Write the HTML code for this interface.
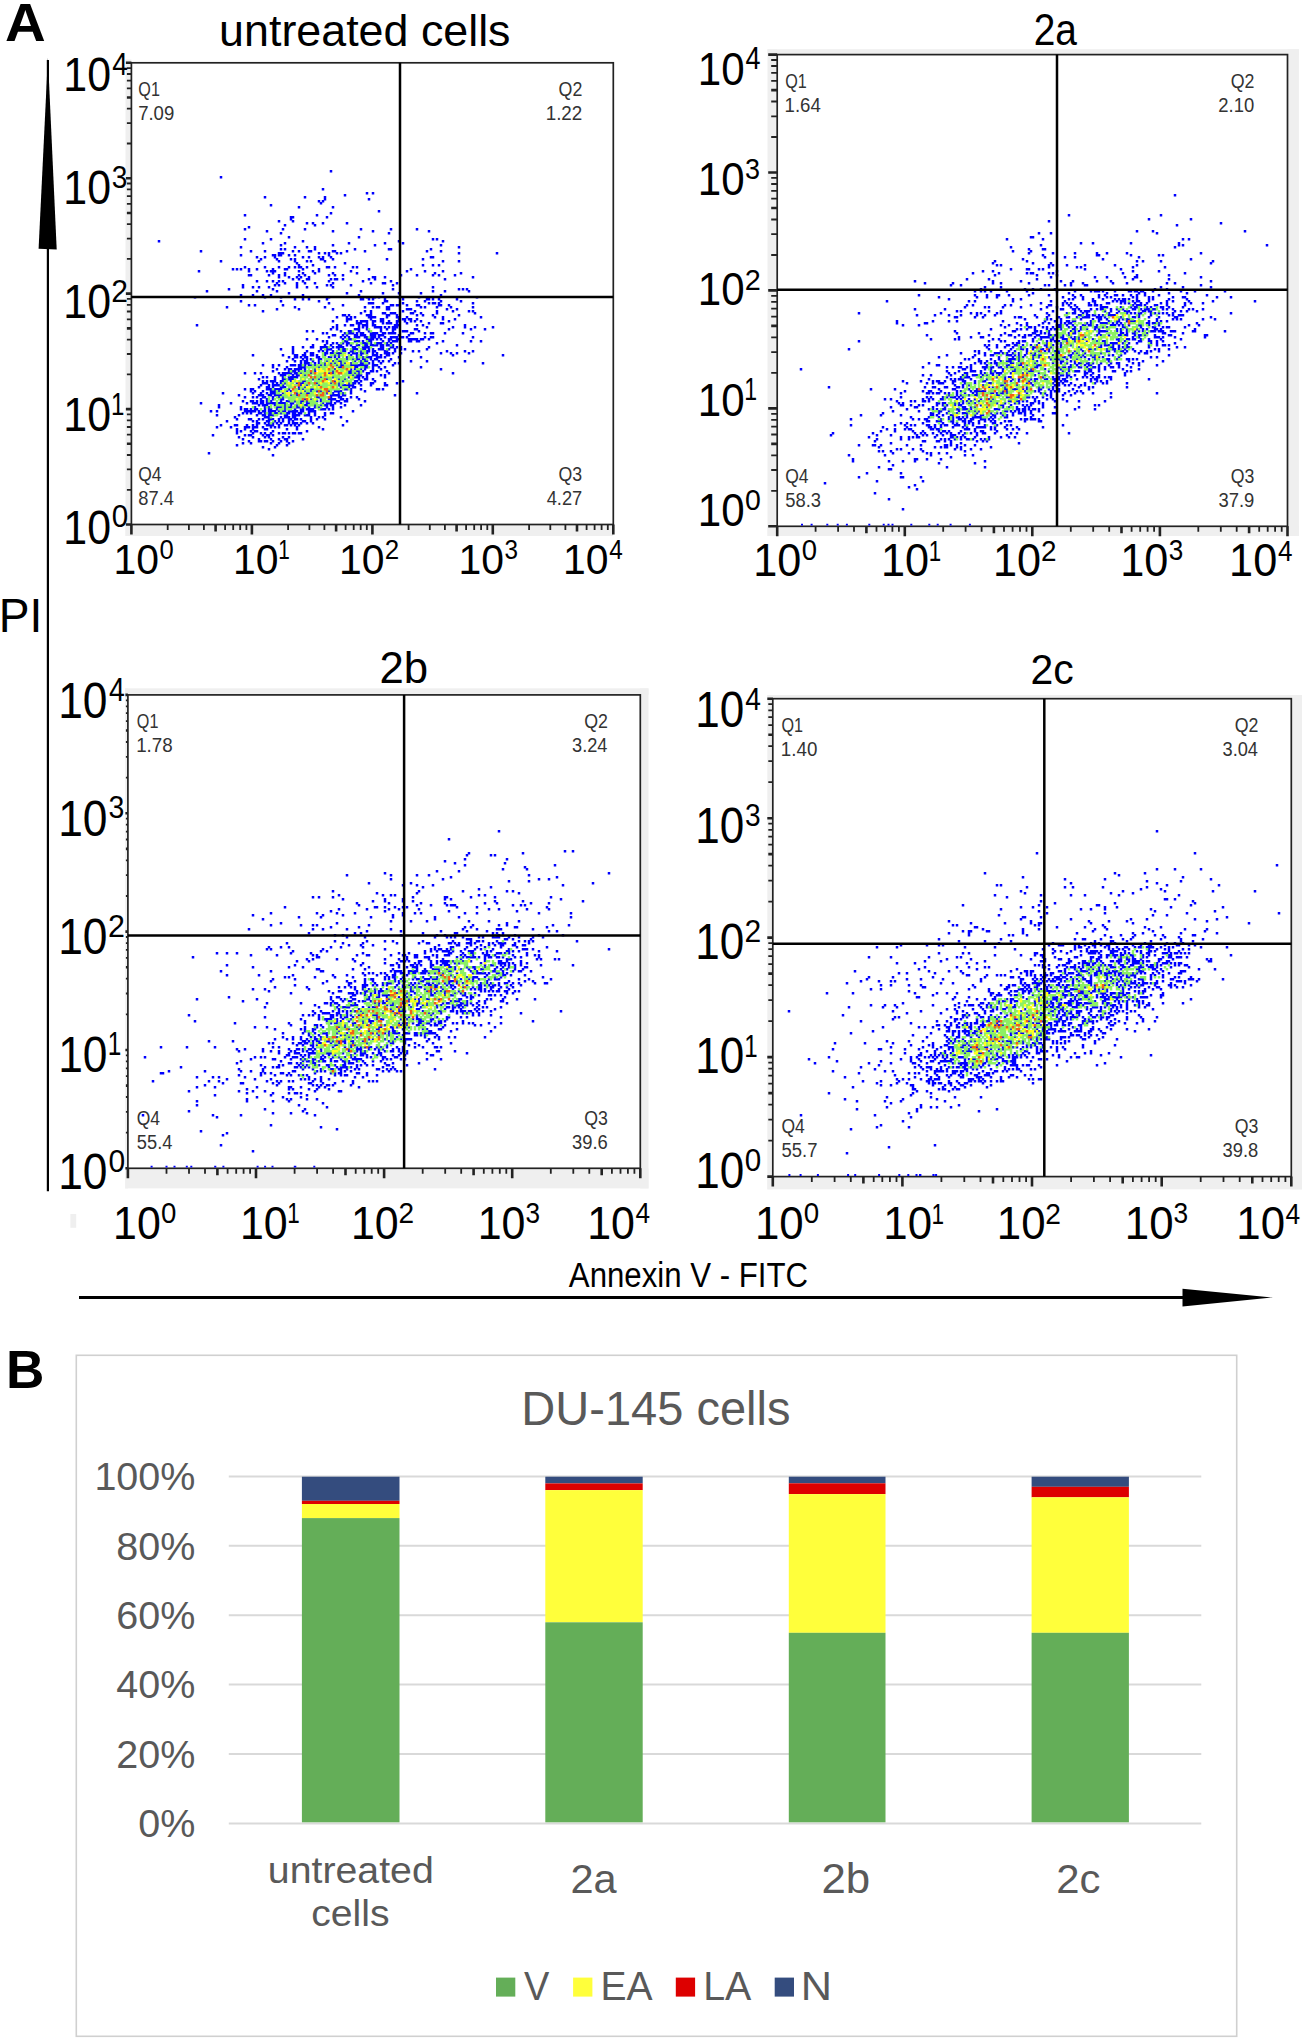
<!DOCTYPE html>
<html><head><meta charset="utf-8"><style>
html,body{margin:0;padding:0;background:#fff;}
svg{display:block;font-family:"Liberation Sans",sans-serif;font-kerning:none;}
</style></head><body>
<svg width="1306" height="2042" viewBox="0 0 1306 2042">
<rect width="1306" height="2042" fill="#fff"/>
<rect x="125.5" y="59.5" width="5.90" height="476.50" fill="#efefef"/>
<rect x="125.5" y="524.5" width="487.50" height="11.50" fill="#efefef"/>
<rect x="131.4" y="62.8" width="481.90" height="461.70" fill="#fff" stroke="#222" stroke-width="1.7"/>
<path d="M315.75 390h2.5M291.75 376h2.5M279.75 374h2.5M355.75 396h2.5M243.75 228h2.5M341.75 314h2.5M401.75 302h2.5M363.75 348h2.5M265.75 424h2.5M427.75 322h2.5M331.75 376h2.5M305.75 360h2.5M345.75 334h2.5M257.75 404h2.5M319.75 408h2.5M415.75 340h2.5M331.75 326h2.5M355.75 352h2.5M237.75 436h2.5M431.75 290h2.5M337.75 390h2.5M269.75 394h2.5M299.75 266h2.5M277.75 406h2.5M337.75 378h2.5M283.75 432h2.5M277.75 394h2.5M363.75 364h2.5M393.75 324h2.5M357.75 378h2.5M257.75 260h2.5M349.75 384h2.5M385.75 316h2.5M283.75 404h2.5M441.75 270h2.5M323.75 352h2.5M265.75 386h2.5M303.75 228h2.5M369.75 316h2.5M287.75 400h2.5M293.75 410h2.5M291.75 250h2.5M321.75 408h2.5M267.75 422h2.5M311.75 388h2.5M395.75 320h2.5M263.75 406h2.5M449.75 306h2.5M397.75 338h2.5M431.75 256h2.5M245.75 426h2.5M389.75 332h2.5M301.75 256h2.5M353.75 372h2.5M205.75 290h2.5M337.75 400h2.5M349.75 344h2.5M309.75 388h2.5M377.75 334h2.5M421.75 264h2.5M281.75 402h2.5M309.75 390h2.5M275.75 422h2.5M339.75 366h2.5M255.75 414h2.5M421.75 258h2.5M379.75 318h2.5M415.75 324h2.5M345.75 316h2.5M287.75 376h2.5M347.75 336h2.5M335.75 364h2.5M453.75 274h2.5M355.75 380h2.5M361.75 280h2.5M331.75 360h2.5M225.75 420h2.5M235.75 268h2.5M315.75 356h2.5M371.75 338h2.5M281.75 386h2.5M423.75 300h2.5M415.75 328h2.5M231.75 268h2.5M269.75 426h2.5M321.75 222h2.5M327.75 254h2.5M307.75 364h2.5M269.75 294h2.5M369.75 342h2.5M335.75 358h2.5M373.75 276h2.5M327.75 390h2.5M343.75 336h2.5M359.75 388h2.5M301.75 296h2.5M359.75 352h2.5M287.75 356h2.5M317.75 396h2.5M335.75 324h2.5M469.75 340h2.5M353.75 348h2.5M349.75 372h2.5M389.75 304h2.5M283.75 410h2.5M313.75 368h2.5M315.75 400h2.5M363.75 378h2.5M385.75 354h2.5M313.75 248h2.5M373.75 332h2.5M261.75 404h2.5M303.75 398h2.5M349.75 338h2.5M353.75 376h2.5M285.75 372h2.5M345.75 318h2.5M375.75 354h2.5M285.75 440h2.5M261.75 426h2.5M343.75 332h2.5M275.75 290h2.5M351.75 384h2.5M371.75 192h2.5M291.75 420h2.5M331.75 282h2.5M295.75 382h2.5M315.75 418h2.5M281.75 378h2.5M323.75 362h2.5M371.75 362h2.5M243.75 214h2.5M391.75 326h2.5M291.75 410h2.5M275.75 444h2.5M455.75 298h2.5M371.75 316h2.5M313.75 414h2.5M327.75 372h2.5M353.75 346h2.5M271.75 380h2.5M393.75 326h2.5M351.75 346h2.5M247.75 268h2.5M243.75 372h2.5M333.75 250h2.5M265.75 382h2.5M307.75 392h2.5M261.75 414h2.5M265.75 380h2.5M277.75 388h2.5M377.75 360h2.5M337.75 360h2.5M295.75 282h2.5M353.75 340h2.5M255.75 408h2.5M343.75 378h2.5M263.75 410h2.5M381.75 292h2.5M271.75 270h2.5M245.75 402h2.5M385.75 306h2.5M283.75 242h2.5M297.75 366h2.5M327.75 252h2.5M379.75 368h2.5M283.75 268h2.5M325.75 360h2.5M379.75 342h2.5M357.75 358h2.5M397.75 362h2.5M289.75 364h2.5M309.75 420h2.5M395.75 316h2.5M331.75 230h2.5M365.75 350h2.5M283.75 374h2.5M379.75 326h2.5M333.75 266h2.5M329.75 394h2.5M353.75 382h2.5M289.75 368h2.5M261.75 418h2.5M349.75 332h2.5M401.75 310h2.5M265.75 404h2.5M475.75 296h2.5M327.75 280h2.5M377.75 306h2.5M293.75 354h2.5M353.75 328h2.5M471.75 350h2.5M329.75 382h2.5M247.75 434h2.5M273.75 254h2.5M311.75 270h2.5M235.75 430h2.5M295.75 372h2.5M371.75 370h2.5M365.75 376h2.5M447.75 304h2.5M457.75 246h2.5M355.75 364h2.5M283.75 386h2.5M457.75 314h2.5M325.75 352h2.5M381.75 282h2.5M355.75 348h2.5M307.75 278h2.5M309.75 260h2.5M261.75 380h2.5M415.75 300h2.5M287.75 236h2.5M263.75 416h2.5M367.75 372h2.5M307.75 298h2.5M289.75 378h2.5M393.75 336h2.5M415.75 228h2.5M313.75 272h2.5M337.75 392h2.5M243.75 434h2.5M299.75 392h2.5M387.75 232h2.5M465.75 288h2.5M359.75 350h2.5M341.75 392h2.5M387.75 314h2.5M285.75 414h2.5M443.75 332h2.5M369.75 370h2.5M273.75 446h2.5M365.75 314h2.5M347.75 332h2.5M377.75 356h2.5M333.75 368h2.5M387.75 306h2.5M333.75 354h2.5M351.75 386h2.5M363.75 310h2.5M301.75 406h2.5M299.75 402h2.5M317.75 416h2.5M299.75 418h2.5M431.75 274h2.5M437.75 298h2.5M337.75 356h2.5M321.75 258h2.5M313.75 282h2.5M253.75 408h2.5M333.75 274h2.5M331.75 286h2.5M255.75 396h2.5M407.75 318h2.5M425.75 360h2.5M333.75 334h2.5M401.75 336h2.5M333.75 362h2.5M409.75 268h2.5M293.75 298h2.5M253.75 406h2.5M461.75 288h2.5M339.75 362h2.5M293.75 408h2.5M337.75 366h2.5M435.75 238h2.5M423.75 332h2.5M269.75 238h2.5M211.75 434h2.5M309.75 364h2.5M283.75 416h2.5M331.75 250h2.5M365.75 364h2.5M361.75 326h2.5M291.75 278h2.5M317.75 384h2.5M295.75 392h2.5M251.75 402h2.5M293.75 364h2.5M353.75 316h2.5M357.75 326h2.5M287.75 420h2.5M317.75 268h2.5M451.75 326h2.5M319.75 364h2.5M253.75 372h2.5M409.75 338h2.5M275.75 388h2.5M301.75 366h2.5M373.75 296h2.5M323.75 346h2.5M331.75 394h2.5M271.75 280h2.5M421.75 338h2.5M295.75 376h2.5M327.75 356h2.5M343.75 404h2.5M283.75 224h2.5M301.75 294h2.5M331.75 346h2.5M435.75 342h2.5M281.75 432h2.5M409.75 340h2.5M367.75 356h2.5M249.75 250h2.5M247.75 418h2.5M305.75 430h2.5M359.75 384h2.5M351.75 364h2.5M371.75 336h2.5M281.75 396h2.5M273.75 412h2.5M433.75 272h2.5M279.75 416h2.5M287.75 368h2.5M279.75 412h2.5M335.75 328h2.5M407.75 340h2.5M305.75 392h2.5M301.75 380h2.5M285.75 268h2.5M355.75 334h2.5M261.75 376h2.5M249.75 274h2.5M359.75 322h2.5M343.75 362h2.5M355.75 266h2.5M309.75 398h2.5M381.75 332h2.5M343.75 394h2.5M411.75 332h2.5M271.75 418h2.5M265.75 416h2.5M373.75 358h2.5M351.75 358h2.5M349.75 364h2.5M319.75 398h2.5M299.75 360h2.5M277.75 252h2.5M279.75 380h2.5M355.75 340h2.5M275.75 408h2.5M365.75 372h2.5M299.75 382h2.5M335.75 316h2.5M269.75 204h2.5M279.75 244h2.5M207.75 452h2.5M437.75 264h2.5M277.75 402h2.5M295.75 374h2.5M363.75 324h2.5M265.75 440h2.5M393.75 362h2.5M321.75 200h2.5M267.75 388h2.5M375.75 332h2.5M291.75 416h2.5M457.75 252h2.5M291.75 440h2.5M289.75 258h2.5M303.75 368h2.5M273.75 284h2.5M325.75 348h2.5M259.75 258h2.5M431.75 302h2.5M359.75 312h2.5M279.75 348h2.5M427.75 338h2.5M317.75 366h2.5M333.75 390h2.5M457.75 288h2.5M261.75 400h2.5M417.75 350h2.5M287.75 388h2.5M319.75 400h2.5M267.75 274h2.5M305.75 408h2.5M271.75 254h2.5M263.75 432h2.5M303.75 390h2.5M311.75 422h2.5M383.75 242h2.5M287.75 412h2.5M261.75 310h2.5M305.75 356h2.5M241.75 412h2.5M391.75 330h2.5M269.75 424h2.5M301.75 268h2.5M269.75 414h2.5M347.75 386h2.5M341.75 342h2.5M353.75 360h2.5M251.75 420h2.5M273.75 376h2.5M483.75 328h2.5M439.75 352h2.5M381.75 322h2.5M291.75 422h2.5M317.75 378h2.5M195.75 324h2.5M451.75 354h2.5M295.75 404h2.5M263.75 256h2.5M331.75 258h2.5M321.75 256h2.5M471.75 310h2.5M317.75 358h2.5M441.75 322h2.5M391.75 328h2.5M299.75 356h2.5M367.75 346h2.5M325.75 350h2.5M265.75 388h2.5M361.75 358h2.5M375.75 352h2.5M379.75 330h2.5M455.75 352h2.5M357.75 340h2.5M301.75 382h2.5M419.75 338h2.5M359.75 354h2.5M359.75 380h2.5M279.75 406h2.5M291.75 358h2.5M369.75 338h2.5M267.75 448h2.5M247.75 410h2.5M443.75 278h2.5M425.75 298h2.5M283.75 382h2.5M401.75 380h2.5M293.75 246h2.5M381.75 340h2.5M339.75 364h2.5M469.75 328h2.5M245.75 424h2.5M431.75 264h2.5M373.75 316h2.5M353.75 334h2.5M379.75 348h2.5M289.75 218h2.5M307.75 412h2.5M219.75 176h2.5M359.75 334h2.5M501.75 354h2.5M251.75 432h2.5M259.75 400h2.5M361.75 376h2.5M405.75 304h2.5M293.75 260h2.5M359.75 368h2.5M417.75 340h2.5M193.75 296h2.5M289.75 390h2.5M423.75 306h2.5M383.75 336h2.5M371.75 354h2.5M319.75 346h2.5M357.75 328h2.5M337.75 396h2.5M383.75 332h2.5M361.75 370h2.5M331.75 272h2.5M369.75 358h2.5M467.75 352h2.5M297.75 386h2.5M369.75 382h2.5M347.75 384h2.5M277.75 284h2.5M257.75 410h2.5M347.75 314h2.5M367.75 198h2.5M345.75 344h2.5M333.75 380h2.5M379.75 344h2.5M429.75 336h2.5M431.75 286h2.5M309.75 416h2.5M347.75 372h2.5M375.75 364h2.5M271.75 386h2.5M441.75 240h2.5M305.75 286h2.5M335.75 394h2.5M325.75 216h2.5M329.75 404h2.5M269.75 418h2.5M299.75 364h2.5M463.75 350h2.5M381.75 302h2.5M279.75 386h2.5M363.75 334h2.5M261.75 294h2.5M385.75 308h2.5M331.75 244h2.5M319.75 390h2.5M273.75 388h2.5M331.75 320h2.5M363.75 320h2.5M373.75 336h2.5M283.75 406h2.5M371.75 306h2.5M433.75 302h2.5M263.75 266h2.5M279.75 398h2.5M295.75 428h2.5M331.75 392h2.5M455.75 344h2.5M303.75 196h2.5M373.75 344h2.5M243.75 266h2.5M373.75 364h2.5M371.75 230h2.5M405.75 322h2.5M435.75 312h2.5M393.75 312h2.5M241.75 400h2.5M323.75 344h2.5M329.75 348h2.5M267.75 412h2.5M279.75 252h2.5M289.75 418h2.5M429.75 256h2.5M271.75 390h2.5M279.75 400h2.5M443.75 290h2.5M397.75 240h2.5M263.75 436h2.5M371.75 298h2.5M471.75 276h2.5M299.75 412h2.5M363.75 368h2.5M495.75 252h2.5M405.75 270h2.5M305.75 278h2.5M347.75 242h2.5M371.75 366h2.5M311.75 330h2.5M305.75 384h2.5M323.75 260h2.5M249.75 412h2.5M345.75 384h2.5M339.75 360h2.5M343.75 194h2.5M345.75 222h2.5M291.75 348h2.5M285.75 390h2.5M301.75 358h2.5M273.75 402h2.5M351.75 350h2.5M335.75 390h2.5M289.75 394h2.5M345.75 356h2.5M329.75 356h2.5M345.75 320h2.5M445.75 350h2.5M383.75 376h2.5M383.75 282h2.5M391.75 346h2.5M353.75 368h2.5M345.75 400h2.5M285.75 366h2.5M291.75 220h2.5M257.75 378h2.5M301.75 280h2.5M239.75 268h2.5M353.75 364h2.5M383.75 276h2.5M277.75 254h2.5M423.75 336h2.5M341.75 338h2.5M461.75 332h2.5M281.75 374h2.5M405.75 316h2.5M281.75 392h2.5M361.75 342h2.5M271.75 454h2.5M459.75 272h2.5M361.75 298h2.5M279.75 394h2.5M371.75 382h2.5M409.75 332h2.5M411.75 350h2.5M333.75 394h2.5M425.75 326h2.5M377.75 348h2.5M359.75 320h2.5M405.75 330h2.5M343.75 400h2.5M243.75 238h2.5M307.75 410h2.5M313.75 406h2.5M307.75 256h2.5M441.75 260h2.5M379.75 334h2.5M301.75 408h2.5M479.75 316h2.5M305.75 266h2.5M381.75 388h2.5M367.75 348h2.5M371.75 302h2.5M491.75 326h2.5M473.75 326h2.5M305.75 400h2.5M423.75 270h2.5M311.75 352h2.5M279.75 440h2.5M293.75 356h2.5M397.75 292h2.5M293.75 424h2.5M303.75 364h2.5M329.75 170h2.5M229.75 426h2.5M277.75 432h2.5M383.75 298h2.5M355.75 376h2.5M363.75 366h2.5M395.75 282h2.5M297.75 266h2.5M309.75 410h2.5M257.75 438h2.5M299.75 400h2.5M313.75 404h2.5M307.75 362h2.5M397.75 356h2.5M357.75 372h2.5M369.75 356h2.5M361.75 320h2.5M297.75 432h2.5M301.75 438h2.5M323.75 414h2.5M281.75 420h2.5M259.75 398h2.5M305.75 260h2.5M293.75 368h2.5M269.75 432h2.5M291.75 374h2.5M241.75 284h2.5M415.75 274h2.5M297.75 374h2.5M429.75 248h2.5M363.75 346h2.5M355.75 370h2.5M277.75 384h2.5M431.75 314h2.5M381.75 334h2.5M369.75 344h2.5M365.75 360h2.5M325.75 284h2.5M341.75 274h2.5M433.75 316h2.5M425.75 250h2.5M379.75 362h2.5M379.75 320h2.5M389.75 342h2.5M399.75 336h2.5M371.75 348h2.5M257.75 286h2.5M323.75 418h2.5M263.75 396h2.5M259.75 440h2.5M301.75 388h2.5M351.75 348h2.5M331.75 398h2.5M355.75 358h2.5M357.75 370h2.5M373.75 334h2.5M381.75 344h2.5M399.75 274h2.5M307.75 414h2.5M471.75 302h2.5M323.75 196h2.5M353.75 248h2.5M367.75 316h2.5M295.75 286h2.5M439.75 304h2.5M283.75 372h2.5M317.75 270h2.5M307.75 406h2.5M357.75 336h2.5M293.75 376h2.5M365.75 326h2.5M291.75 352h2.5M299.75 384h2.5M375.75 356h2.5M377.75 326h2.5M337.75 348h2.5M343.75 314h2.5M293.75 414h2.5M389.75 338h2.5M273.75 390h2.5M269.75 388h2.5M371.75 364h2.5M363.75 342h2.5M467.75 290h2.5M429.75 332h2.5M279.75 422h2.5M303.75 380h2.5M435.75 306h2.5M341.75 394h2.5M335.75 278h2.5M349.75 388h2.5M467.75 310h2.5M301.75 272h2.5M355.75 272h2.5M325.75 392h2.5M283.75 274h2.5M365.75 378h2.5M373.75 244h2.5M349.75 330h2.5M361.75 364h2.5M341.75 424h2.5M289.75 216h2.5M227.75 288h2.5M375.75 306h2.5M251.75 400h2.5M345.75 250h2.5M317.75 360h2.5M421.75 314h2.5M395.75 322h2.5M457.75 260h2.5M375.75 344h2.5M287.75 292h2.5M257.75 422h2.5M269.75 400h2.5M419.75 356h2.5M357.75 330h2.5M387.75 332h2.5M301.75 240h2.5M431.75 238h2.5M277.75 276h2.5M269.75 408h2.5M283.75 272h2.5M257.75 394h2.5M289.75 380h2.5M357.75 236h2.5M313.75 364h2.5M303.75 374h2.5M353.75 366h2.5M277.75 280h2.5M441.75 316h2.5M395.75 324h2.5M351.75 266h2.5M295.75 394h2.5M439.75 244h2.5M407.75 334h2.5M275.75 394h2.5M409.75 360h2.5M277.75 390h2.5M387.75 326h2.5M401.75 242h2.5M255.75 290h2.5M349.75 284h2.5M377.75 296h2.5M273.75 420h2.5M339.75 352h2.5M329.75 344h2.5M439.75 294h2.5M311.75 222h2.5M319.75 376h2.5M357.75 294h2.5M427.75 230h2.5M393.75 340h2.5M381.75 318h2.5M347.75 370h2.5M317.75 362h2.5M437.75 274h2.5M437.75 302h2.5M297.75 274h2.5M299.75 372h2.5M439.75 250h2.5M357.75 398h2.5M391.75 352h2.5M273.75 404h2.5M241.75 442h2.5M285.75 400h2.5M327.75 402h2.5M299.75 410h2.5M323.75 252h2.5M325.75 346h2.5M331.75 372h2.5M283.75 248h2.5M265.75 230h2.5M257.75 418h2.5M339.75 416h2.5M229.75 402h2.5M277.75 426h2.5M427.75 298h2.5M317.75 300h2.5M303.75 274h2.5M419.75 292h2.5M285.75 444h2.5M339.75 252h2.5M237.75 414h2.5M293.75 432h2.5M293.75 418h2.5M265.75 270h2.5M377.75 210h2.5M381.75 346h2.5M387.75 322h2.5M401.75 330h2.5M317.75 256h2.5M251.75 436h2.5M259.75 402h2.5M343.75 262h2.5M279.75 402h2.5M387.75 338h2.5M327.75 274h2.5M277.75 418h2.5M297.75 388h2.5M301.75 400h2.5M307.75 250h2.5M327.75 296h2.5M377.75 388h2.5M281.75 280h2.5M273.75 426h2.5M273.75 392h2.5M421.75 324h2.5M363.75 250h2.5M367.75 278h2.5M385.75 314h2.5M431.75 332h2.5M365.75 366h2.5M431.75 298h2.5M343.75 348h2.5M225.75 306h2.5M265.75 400h2.5M323.75 364h2.5M403.75 348h2.5M337.75 382h2.5M263.75 408h2.5M243.75 408h2.5M365.75 374h2.5M287.75 266h2.5M355.75 332h2.5M241.75 286h2.5M345.75 358h2.5M325.75 378h2.5M389.75 248h2.5M259.75 412h2.5M439.75 322h2.5M329.75 284h2.5M355.75 374h2.5M291.75 378h2.5M295.75 414h2.5M265.75 420h2.5M451.75 310h2.5M345.75 420h2.5M265.75 398h2.5M299.75 432h2.5M329.75 256h2.5M331.75 206h2.5M297.75 206h2.5M385.75 350h2.5M357.75 364h2.5M371.75 276h2.5M281.75 228h2.5M309.75 408h2.5M393.75 394h2.5M329.75 352h2.5M325.75 342h2.5M263.75 404h2.5M271.75 364h2.5M251.75 396h2.5M285.75 360h2.5M267.75 384h2.5M349.75 368h2.5M361.75 348h2.5M281.75 354h2.5M251.75 286h2.5M445.75 308h2.5M471.75 336h2.5M275.75 258h2.5M271.75 440h2.5M299.75 276h2.5M385.75 352h2.5M235.75 424h2.5M239.75 294h2.5M243.75 396h2.5M271.75 402h2.5M361.75 334h2.5M297.75 406h2.5M365.75 192h2.5M365.75 352h2.5M239.75 254h2.5M319.75 348h2.5M349.75 362h2.5M325.75 266h2.5M391.75 288h2.5M393.75 332h2.5M409.75 312h2.5M239.75 246h2.5M379.75 338h2.5M315.75 382h2.5M331.75 412h2.5M341.75 278h2.5M367.75 268h2.5M233.75 424h2.5M401.75 318h2.5M329.75 278h2.5M365.75 336h2.5M277.75 442h2.5M239.75 300h2.5M255.75 402h2.5M329.75 212h2.5M275.75 368h2.5M379.75 354h2.5M255.75 256h2.5M367.75 298h2.5M359.75 228h2.5M313.75 370h2.5M367.75 314h2.5M277.75 424h2.5M447.75 328h2.5M281.75 252h2.5M393.75 348h2.5M277.75 266h2.5M271.75 410h2.5M271.75 288h2.5M353.75 380h2.5M315.75 354h2.5M331.75 308h2.5M321.75 350h2.5M255.75 280h2.5M271.75 268h2.5M283.75 424h2.5M293.75 412h2.5M387.75 320h2.5M299.75 422h2.5M343.75 384h2.5M275.75 308h2.5M367.75 330h2.5M291.75 402h2.5M383.75 352h2.5M441.75 340h2.5M303.75 370h2.5M351.75 324h2.5M239.75 430h2.5M279.75 382h2.5M331.75 406h2.5M281.75 410h2.5M397.75 318h2.5M267.75 420h2.5M287.75 378h2.5M295.75 368h2.5M377.75 342h2.5M391.75 332h2.5M259.75 384h2.5M373.75 350h2.5M287.75 442h2.5M347.75 338h2.5M319.75 202h2.5M391.75 336h2.5M349.75 350h2.5M335.75 252h2.5M315.75 214h2.5M295.75 422h2.5M251.75 392h2.5M267.75 406h2.5M263.75 412h2.5M317.75 252h2.5M395.75 382h2.5M343.75 350h2.5M331.75 342h2.5M347.75 352h2.5M235.75 432h2.5M303.75 282h2.5M417.75 304h2.5M275.75 282h2.5M455.75 308h2.5M339.75 402h2.5M311.75 360h2.5M275.75 384h2.5M197.75 270h2.5M427.75 302h2.5M307.75 276h2.5M389.75 228h2.5M219.75 260h2.5M263.75 428h2.5M415.75 318h2.5M413.75 328h2.5M279.75 232h2.5M277.75 438h2.5M341.75 398h2.5M261.75 446h2.5M315.75 286h2.5M243.75 388h2.5M295.75 276h2.5M471.75 306h2.5M349.75 316h2.5M289.75 402h2.5M329.75 362h2.5M419.75 312h2.5M367.75 302h2.5M313.75 224h2.5M327.75 398h2.5M279.75 254h2.5M307.75 296h2.5M349.75 392h2.5M425.75 348h2.5M299.75 368h2.5M319.75 258h2.5M463.75 360h2.5M303.75 386h2.5M385.75 258h2.5M353.75 386h2.5M265.75 280h2.5M413.75 338h2.5M387.75 344h2.5M357.75 374h2.5M315.75 338h2.5M215.75 410h2.5M303.75 360h2.5M367.75 362h2.5M271.75 398h2.5M299.75 366h2.5M355.75 366h2.5M351.75 410h2.5M375.75 358h2.5M287.75 432h2.5M329.75 398h2.5M309.75 250h2.5M387.75 360h2.5M411.75 338h2.5M453.75 318h2.5M295.75 262h2.5M251.75 294h2.5M389.75 312h2.5M381.75 312h2.5M383.75 384h2.5M403.75 330h2.5M371.75 368h2.5M415.75 392h2.5M371.75 324h2.5M317.75 406h2.5M269.75 392h2.5M333.75 398h2.5M259.75 394h2.5M321.75 188h2.5M295.75 284h2.5M289.75 406h2.5M343.75 388h2.5M367.75 340h2.5M299.75 408h2.5M281.75 436h2.5M269.75 270h2.5M297.75 308h2.5M281.75 380h2.5M395.75 304h2.5M283.75 402h2.5M305.75 338h2.5M295.75 354h2.5M329.75 328h2.5M293.75 258h2.5M251.75 428h2.5M369.75 282h2.5M369.75 318h2.5M347.75 330h2.5M247.75 304h2.5M287.75 254h2.5M351.75 352h2.5M351.75 374h2.5M287.75 372h2.5M257.75 412h2.5M347.75 382h2.5M383.75 350h2.5M323.75 198h2.5M251.75 388h2.5M305.75 246h2.5M249.75 442h2.5M321.75 416h2.5M271.75 272h2.5M293.75 400h2.5M439.75 300h2.5M237.75 394h2.5M351.75 382h2.5M359.75 364h2.5M417.75 330h2.5M383.75 356h2.5M341.75 380h2.5M271.75 382h2.5M337.75 352h2.5M253.75 402h2.5M427.75 346h2.5M301.75 354h2.5M383.75 326h2.5M311.75 264h2.5M317.75 200h2.5M295.75 426h2.5M399.75 352h2.5M259.75 392h2.5M389.75 322h2.5M247.75 270h2.5M293.75 254h2.5M387.75 372h2.5M273.75 394h2.5M361.75 352h2.5M473.75 312h2.5M271.75 422h2.5M387.75 352h2.5M297.75 264h2.5M249.75 400h2.5M293.75 306h2.5M413.75 310h2.5M355.75 356h2.5M199.75 250h2.5M303.75 354h2.5M313.75 246h2.5M411.75 312h2.5M377.75 366h2.5M357.75 344h2.5M417.75 296h2.5M255.75 268h2.5M335.75 342h2.5M359.75 332h2.5M221.75 392h2.5M339.75 330h2.5M287.75 276h2.5M389.75 358h2.5M297.75 370h2.5M263.75 196h2.5M439.75 368h2.5M289.75 424h2.5M293.75 370h2.5M261.75 242h2.5M297.75 412h2.5M459.75 300h2.5M315.75 396h2.5M297.75 250h2.5M299.75 362h2.5M277.75 364h2.5M337.75 354h2.5M345.75 292h2.5M371.75 332h2.5M261.75 394h2.5M291.75 216h2.5M359.75 290h2.5M279.75 300h2.5M359.75 404h2.5M323.75 412h2.5M365.75 346h2.5M391.75 344h2.5M259.75 432h2.5M355.75 354h2.5M269.75 412h2.5M255.75 420h2.5M297.75 278h2.5M243.75 426h2.5M327.75 266h2.5M323.75 354h2.5M343.75 324h2.5M273.75 270h2.5M351.75 332h2.5M335.75 326h2.5M357.75 382h2.5M309.75 346h2.5M263.75 440h2.5M399.75 346h2.5M365.75 344h2.5M341.75 346h2.5M281.75 372h2.5M261.75 390h2.5M283.75 282h2.5M271.75 434h2.5M247.75 274h2.5M419.75 320h2.5M361.75 346h2.5M403.75 318h2.5M415.75 338h2.5M331.75 408h2.5M321.75 332h2.5M325.75 298h2.5M277.75 274h2.5M329.75 396h2.5M373.75 326h2.5M341.75 384h2.5M247.75 426h2.5M291.75 412h2.5M259.75 372h2.5M311.75 378h2.5M437.75 304h2.5M305.75 414h2.5M243.75 410h2.5M301.75 410h2.5M377.75 336h2.5M217.75 406h2.5M313.75 410h2.5M157.75 240h2.5M309.75 358h2.5M387.75 348h2.5M245.75 408h2.5M261.75 410h2.5M303.75 420h2.5M267.75 286h2.5M383.75 300h2.5M359.75 298h2.5M393.75 328h2.5M285.75 416h2.5M263.75 250h2.5M391.75 284h2.5M235.75 418h2.5M247.75 440h2.5M269.75 402h2.5M269.75 390h2.5M349.75 354h2.5M295.75 418h2.5M287.75 410h2.5M373.75 278h2.5M407.75 338h2.5M297.75 270h2.5M317.75 356h2.5M313.75 362h2.5M365.75 296h2.5M395.75 314h2.5M277.75 220h2.5M283.75 368h2.5M481.75 362h2.5M293.75 266h2.5M311.75 346h2.5M361.75 362h2.5M273.75 380h2.5M219.75 424h2.5M401.75 298h2.5M385.75 384h2.5M293.75 372h2.5M345.75 342h2.5M397.75 320h2.5M363.75 306h2.5M339.75 346h2.5M287.75 406h2.5M337.75 384h2.5M369.75 384h2.5M349.75 318h2.5M387.75 248h2.5M331.75 352h2.5M357.75 376h2.5M349.75 270h2.5M329.75 402h2.5M273.75 378h2.5M361.75 332h2.5M287.75 436h2.5M281.75 398h2.5M389.75 280h2.5M397.75 316h2.5M285.75 412h2.5M367.75 350h2.5M371.75 378h2.5M395.75 338h2.5M311.75 354h2.5M273.75 256h2.5M277.75 260h2.5M305.75 222h2.5M365.75 328h2.5M247.75 226h2.5M279.75 248h2.5M333.75 278h2.5M413.75 320h2.5M375.75 388h2.5M307.75 402h2.5M387.75 354h2.5M309.75 418h2.5M267.75 436h2.5M279.75 388h2.5M397.75 334h2.5M353.75 336h2.5M369.75 340h2.5M371.75 296h2.5M331.75 404h2.5M271.75 392h2.5M449.75 352h2.5M275.75 406h2.5M295.75 410h2.5M249.75 410h2.5M353.75 352h2.5M355.75 344h2.5M305.75 350h2.5M199.75 402h2.5M407.75 308h2.5M289.75 410h2.5M243.75 428h2.5M249.75 390h2.5M371.75 322h2.5M309.75 352h2.5M317.75 426h2.5M385.75 370h2.5M277.75 396h2.5M369.75 336h2.5M383.75 374h2.5M271.75 384h2.5M305.75 362h2.5M339.75 386h2.5M277.75 410h2.5M319.75 358h2.5M283.75 378h2.5M463.75 326h2.5M255.75 424h2.5M373.75 324h2.5M365.75 356h2.5M337.75 394h2.5M399.75 348h2.5M409.75 308h2.5M337.75 344h2.5M267.75 408h2.5M267.75 394h2.5M395.75 336h2.5M255.75 430h2.5M339.75 396h2.5M291.75 370h2.5M303.75 362h2.5M349.75 324h2.5M431.75 336h2.5M363.75 360h2.5M253.75 390h2.5M249.75 430h2.5M415.75 304h2.5M379.75 346h2.5M239.75 406h2.5M369.75 332h2.5M435.75 310h2.5M339.75 344h2.5M309.75 372h2.5M265.75 402h2.5M363.75 400h2.5M241.75 438h2.5M365.75 342h2.5M291.75 364h2.5M271.75 370h2.5M253.75 304h2.5M251.75 424h2.5M261.75 382h2.5M341.75 304h2.5M235.75 428h2.5M447.75 320h2.5M379.75 328h2.5M363.75 358h2.5M361.75 324h2.5M271.75 414h2.5M383.75 366h2.5M265.75 376h2.5M331.75 370h2.5M291.75 432h2.5M395.75 346h2.5M217.75 404h2.5M391.75 304h2.5M311.75 408h2.5M261.75 396h2.5M341.75 350h2.5M239.75 408h2.5M267.75 414h2.5M297.75 414h2.5M405.75 336h2.5M335.75 346h2.5M451.75 372h2.5M463.75 324h2.5M285.75 424h2.5M317.75 350h2.5M341.75 334h2.5M355.75 320h2.5M269.75 410h2.5M341.75 348h2.5M267.75 434h2.5M323.75 306h2.5M409.75 318h2.5M369.75 310h2.5M347.75 376h2.5M381.75 348h2.5M375.75 370h2.5M291.75 346h2.5M301.75 346h2.5M389.75 336h2.5M479.75 340h2.5M419.75 366h2.5M267.75 402h2.5M253.75 410h2.5M397.75 324h2.5M271.75 366h2.5M441.75 318h2.5M245.75 410h2.5M323.75 408h2.5M319.75 404h2.5M359.75 362h2.5M355.75 336h2.5M265.75 392h2.5M261.75 402h2.5M253.75 426h2.5M371.75 344h2.5M415.75 314h2.5M409.75 320h2.5M269.75 442h2.5M383.75 382h2.5M325.75 340h2.5M419.75 306h2.5M403.75 320h2.5M269.75 438h2.5M359.75 360h2.5M267.75 410h2.5M297.75 368h2.5M405.75 308h2.5M369.75 334h2.5M273.75 410h2.5M347.75 342h2.5M257.75 386h2.5M301.75 420h2.5M271.75 396h2.5M285.75 438h2.5M339.75 406h2.5M393.75 350h2.5M325.75 402h2.5M297.75 424h2.5M339.75 336h2.5M291.75 350h2.5M209.75 410h2.5M373.75 380h2.5M373.75 320h2.5M371.75 352h2.5M397.75 296h2.5M369.75 314h2.5M305.75 422h2.5M391.75 340h2.5M355.75 328h2.5M275.75 412h2.5M363.75 344h2.5M301.75 298h2.5M339.75 390h2.5M305.75 404h2.5M395.75 326h2.5M293.75 360h2.5M277.75 372h2.5M285.75 428h2.5M273.75 384h2.5M367.75 338h2.5M333.75 402h2.5M295.75 356h2.5M283.75 438h2.5M249.75 408h2.5M387.75 340h2.5M373.75 354h2.5M345.75 398h2.5M271.75 430h2.5M359.75 374h2.5M291.75 414h2.5M311.75 410h2.5M287.75 416h2.5M303.75 414h2.5M289.75 376h2.5M307.75 408h2.5M297.75 364h2.5M287.75 422h2.5M249.75 418h2.5M305.75 330h2.5M385.75 342h2.5M331.75 350h2.5M343.75 340h2.5M281.75 376h2.5M279.75 296h2.5M355.75 322h2.5M321.75 346h2.5M283.75 414h2.5M385.75 328h2.5M251.75 354h2.5M375.75 338h2.5M357.75 324h2.5M335.75 400h2.5M281.75 418h2.5M365.75 322h2.5M313.75 412h2.5M263.75 382h2.5M339.75 398h2.5M267.75 424h2.5M261.75 364h2.5M395.75 340h2.5M309.75 354h2.5M321.75 428h2.5M233.75 416h2.5M263.75 414h2.5M293.75 416h2.5M371.75 320h2.5M357.75 322h2.5M371.75 350h2.5M327.75 408h2.5M235.75 444h2.5M397.75 304h2.5M371.75 360h2.5M349.75 390h2.5M379.75 374h2.5M329.75 400h2.5M365.75 320h2.5M255.75 400h2.5M271.75 424h2.5M275.75 382h2.5M327.75 302h2.5M341.75 364h2.5M361.75 356h2.5M335.75 352h2.5M277.75 420h2.5M347.75 318h2.5M365.75 338h2.5M363.75 336h2.5M349.75 370h2.5M251.75 410h2.5M383.75 312h2.5M249.75 388h2.5M331.75 334h2.5M287.75 370h2.5M253.75 430h2.5M263.75 422h2.5M381.75 320h2.5M267.75 416h2.5M267.75 386h2.5M323.75 404h2.5M375.75 326h2.5M325.75 404h2.5M325.75 406h2.5M345.75 388h2.5M371.75 334h2.5M303.75 356h2.5M269.75 380h2.5M379.75 356h2.5M265.75 428h2.5M391.75 364h2.5M321.75 340h2.5M321.75 402h2.5M311.75 344h2.5M369.75 312h2.5M281.75 384h2.5M287.75 418h2.5M305.75 358h2.5M329.75 412h2.5M385.75 344h2.5M363.75 390h2.5M305.75 402h2.5M215.75 426h2.5M265.75 434h2.5M303.75 366h2.5M333.75 356h2.5M281.75 304h2.5M249.75 434h2.5M289.75 372h2.5M261.75 434h2.5M327.75 336h2.5M361.75 340h2.5M387.75 308h2.5M255.75 422h2.5M349.75 396h2.5M303.75 404h2.5M245.75 412h2.5M337.75 346h2.5M327.75 348h2.5M257.75 440h2.5M293.75 422h2.5M251.75 426h2.5M365.75 324h2.5M375.75 342h2.5M385.75 300h2.5M381.75 360h2.5M283.75 408h2.5M255.75 426h2.5M295.75 406h2.5M289.75 404h2.5M389.75 346h2.5M345.75 340h2.5M369.75 302h2.5M303.75 352h2.5M215.75 414h2.5M263.75 296h2.5M267.75 418h2.5M325.75 332h2.5M391.75 312h2.5M385.75 322h2.5" stroke="#0000ff" stroke-width="2.5" transform="translate(0,1.25)"/>
<path d="M363.75 352h2.5M313.75 400h2.5M311.75 404h2.5M333.75 358h2.5M329.75 380h2.5M295.75 396h2.5M325.75 396h2.5M291.75 398h2.5M309.75 400h2.5M311.75 372h2.5M309.75 396h2.5M295.75 402h2.5M305.75 372h2.5M317.75 382h2.5M293.75 396h2.5M275.75 396h2.5M327.75 376h2.5M329.75 388h2.5M341.75 354h2.5M281.75 404h2.5M323.75 396h2.5M331.75 368h2.5M349.75 380h2.5M345.75 374h2.5M365.75 340h2.5M351.75 338h2.5M329.75 378h2.5M333.75 374h2.5M325.75 358h2.5M363.75 362h2.5M339.75 384h2.5M323.75 390h2.5M357.75 350h2.5M333.75 388h2.5M323.75 382h2.5M327.75 400h2.5M317.75 394h2.5M351.75 376h2.5M351.75 372h2.5M289.75 370h2.5M307.75 388h2.5M311.75 390h2.5M357.75 346h2.5M331.75 364h2.5M341.75 374h2.5M311.75 382h2.5M309.75 378h2.5M275.75 414h2.5M299.75 396h2.5M339.75 342h2.5M277.75 412h2.5M343.75 366h2.5M307.75 384h2.5M333.75 384h2.5M343.75 368h2.5M329.75 358h2.5M311.75 386h2.5M259.75 408h2.5M289.75 384h2.5M339.75 378h2.5M319.75 402h2.5M313.75 388h2.5M323.75 398h2.5M319.75 372h2.5M323.75 384h2.5M359.75 356h2.5M313.75 384h2.5M293.75 388h2.5M383.75 342h2.5M351.75 370h2.5M367.75 328h2.5M315.75 384h2.5M323.75 400h2.5M341.75 362h2.5M305.75 390h2.5M273.75 398h2.5M325.75 382h2.5M299.75 380h2.5M325.75 386h2.5M277.75 392h2.5M335.75 362h2.5M369.75 346h2.5M355.75 368h2.5M341.75 368h2.5M303.75 394h2.5M321.75 378h2.5M337.75 388h2.5M329.75 392h2.5M265.75 406h2.5M291.75 396h2.5M335.75 360h2.5M319.75 360h2.5M313.75 380h2.5M321.75 398h2.5M347.75 356h2.5M301.75 386h2.5M323.75 394h2.5M317.75 364h2.5M339.75 392h2.5M329.75 370h2.5M287.75 404h2.5M321.75 376h2.5M343.75 352h2.5M295.75 388h2.5M283.75 394h2.5M321.75 382h2.5M323.75 386h2.5M337.75 376h2.5M329.75 376h2.5M317.75 404h2.5M349.75 358h2.5M311.75 402h2.5M333.75 364h2.5M339.75 354h2.5M325.75 366h2.5M301.75 396h2.5M319.75 366h2.5M337.75 364h2.5M283.75 412h2.5M317.75 380h2.5M289.75 386h2.5M323.75 360h2.5M343.75 380h2.5M293.75 394h2.5M311.75 368h2.5M347.75 364h2.5M285.75 404h2.5M309.75 404h2.5M317.75 388h2.5M323.75 358h2.5M331.75 362h2.5M329.75 390h2.5M275.75 400h2.5M297.75 392h2.5M305.75 380h2.5M291.75 382h2.5M321.75 386h2.5M303.75 384h2.5M335.75 388h2.5M299.75 398h2.5M273.75 414h2.5M359.75 342h2.5M323.75 368h2.5M359.75 372h2.5M331.75 388h2.5M303.75 412h2.5M309.75 366h2.5M309.75 392h2.5M321.75 352h2.5M325.75 384h2.5M327.75 358h2.5M315.75 388h2.5M351.75 360h2.5M287.75 386h2.5M299.75 386h2.5M321.75 396h2.5M305.75 376h2.5M333.75 370h2.5M323.75 392h2.5M309.75 382h2.5M323.75 376h2.5M325.75 400h2.5M335.75 366h2.5M291.75 406h2.5M285.75 388h2.5M313.75 378h2.5M297.75 372h2.5M345.75 348h2.5M313.75 396h2.5M361.75 350h2.5M283.75 388h2.5M301.75 402h2.5M293.75 390h2.5M349.75 356h2.5M327.75 346h2.5M343.75 374h2.5M367.75 366h2.5M315.75 398h2.5M323.75 366h2.5M309.75 386h2.5M339.75 350h2.5M333.75 372h2.5M325.75 364h2.5M363.75 350h2.5M319.75 392h2.5M283.75 380h2.5M337.75 380h2.5M303.75 382h2.5M277.75 404h2.5M299.75 370h2.5M321.75 364h2.5M355.75 362h2.5M307.75 390h2.5M307.75 380h2.5M303.75 388h2.5M327.75 364h2.5M365.75 358h2.5M287.75 384h2.5M321.75 356h2.5M365.75 354h2.5M293.75 398h2.5M301.75 364h2.5M339.75 382h2.5M323.75 356h2.5M287.75 398h2.5M301.75 392h2.5M319.75 388h2.5M297.75 380h2.5M281.75 394h2.5M355.75 372h2.5M319.75 378h2.5M347.75 354h2.5M291.75 386h2.5M297.75 398h2.5M321.75 404h2.5M321.75 366h2.5M301.75 374h2.5M343.75 392h2.5M275.75 390h2.5M309.75 374h2.5M305.75 366h2.5M327.75 378h2.5M295.75 390h2.5M279.75 404h2.5M305.75 388h2.5M297.75 404h2.5M339.75 368h2.5M341.75 370h2.5M345.75 380h2.5M353.75 338h2.5M357.75 360h2.5M331.75 354h2.5M307.75 396h2.5M311.75 364h2.5M325.75 374h2.5M389.75 344h2.5M279.75 396h2.5M279.75 410h2.5M295.75 384h2.5M293.75 378h2.5M307.75 404h2.5M303.75 372h2.5M281.75 408h2.5M303.75 396h2.5M313.75 390h2.5M303.75 406h2.5M303.75 378h2.5M311.75 376h2.5M323.75 370h2.5M341.75 376h2.5M351.75 378h2.5M341.75 352h2.5M315.75 386h2.5M347.75 380h2.5M327.75 360h2.5M341.75 360h2.5M299.75 378h2.5M321.75 372h2.5M335.75 374h2.5M301.75 372h2.5M321.75 400h2.5M317.75 392h2.5M345.75 386h2.5M299.75 406h2.5M283.75 392h2.5M353.75 358h2.5M269.75 422h2.5M385.75 348h2.5M343.75 372h2.5M303.75 400h2.5M293.75 384h2.5M315.75 402h2.5M315.75 364h2.5M335.75 378h2.5M363.75 356h2.5M315.75 380h2.5M319.75 362h2.5M351.75 362h2.5M315.75 374h2.5M301.75 404h2.5M293.75 406h2.5M313.75 394h2.5M353.75 374h2.5M289.75 398h2.5M301.75 394h2.5M359.75 370h2.5M285.75 380h2.5M345.75 370h2.5M303.75 376h2.5M307.75 400h2.5M347.75 366h2.5M351.75 356h2.5M311.75 384h2.5M317.75 368h2.5M345.75 338h2.5M251.75 406h2.5M297.75 396h2.5M319.75 380h2.5M325.75 376h2.5M311.75 370h2.5M315.75 378h2.5M287.75 396h2.5M271.75 420h2.5M317.75 374h2.5M345.75 332h2.5M307.75 394h2.5M317.75 372h2.5M303.75 392h2.5M309.75 362h2.5M271.75 388h2.5M343.75 364h2.5M339.75 370h2.5M345.75 366h2.5M335.75 382h2.5M367.75 342h2.5M281.75 382h2.5M281.75 406h2.5M285.75 396h2.5M343.75 376h2.5M279.75 384h2.5M333.75 376h2.5M283.75 396h2.5M355.75 342h2.5M321.75 362h2.5M319.75 396h2.5M329.75 368h2.5M283.75 376h2.5M307.75 372h2.5M329.75 366h2.5M285.75 378h2.5M291.75 400h2.5M299.75 390h2.5M327.75 384h2.5M329.75 354h2.5M349.75 378h2.5M305.75 370h2.5M305.75 374h2.5M307.75 368h2.5M305.75 382h2.5M321.75 368h2.5M269.75 404h2.5M349.75 366h2.5M291.75 394h2.5M335.75 376h2.5M311.75 400h2.5M351.75 342h2.5M275.75 392h2.5M269.75 406h2.5M301.75 376h2.5M335.75 384h2.5M287.75 374h2.5M267.75 400h2.5M343.75 358h2.5M357.75 354h2.5M265.75 412h2.5M279.75 408h2.5M311.75 392h2.5M311.75 394h2.5M327.75 362h2.5M289.75 382h2.5M345.75 360h2.5M333.75 360h2.5M317.75 408h2.5M327.75 370h2.5M357.75 368h2.5M319.75 384h2.5M315.75 404h2.5M321.75 384h2.5M327.75 388h2.5M335.75 386h2.5M361.75 360h2.5M353.75 370h2.5M315.75 376h2.5M339.75 358h2.5M343.75 386h2.5M321.75 390h2.5M289.75 400h2.5M297.75 400h2.5M269.75 416h2.5M335.75 354h2.5M331.75 384h2.5M275.75 404h2.5M331.75 382h2.5M309.75 402h2.5M323.75 348h2.5M347.75 358h2.5M367.75 336h2.5M341.75 358h2.5M313.75 374h2.5M275.75 402h2.5M319.75 406h2.5M285.75 408h2.5M329.75 386h2.5M365.75 362h2.5M271.75 412h2.5M283.75 390h2.5M273.75 406h2.5M341.75 340h2.5M313.75 402h2.5M349.75 342h2.5M331.75 374h2.5M285.75 394h2.5M277.75 408h2.5M315.75 406h2.5M307.75 378h2.5M299.75 394h2.5M315.75 366h2.5M329.75 384h2.5M361.75 366h2.5M339.75 348h2.5M285.75 406h2.5M345.75 378h2.5M337.75 368h2.5M343.75 360h2.5M293.75 404h2.5M309.75 394h2.5M361.75 344h2.5M347.75 374h2.5M301.75 370h2.5M337.75 358h2.5M337.75 374h2.5M309.75 380h2.5M307.75 370h2.5M289.75 392h2.5M359.75 348h2.5M357.75 356h2.5M285.75 384h2.5M267.75 398h2.5M339.75 376h2.5M333.75 352h2.5M341.75 382h2.5M267.75 396h2.5M317.75 376h2.5M299.75 376h2.5M341.75 388h2.5M311.75 398h2.5M285.75 382h2.5M353.75 362h2.5M295.75 400h2.5M345.75 364h2.5M373.75 342h2.5M281.75 412h2.5M289.75 408h2.5M345.75 372h2.5M349.75 374h2.5M293.75 380h2.5M351.75 330h2.5M311.75 358h2.5M341.75 386h2.5M341.75 378h2.5M285.75 402h2.5M339.75 380h2.5M299.75 388h2.5M311.75 366h2.5M359.75 366h2.5M277.75 398h2.5M369.75 330h2.5M353.75 350h2.5M287.75 408h2.5M297.75 402h2.5M341.75 356h2.5M319.75 374h2.5M279.75 390h2.5M289.75 396h2.5M335.75 350h2.5M321.75 354h2.5M313.75 366h2.5M349.75 348h2.5M347.75 388h2.5M349.75 382h2.5M307.75 366h2.5" stroke="#8cf064" stroke-width="2.5" transform="translate(0,1.25)"/>
<path d="M349.75 376h2.5M317.75 370h2.5M325.75 362h2.5M325.75 372h2.5M325.75 368h2.5M287.75 382h2.5M335.75 380h2.5M327.75 374h2.5M329.75 360h2.5M307.75 386h2.5M321.75 374h2.5M337.75 370h2.5M295.75 380h2.5M287.75 394h2.5M347.75 368h2.5M301.75 384h2.5M321.75 370h2.5M305.75 396h2.5M337.75 362h2.5M301.75 378h2.5M329.75 374h2.5M351.75 366h2.5M343.75 370h2.5M287.75 392h2.5M319.75 370h2.5M327.75 366h2.5M291.75 384h2.5M335.75 368h2.5M317.75 386h2.5M345.75 362h2.5M291.75 390h2.5M295.75 398h2.5M333.75 386h2.5M313.75 386h2.5M343.75 354h2.5M319.75 368h2.5M313.75 392h2.5M325.75 370h2.5M301.75 390h2.5M327.75 392h2.5M285.75 392h2.5M341.75 372h2.5M299.75 404h2.5M307.75 398h2.5M333.75 378h2.5M315.75 372h2.5M297.75 390h2.5M305.75 386h2.5M281.75 390h2.5M325.75 380h2.5M327.75 386h2.5M321.75 388h2.5M323.75 380h2.5M313.75 398h2.5M315.75 368h2.5M335.75 372h2.5M299.75 374h2.5M347.75 362h2.5M291.75 380h2.5M319.75 382h2.5M327.75 382h2.5M345.75 382h2.5" stroke="#ffff20" stroke-width="2.5" transform="translate(0,1.25)"/>
<path d="M321.75 392h2.5M313.75 372h2.5M315.75 394h2.5M297.75 394h2.5M305.75 398h2.5M331.75 366h2.5M309.75 376h2.5M323.75 372h2.5M317.75 390h2.5M313.75 382h2.5M297.75 382h2.5M345.75 368h2.5M331.75 380h2.5M327.75 396h2.5M339.75 372h2.5M341.75 366h2.5M319.75 394h2.5M301.75 398h2.5M331.75 386h2.5M327.75 368h2.5M325.75 388h2.5M323.75 388h2.5M337.75 372h2.5M323.75 378h2.5M307.75 382h2.5M293.75 386h2.5M297.75 384h2.5M319.75 386h2.5M291.75 388h2.5M329.75 372h2.5M321.75 380h2.5M307.75 374h2.5M305.75 394h2.5M329.75 364h2.5M325.75 390h2.5M333.75 382h2.5M293.75 392h2.5M335.75 370h2.5M313.75 376h2.5M321.75 394h2.5M309.75 370h2.5M323.75 374h2.5" stroke="#f06018" stroke-width="2.5" transform="translate(0,1.25)"/>
<path d="M126.9 489.8H131.4M167.7 524.5V530.0M126.9 469.4H131.4M188.9 524.5V530.0M126.9 455.0H131.4M203.9 524.5V530.0M126.9 434.7H131.4M225.1 524.5V530.0M126.9 427.0H131.4M233.2 524.5V530.0M126.9 420.3H131.4M240.2 524.5V530.0M126.9 414.4H131.4M246.4 524.5V530.0M126.9 374.3H131.4M288.1 524.5V530.0M126.9 354.0H131.4M309.4 524.5V530.0M126.9 339.6H131.4M324.4 524.5V530.0M126.9 319.3H131.4M345.6 524.5V530.0M126.9 311.5H131.4M353.7 524.5V530.0M126.9 304.8H131.4M360.7 524.5V530.0M126.9 298.9H131.4M366.8 524.5V530.0M126.9 258.9H131.4M408.6 524.5V530.0M126.9 238.6H131.4M429.8 524.5V530.0M126.9 224.2H131.4M444.9 524.5V530.0M126.9 203.8H131.4M466.1 524.5V530.0M126.9 196.1H131.4M474.2 524.5V530.0M126.9 189.4H131.4M481.1 524.5V530.0M126.9 183.5H131.4M487.3 524.5V530.0M126.9 143.5H131.4M529.1 524.5V530.0M126.9 123.2H131.4M550.3 524.5V530.0M126.9 108.7H131.4M565.4 524.5V530.0M126.9 88.4H131.4M586.6 524.5V530.0M126.9 80.7H131.4M594.6 524.5V530.0M126.9 74.0H131.4M601.6 524.5V530.0M126.9 68.1H131.4M607.8 524.5V530.0" stroke="#222" stroke-width="1.8" fill="none"/><path d="M125.9 524.5H131.4M131.4 524.5V534.5M126.9 443.8H131.4M215.6 524.5V531.5M125.9 409.1H131.4M251.9 524.5V534.5M126.9 328.4H131.4M336.1 524.5V531.5M125.9 293.6H131.4M372.4 524.5V534.5M126.9 213.0H131.4M456.6 524.5V531.5M125.9 178.2H131.4M492.8 524.5V534.5M126.9 97.5H131.4M577.0 524.5V531.5M125.9 62.8H131.4M613.3 524.5V534.5" stroke="#222" stroke-width="2.6" fill="none"/><path d="M131.4 297.0H613.3M400.0 62.8V524.5" stroke="#000" stroke-width="2.5" fill="none"/>
<rect x="767.5" y="49.2" width="9.70" height="486.80" fill="#efefef"/>
<rect x="767.5" y="526.3" width="531.40" height="9.70" fill="#efefef"/>
<rect x="767.5" y="49.2" width="531.40" height="5.40" fill="#efefef"/>
<rect x="1287.5" y="49.2" width="11.40" height="486.80" fill="#efefef"/>
<rect x="777.2" y="54.6" width="510.30" height="471.70" fill="#fff" stroke="#222" stroke-width="1.7"/>
<path d="M1059.75 360h2.5M1055.75 270h2.5M977.75 410h2.5M1041.75 268h2.5M1091.75 366h2.5M949.75 456h2.5M915.75 458h2.5M1173.75 282h2.5M1079.75 390h2.5M995.75 424h2.5M939.75 424h2.5M955.75 392h2.5M1093.75 290h2.5M1173.75 310h2.5M999.75 392h2.5M1041.75 404h2.5M949.75 284h2.5M995.75 344h2.5M1077.75 354h2.5M1087.75 358h2.5M1149.75 314h2.5M979.75 418h2.5M1027.75 334h2.5M1155.75 304h2.5M1101.75 258h2.5M1073.75 338h2.5M1181.75 238h2.5M1103.75 344h2.5M1145.75 350h2.5M1109.75 376h2.5M1025.75 364h2.5M1065.75 376h2.5M1175.75 318h2.5M1011.75 250h2.5M987.75 306h2.5M1121.75 272h2.5M1077.75 346h2.5M1127.75 358h2.5M1029.75 344h2.5M941.75 402h2.5M945.75 412h2.5M979.75 376h2.5M957.75 418h2.5M975.75 388h2.5M1059.75 318h2.5M991.75 374h2.5M1105.75 302h2.5M1009.75 362h2.5M1001.75 392h2.5M979.75 426h2.5M1033.75 366h2.5M951.75 366h2.5M975.75 434h2.5M1083.75 316h2.5M921.75 480h2.5M1055.75 376h2.5M1105.75 306h2.5M1157.75 330h2.5M1027.75 380h2.5M1137.75 300h2.5M1071.75 294h2.5M973.75 410h2.5M995.75 352h2.5M1069.75 282h2.5M1099.75 362h2.5M1033.75 378h2.5M1001.75 384h2.5M999.75 404h2.5M905.75 426h2.5M1195.75 322h2.5M1147.75 308h2.5M899.75 436h2.5M1133.75 338h2.5M1059.75 328h2.5M1039.75 392h2.5M1167.75 314h2.5M939.75 458h2.5M1041.75 238h2.5M1029.75 334h2.5M1125.75 252h2.5M1005.75 238h2.5M963.75 444h2.5M935.75 434h2.5M909.75 424h2.5M1005.75 344h2.5M1093.75 328h2.5M1035.75 278h2.5M1131.75 332h2.5M945.75 376h2.5M965.75 428h2.5M1145.75 332h2.5M937.75 416h2.5M1067.75 326h2.5M1037.75 386h2.5M1019.75 364h2.5M1095.75 340h2.5M927.75 424h2.5M1111.75 346h2.5M991.75 372h2.5M927.75 400h2.5M997.75 408h2.5M955.75 424h2.5M1035.75 334h2.5M1057.75 326h2.5M981.75 432h2.5M921.75 404h2.5M901.75 476h2.5M1095.75 254h2.5M1011.75 356h2.5M1153.75 348h2.5M889.75 450h2.5M1109.75 346h2.5M1071.75 312h2.5M959.75 430h2.5M983.75 390h2.5M1171.75 308h2.5M1013.75 410h2.5M1059.75 308h2.5M1017.75 396h2.5M1165.75 312h2.5M949.75 440h2.5M959.75 404h2.5M1025.75 352h2.5M901.75 402h2.5M983.75 354h2.5M963.75 428h2.5M909.75 404h2.5M1047.75 272h2.5M1181.75 286h2.5M1175.75 346h2.5M1065.75 362h2.5M1063.75 256h2.5M1199.75 276h2.5M991.75 398h2.5M1115.75 312h2.5M1091.75 242h2.5M1043.75 350h2.5M917.75 404h2.5M1171.75 300h2.5M1077.75 386h2.5M1077.75 314h2.5M1209.75 280h2.5M1191.75 308h2.5M949.75 378h2.5M1153.75 288h2.5M1135.75 342h2.5M1067.75 214h2.5M857.75 312h2.5M1061.75 370h2.5M921.75 400h2.5M1069.75 344h2.5M1113.75 350h2.5M1079.75 326h2.5M1203.75 336h2.5M1095.75 380h2.5M1109.75 314h2.5M941.75 414h2.5M1111.75 300h2.5M1099.75 306h2.5M1065.75 264h2.5M979.75 370h2.5M943.75 406h2.5M999.75 384h2.5M881.75 426h2.5M1111.75 282h2.5M1025.75 372h2.5M1047.75 356h2.5M1137.75 304h2.5M987.75 382h2.5M963.75 424h2.5M1173.75 316h2.5M1109.75 324h2.5M1123.75 352h2.5M953.75 404h2.5M899.75 422h2.5M1133.75 320h2.5M1137.75 364h2.5M957.75 410h2.5M1051.75 344h2.5M947.75 416h2.5M1051.75 388h2.5M967.75 438h2.5M1209.75 262h2.5M1071.75 332h2.5M1115.75 308h2.5M1067.75 298h2.5M979.75 362h2.5M973.75 390h2.5M1127.75 342h2.5M1215.75 296h2.5M1061.75 424h2.5M1039.75 332h2.5M1211.75 260h2.5M1015.75 388h2.5M1017.75 356h2.5M1031.75 346h2.5M1021.75 410h2.5M1147.75 320h2.5M1125.75 282h2.5M889.75 406h2.5M1143.75 304h2.5M1087.75 316h2.5M1097.75 346h2.5M1073.75 408h2.5M1069.75 354h2.5M1147.75 340h2.5M967.75 376h2.5M993.75 414h2.5M977.75 400h2.5M955.75 416h2.5M1085.75 340h2.5M1091.75 362h2.5M1011.75 414h2.5M1171.75 318h2.5M1097.75 316h2.5M1045.75 398h2.5M1039.75 336h2.5M1065.75 380h2.5M1073.75 308h2.5M963.75 418h2.5M939.75 426h2.5M1069.75 336h2.5M1107.75 302h2.5M1087.75 348h2.5M891.75 452h2.5M967.75 388h2.5M969.75 418h2.5M1125.75 364h2.5M1025.75 388h2.5M925.75 452h2.5M1015.75 406h2.5M1037.75 356h2.5M885.75 428h2.5M1137.75 312h2.5M1003.75 426h2.5M1107.75 354h2.5M1025.75 382h2.5M1119.75 306h2.5M943.75 430h2.5M1051.75 326h2.5M1037.75 402h2.5M939.75 312h2.5M1097.75 254h2.5M1069.75 360h2.5M999.75 282h2.5M931.75 380h2.5M1173.75 246h2.5M1139.75 280h2.5M1205.75 334h2.5M1087.75 386h2.5M951.75 380h2.5M953.75 378h2.5M969.75 366h2.5M1137.75 330h2.5M1021.75 372h2.5M1113.75 298h2.5M1139.75 334h2.5M1015.75 396h2.5M953.75 388h2.5M1187.75 308h2.5M981.75 366h2.5M1125.75 310h2.5M1131.75 316h2.5M1137.75 324h2.5M1025.75 260h2.5M1061.75 296h2.5M995.75 394h2.5M927.75 362h2.5M1137.75 336h2.5M1191.75 330h2.5M965.75 426h2.5M985.75 296h2.5M1069.75 366h2.5M871.75 444h2.5M1125.75 338h2.5M1007.75 354h2.5M1119.75 330h2.5M1079.75 318h2.5M1001.75 406h2.5M979.75 390h2.5M1093.75 276h2.5M1121.75 308h2.5M993.75 426h2.5M1043.75 336h2.5M1087.75 364h2.5M1083.75 268h2.5M959.75 310h2.5M1009.75 358h2.5M1011.75 428h2.5M1143.75 334h2.5M1125.75 320h2.5M989.75 328h2.5M937.75 428h2.5M1051.75 412h2.5M933.75 426h2.5M973.75 414h2.5M995.75 296h2.5M1047.75 336h2.5M1175.75 224h2.5M899.75 476h2.5M957.75 408h2.5M1085.75 328h2.5M1077.75 330h2.5M1011.75 298h2.5M971.75 370h2.5M1059.75 280h2.5M1009.75 432h2.5M1021.75 408h2.5M983.75 424h2.5M913.75 424h2.5M1009.75 304h2.5M1095.75 326h2.5M1123.75 300h2.5M1059.75 342h2.5M1147.75 344h2.5M1047.75 284h2.5M973.75 316h2.5M1051.75 336h2.5M1045.75 346h2.5M1003.75 388h2.5M941.75 382h2.5M991.75 366h2.5M1107.75 320h2.5M1011.75 358h2.5M1139.75 308h2.5M965.75 438h2.5M1049.75 328h2.5M877.75 466h2.5M1013.75 368h2.5M1165.75 302h2.5M1099.75 330h2.5M999.75 366h2.5M1003.75 346h2.5M1057.75 382h2.5M1105.75 252h2.5M997.75 366h2.5M1105.75 348h2.5M1169.75 334h2.5M1079.75 294h2.5M1181.75 296h2.5M1163.75 344h2.5M1041.75 426h2.5M1121.75 350h2.5M1115.75 328h2.5M907.75 428h2.5M1035.75 364h2.5M1071.75 280h2.5M1097.75 370h2.5M1121.75 346h2.5M1011.75 362h2.5M1093.75 366h2.5M1065.75 312h2.5M931.75 386h2.5M941.75 396h2.5M1089.75 304h2.5M1129.75 254h2.5M1265.75 244h2.5M1139.75 338h2.5M1031.75 418h2.5M935.75 428h2.5M905.75 422h2.5M879.75 430h2.5M1043.75 332h2.5M1125.75 350h2.5M1009.75 404h2.5M927.75 416h2.5M1133.75 334h2.5M1121.75 368h2.5M1005.75 424h2.5M1091.75 314h2.5M1179.75 310h2.5M1135.75 230h2.5M985.75 294h2.5M1033.75 362h2.5M989.75 370h2.5M943.75 408h2.5M1111.75 370h2.5M957.75 402h2.5M1057.75 358h2.5M943.75 308h2.5M1017.75 340h2.5M937.75 410h2.5M959.75 284h2.5M1109.75 296h2.5M1081.75 282h2.5M933.75 424h2.5M1077.75 336h2.5M1109.75 362h2.5M1043.75 392h2.5M1113.75 264h2.5M1035.75 366h2.5M993.75 370h2.5M991.75 262h2.5M1085.75 322h2.5M1113.75 324h2.5M1023.75 334h2.5M1117.75 320h2.5M1067.75 320h2.5M1199.75 252h2.5M939.75 420h2.5M1127.75 346h2.5M1083.75 372h2.5M995.75 408h2.5M1031.75 262h2.5M943.75 392h2.5M1037.75 390h2.5M1149.75 340h2.5M1141.75 260h2.5M975.75 312h2.5M1137.75 316h2.5M1149.75 310h2.5M1095.75 280h2.5M963.75 392h2.5M957.75 378h2.5M999.75 436h2.5M937.75 388h2.5M961.75 412h2.5M1077.75 308h2.5M1103.75 366h2.5M1137.75 368h2.5M987.75 344h2.5M1111.75 354h2.5M1003.75 332h2.5M1137.75 314h2.5M929.75 414h2.5M1071.75 388h2.5M1063.75 284h2.5M1133.75 302h2.5M1129.75 242h2.5M1103.75 376h2.5M1007.75 334h2.5M973.75 382h2.5M1109.75 280h2.5M979.75 372h2.5M1079.75 384h2.5M1105.75 322h2.5M995.75 376h2.5M1143.75 292h2.5M1115.75 320h2.5M951.75 382h2.5M1057.75 390h2.5M1009.75 376h2.5M1253.75 300h2.5M1125.75 312h2.5M1013.75 344h2.5M1019.75 316h2.5M973.75 462h2.5M1189.75 258h2.5M939.75 438h2.5M1021.75 404h2.5M1121.75 298h2.5M975.75 432h2.5M1007.75 396h2.5M973.75 444h2.5M989.75 372h2.5M995.75 392h2.5M1117.75 366h2.5M959.75 394h2.5M1107.75 376h2.5M1133.75 316h2.5M1117.75 338h2.5M1013.75 330h2.5M915.75 406h2.5M1039.75 338h2.5M1139.75 340h2.5M1021.75 388h2.5M967.75 422h2.5M1125.75 370h2.5M1069.75 306h2.5M1135.75 260h2.5M969.75 370h2.5M1137.75 362h2.5M961.75 420h2.5M913.75 432h2.5M1055.75 374h2.5M957.75 336h2.5M1059.75 346h2.5M1151.75 322h2.5M1061.75 382h2.5M911.75 430h2.5M907.75 452h2.5M943.75 402h2.5M1161.75 254h2.5M1005.75 388h2.5M1131.75 362h2.5M1157.75 254h2.5M1015.75 322h2.5M1037.75 354h2.5M967.75 410h2.5M955.75 412h2.5M961.75 426h2.5M903.75 424h2.5M1147.75 218h2.5M917.75 294h2.5M1001.75 306h2.5M1115.75 358h2.5M921.75 430h2.5M1081.75 316h2.5M1105.75 292h2.5M1177.75 244h2.5M1209.75 286h2.5M973.75 428h2.5M931.75 406h2.5M969.75 432h2.5M1113.75 342h2.5M1157.75 270h2.5M1157.75 350h2.5M1069.75 284h2.5M987.75 398h2.5M1057.75 324h2.5M953.75 384h2.5M1073.75 252h2.5M1059.75 368h2.5M1023.75 390h2.5M961.75 384h2.5M1155.75 340h2.5M925.75 420h2.5M1119.75 334h2.5M1047.75 334h2.5M979.75 312h2.5M1051.75 378h2.5M963.75 436h2.5M1195.75 310h2.5M1121.75 342h2.5M1203.75 334h2.5M921.75 434h2.5M1047.75 266h2.5M1023.75 418h2.5M1003.75 410h2.5M1073.75 384h2.5M1169.75 330h2.5M1021.75 348h2.5M1023.75 318h2.5M895.75 322h2.5M1111.75 314h2.5M1047.75 370h2.5M1061.75 374h2.5M1051.75 398h2.5M1153.75 322h2.5M989.75 412h2.5M1097.75 320h2.5M1021.75 400h2.5M1071.75 328h2.5M1009.75 372h2.5M1067.75 384h2.5M1023.75 406h2.5M921.75 440h2.5M1073.75 296h2.5M1131.75 304h2.5M965.75 374h2.5M1039.75 388h2.5M1155.75 392h2.5M1043.75 320h2.5M1081.75 338h2.5M979.75 448h2.5M1033.75 398h2.5M1097.75 314h2.5M977.75 416h2.5M1003.75 326h2.5M1049.75 392h2.5M1025.75 400h2.5M997.75 352h2.5M1199.75 284h2.5M1029.75 418h2.5M823.75 482h2.5M1151.75 296h2.5M1001.75 390h2.5M1017.75 378h2.5M983.75 426h2.5M947.75 410h2.5M1013.75 402h2.5M1129.75 306h2.5M915.75 436h2.5M1067.75 390h2.5M899.75 396h2.5M1153.75 308h2.5M1005.75 434h2.5M949.75 374h2.5M1103.75 294h2.5M989.75 362h2.5M1093.75 302h2.5M1065.75 358h2.5M1097.75 290h2.5M973.75 294h2.5M1049.75 390h2.5M887.75 460h2.5M1039.75 364h2.5M949.75 442h2.5M999.75 340h2.5M1083.75 384h2.5M921.75 422h2.5M989.75 366h2.5M1147.75 324h2.5M1065.75 372h2.5M981.75 384h2.5M1117.75 346h2.5M1135.75 274h2.5M937.75 412h2.5M1017.75 412h2.5M893.75 428h2.5M1073.75 326h2.5M959.75 366h2.5M1083.75 324h2.5M973.75 430h2.5M1087.75 388h2.5M1161.75 336h2.5M1089.75 374h2.5M1043.75 284h2.5M1243.75 230h2.5M1085.75 314h2.5M1045.75 342h2.5M1021.75 336h2.5M999.75 264h2.5M1131.75 266h2.5M1073.75 328h2.5M1067.75 368h2.5M1163.75 266h2.5M1159.75 286h2.5M1129.75 290h2.5M1159.75 330h2.5M1069.75 356h2.5M1089.75 370h2.5M953.75 448h2.5M1043.75 378h2.5M1205.75 294h2.5M1047.75 314h2.5M1147.75 310h2.5M1187.75 238h2.5M1039.75 244h2.5M875.75 434h2.5M997.75 372h2.5M951.75 422h2.5M1155.75 318h2.5M1173.75 336h2.5M957.75 366h2.5M1057.75 352h2.5M1021.75 366h2.5M1001.75 414h2.5M971.75 454h2.5M1125.75 330h2.5M1073.75 320h2.5M883.75 398h2.5M969.75 390h2.5M1135.75 328h2.5M895.75 400h2.5M925.75 396h2.5M909.75 400h2.5M957.75 404h2.5M999.75 422h2.5M901.75 324h2.5M1037.75 350h2.5M999.75 324h2.5M1003.75 382h2.5M1167.75 354h2.5M1031.75 370h2.5M1055.75 274h2.5M909.75 428h2.5M1133.75 276h2.5M1029.75 404h2.5M989.75 354h2.5M953.75 424h2.5M1135.75 304h2.5M1073.75 332h2.5M1025.75 348h2.5M1167.75 278h2.5M1075.75 316h2.5M1025.75 386h2.5M1061.75 394h2.5M1013.75 370h2.5M921.75 374h2.5M999.75 350h2.5M1053.75 406h2.5M949.75 432h2.5M967.75 428h2.5M1145.75 306h2.5M901.75 380h2.5M963.75 422h2.5M1091.75 300h2.5M947.75 394h2.5M947.75 430h2.5M1043.75 374h2.5M929.75 374h2.5M1109.75 310h2.5M1159.75 260h2.5M1019.75 362h2.5M997.75 356h2.5M1131.75 338h2.5M975.75 394h2.5M1089.75 364h2.5M1047.75 294h2.5M1101.75 340h2.5M1109.75 366h2.5M1159.75 320h2.5M973.75 402h2.5M1079.75 266h2.5M1155.75 232h2.5M1085.75 312h2.5M1013.75 388h2.5M1025.75 404h2.5M1005.75 354h2.5M1037.75 400h2.5M1059.75 362h2.5M1185.75 298h2.5M953.75 434h2.5M1067.75 354h2.5M1093.75 304h2.5M973.75 406h2.5M971.75 418h2.5M957.75 424h2.5M949.75 396h2.5M1045.75 344h2.5M1075.75 266h2.5M1121.75 326h2.5M1079.75 314h2.5M1133.75 306h2.5M1083.75 264h2.5M1141.75 328h2.5M1143.75 310h2.5M1137.75 256h2.5M1057.75 366h2.5M1113.75 290h2.5M1073.75 362h2.5M1069.75 382h2.5M1129.75 370h2.5M925.75 382h2.5M1147.75 322h2.5M1055.75 350h2.5M1119.75 268h2.5M1029.75 352h2.5M1135.75 298h2.5M1017.75 400h2.5M949.75 434h2.5M1057.75 376h2.5M1081.75 350h2.5M1001.75 368h2.5M875.75 438h2.5M935.75 392h2.5M959.75 438h2.5M1085.75 284h2.5M1047.75 304h2.5M997.75 394h2.5M1047.75 330h2.5M1097.75 332h2.5M1017.75 380h2.5M1007.75 406h2.5M1103.75 316h2.5M951.75 414h2.5M959.75 314h2.5M1041.75 402h2.5M1049.75 262h2.5M1117.75 362h2.5M1073.75 340h2.5M1167.75 274h2.5M1007.75 420h2.5M951.75 396h2.5M931.75 320h2.5M1167.75 298h2.5M1131.75 320h2.5M921.75 450h2.5M1073.75 350h2.5M947.75 418h2.5M1065.75 324h2.5M1151.75 308h2.5M1095.75 324h2.5M979.75 438h2.5M975.75 416h2.5M1165.75 304h2.5M1057.75 340h2.5M937.75 380h2.5M1123.75 372h2.5M1055.75 290h2.5M981.75 418h2.5M1099.75 380h2.5M1131.75 270h2.5M1043.75 248h2.5M1041.75 376h2.5M981.75 390h2.5M1079.75 310h2.5M1011.75 412h2.5M1121.75 324h2.5M1135.75 276h2.5M1183.75 272h2.5M1045.75 378h2.5M961.75 396h2.5M1071.75 320h2.5M923.75 432h2.5M963.75 368h2.5M1025.75 392h2.5M1201.75 318h2.5M1139.75 350h2.5M953.75 316h2.5M1173.75 342h2.5M1123.75 326h2.5M1067.75 374h2.5M1131.75 296h2.5M1019.75 348h2.5M1127.75 324h2.5M1115.75 338h2.5M1137.75 334h2.5M1135.75 306h2.5M1003.75 386h2.5M1111.75 342h2.5M1019.75 298h2.5M979.75 398h2.5M1125.75 334h2.5M1145.75 322h2.5M1087.75 324h2.5M929.75 338h2.5M1115.75 362h2.5M937.75 440h2.5M987.75 436h2.5M975.75 412h2.5M1099.75 334h2.5M1157.75 294h2.5M973.75 394h2.5M1057.75 350h2.5M1153.75 326h2.5M1071.75 352h2.5M1107.75 364h2.5M999.75 312h2.5M1013.75 358h2.5M965.75 416h2.5M881.75 450h2.5M1025.75 272h2.5M1051.75 310h2.5M1075.75 352h2.5M1099.75 308h2.5M1015.75 384h2.5M1089.75 348h2.5M1023.75 414h2.5M1025.75 396h2.5M1219.75 222h2.5M1229.75 312h2.5M1101.75 326h2.5M1087.75 314h2.5M1075.75 364h2.5M1131.75 278h2.5M1155.75 336h2.5M1059.75 320h2.5M971.75 392h2.5M1045.75 312h2.5M1159.75 214h2.5M927.75 420h2.5M1081.75 296h2.5M1107.75 314h2.5M951.75 420h2.5M931.75 414h2.5M1045.75 336h2.5M1115.75 342h2.5M799.75 368h2.5M991.75 270h2.5M1153.75 336h2.5M951.75 436h2.5M1067.75 332h2.5M977.75 358h2.5M849.75 418h2.5M999.75 412h2.5M1095.75 252h2.5M987.75 348h2.5M1065.75 400h2.5M1177.75 242h2.5M1065.75 374h2.5M967.75 398h2.5M943.75 380h2.5M1105.75 276h2.5M1189.75 218h2.5M919.75 432h2.5M963.75 454h2.5M857.75 476h2.5M1033.75 336h2.5M1101.75 298h2.5M1125.75 328h2.5M1057.75 388h2.5M883.75 454h2.5M973.75 300h2.5M1031.75 348h2.5M1099.75 316h2.5M885.75 300h2.5M1037.75 334h2.5M1017.75 364h2.5M935.75 420h2.5M1183.75 346h2.5M1179.75 290h2.5M985.75 366h2.5M899.75 472h2.5M1167.75 326h2.5M1151.75 230h2.5M1073.75 256h2.5M1097.75 296h2.5M951.75 418h2.5M965.75 414h2.5M1149.75 312h2.5M1033.75 400h2.5M1099.75 304h2.5M1083.75 374h2.5M1151.75 298h2.5M957.75 432h2.5M1167.75 334h2.5M1095.75 304h2.5M1031.75 272h2.5M1109.75 342h2.5M1089.75 290h2.5M961.75 380h2.5M1029.75 378h2.5M1157.75 316h2.5M1135.75 264h2.5M1069.75 330h2.5M1173.75 194h2.5M955.75 394h2.5M925.75 392h2.5M899.75 404h2.5M1097.75 328h2.5M981.75 380h2.5M1129.75 294h2.5M1075.75 378h2.5M1049.75 318h2.5M1007.75 324h2.5M945.75 452h2.5M927.75 426h2.5M953.75 372h2.5M1165.75 308h2.5M1063.75 384h2.5M949.75 444h2.5M1127.75 338h2.5M983.75 362h2.5M1181.75 244h2.5M979.75 414h2.5M907.75 436h2.5M1175.75 316h2.5M1049.75 346h2.5M1027.75 294h2.5M1027.75 408h2.5M1151.75 290h2.5M1015.75 342h2.5M1123.75 276h2.5M1009.75 360h2.5M1065.75 338h2.5M935.75 414h2.5M973.75 370h2.5M987.75 310h2.5M1113.75 348h2.5M1025.75 350h2.5M1065.75 316h2.5M1079.75 242h2.5M1047.75 350h2.5M1051.75 362h2.5M899.75 392h2.5M1083.75 284h2.5M1167.75 306h2.5M955.75 390h2.5M1005.75 366h2.5M1045.75 340h2.5M1109.75 308h2.5M1049.75 396h2.5M1093.75 354h2.5M1111.75 324h2.5M1093.75 404h2.5M989.75 382h2.5M949.75 414h2.5M1165.75 282h2.5M873.75 444h2.5M965.75 412h2.5M1141.75 360h2.5M985.75 360h2.5M959.75 390h2.5M951.75 416h2.5M1089.75 368h2.5M987.75 438h2.5M983.75 368h2.5M1045.75 328h2.5M1105.75 344h2.5M935.75 364h2.5M1001.75 352h2.5M995.75 294h2.5M1133.75 350h2.5M1173.75 330h2.5M1111.75 366h2.5M1031.75 384h2.5M1045.75 326h2.5M989.75 426h2.5M1093.75 356h2.5M1035.75 330h2.5M963.75 412h2.5M1127.75 302h2.5M941.75 404h2.5M911.75 418h2.5M1021.75 356h2.5M1011.75 370h2.5M1051.75 382h2.5M1029.75 368h2.5M907.75 438h2.5M1009.75 366h2.5M1055.75 368h2.5M1111.75 322h2.5M1099.75 322h2.5M945.75 444h2.5M979.75 336h2.5M1103.75 310h2.5M1023.75 410h2.5M1053.75 378h2.5M1085.75 310h2.5M1097.75 404h2.5M1149.75 342h2.5M961.75 408h2.5M1183.75 326h2.5M1025.75 328h2.5M937.75 402h2.5M1107.75 312h2.5M1061.75 398h2.5M1051.75 272h2.5M1099.75 352h2.5M1049.75 304h2.5M1061.75 366h2.5M1045.75 316h2.5M967.75 420h2.5M953.75 402h2.5M979.75 288h2.5M1087.75 302h2.5M1133.75 332h2.5M931.75 392h2.5M1017.75 360h2.5M993.75 420h2.5M1025.75 368h2.5M1075.75 390h2.5M1183.75 302h2.5M1061.75 302h2.5M1081.75 324h2.5M935.75 380h2.5M1037.75 420h2.5M1035.75 360h2.5M951.75 434h2.5M991.75 392h2.5M1037.75 408h2.5M1165.75 320h2.5M1109.75 396h2.5M969.75 378h2.5M1125.75 358h2.5M1029.75 402h2.5M1101.75 356h2.5M1179.75 338h2.5M947.75 438h2.5M919.75 380h2.5M1119.75 316h2.5M1151.75 330h2.5M829.75 434h2.5M849.75 424h2.5M985.75 346h2.5M1067.75 366h2.5M1187.75 300h2.5M955.75 436h2.5M985.75 374h2.5M1049.75 334h2.5M1033.75 380h2.5M919.75 444h2.5M1099.75 318h2.5M1161.75 330h2.5M1125.75 386h2.5M1019.75 306h2.5M1007.75 358h2.5M1027.75 396h2.5M1161.75 308h2.5M933.75 314h2.5M1133.75 312h2.5M1049.75 276h2.5M975.75 374h2.5M1133.75 330h2.5M931.75 408h2.5M1125.75 344h2.5M1099.75 344h2.5M1229.75 296h2.5M1123.75 334h2.5M1161.75 332h2.5M967.75 384h2.5M955.75 422h2.5M1009.75 380h2.5M1099.75 346h2.5M1105.75 358h2.5M1033.75 326h2.5M945.75 386h2.5M1009.75 424h2.5M957.75 338h2.5M981.75 440h2.5M939.75 390h2.5M1057.75 372h2.5M1153.75 312h2.5M1029.75 410h2.5M1021.75 376h2.5M955.75 398h2.5M999.75 310h2.5M1081.75 312h2.5M1017.75 408h2.5M955.75 444h2.5M909.75 416h2.5M1097.75 376h2.5M915.75 314h2.5M937.75 452h2.5M1095.75 376h2.5M989.75 446h2.5M969.75 420h2.5M1037.75 324h2.5M933.75 386h2.5M1081.75 354h2.5M1053.75 320h2.5M1183.75 296h2.5M977.75 426h2.5M967.75 402h2.5M963.75 372h2.5M999.75 360h2.5M991.75 354h2.5M1013.75 316h2.5M1101.75 330h2.5M1159.75 302h2.5M1005.75 414h2.5M1043.75 344h2.5M963.75 408h2.5M1069.75 364h2.5M923.75 440h2.5M1147.75 298h2.5M931.75 428h2.5M871.75 432h2.5M857.75 340h2.5M1101.75 322h2.5M923.75 400h2.5M953.75 330h2.5M961.75 374h2.5M927.75 390h2.5M949.75 436h2.5M1083.75 370h2.5M955.75 320h2.5M889.75 434h2.5M1123.75 340h2.5M1073.75 310h2.5M991.75 386h2.5M879.75 414h2.5M995.75 430h2.5M979.75 430h2.5M1017.75 402h2.5M1021.75 344h2.5M989.75 358h2.5M983.75 290h2.5M1029.75 416h2.5M1063.75 300h2.5M1027.75 406h2.5M971.75 304h2.5M965.75 400h2.5M1011.75 300h2.5M1057.75 384h2.5M1181.75 332h2.5M1077.75 362h2.5M1001.75 404h2.5M1117.75 310h2.5M969.75 368h2.5M1109.75 378h2.5M1079.75 356h2.5M1209.75 316h2.5M991.75 414h2.5M1147.75 296h2.5M1093.75 358h2.5M1053.75 384h2.5M1101.75 382h2.5M989.75 368h2.5M1003.75 420h2.5M979.75 416h2.5M1007.75 436h2.5M1041.75 248h2.5M1031.75 332h2.5M965.75 366h2.5M931.75 412h2.5M1035.75 396h2.5M1067.75 304h2.5M969.75 336h2.5M1097.75 294h2.5M1067.75 334h2.5M1055.75 386h2.5M983.75 466h2.5M1005.75 428h2.5M1079.75 348h2.5M913.75 460h2.5M1091.75 318h2.5M1153.75 304h2.5M943.75 446h2.5M987.75 418h2.5M911.75 436h2.5M1009.75 400h2.5M983.75 438h2.5M1059.75 374h2.5M1049.75 394h2.5M963.75 406h2.5M925.75 418h2.5M923.75 386h2.5M1025.75 324h2.5M1079.75 366h2.5M1049.75 358h2.5M1035.75 274h2.5M1047.75 220h2.5M1041.75 348h2.5M1165.75 300h2.5M1073.75 290h2.5M943.75 386h2.5M1065.75 340h2.5M1177.75 314h2.5M1091.75 376h2.5M1147.75 346h2.5M1013.75 436h2.5M1025.75 432h2.5M955.75 332h2.5M1147.75 316h2.5M1123.75 348h2.5M981.75 426h2.5M1083.75 356h2.5M973.75 380h2.5M1117.75 298h2.5M851.75 460h2.5M925.75 424h2.5M1117.75 348h2.5M1087.75 368h2.5M1115.75 294h2.5M1171.75 312h2.5M983.75 460h2.5M997.75 338h2.5M925.75 434h2.5M1089.75 320h2.5M993.75 352h2.5M1103.75 368h2.5M1157.75 312h2.5M1061.75 336h2.5M1007.75 350h2.5M1093.75 314h2.5M1089.75 378h2.5M1103.75 306h2.5M989.75 400h2.5M1055.75 370h2.5M1005.75 392h2.5M1141.75 330h2.5M945.75 404h2.5M1029.75 412h2.5M1135.75 358h2.5M1081.75 392h2.5M1057.75 378h2.5M1013.75 336h2.5M1107.75 360h2.5M1061.75 378h2.5M1137.75 292h2.5M1125.75 318h2.5M987.75 386h2.5M1053.75 340h2.5M1123.75 310h2.5M1121.75 318h2.5M1063.75 392h2.5M1093.75 408h2.5M1011.75 378h2.5M881.75 412h2.5M917.75 418h2.5M1023.75 420h2.5M993.75 408h2.5M937.75 364h2.5M1023.75 336h2.5M1109.75 392h2.5M1133.75 290h2.5M993.75 422h2.5M1201.75 308h2.5M1055.75 362h2.5M991.75 282h2.5M1133.75 308h2.5M959.75 398h2.5M1095.75 378h2.5M1087.75 362h2.5M945.75 396h2.5M1097.75 330h2.5M975.75 296h2.5M1069.75 322h2.5M1003.75 402h2.5M1125.75 346h2.5M1123.75 374h2.5M1011.75 346h2.5M943.75 424h2.5M1017.75 394h2.5M1011.75 342h2.5M1091.75 392h2.5M1113.75 314h2.5M1049.75 300h2.5M935.75 402h2.5M1075.75 370h2.5M967.75 358h2.5M1105.75 318h2.5M1193.75 290h2.5M865.75 472h2.5M827.75 386h2.5M1085.75 376h2.5M1119.75 350h2.5M955.75 310h2.5M1115.75 322h2.5M1039.75 420h2.5M973.75 362h2.5M1031.75 356h2.5M1039.75 308h2.5M889.75 442h2.5M1019.75 412h2.5M979.75 290h2.5M963.75 382h2.5M965.75 372h2.5M1005.75 352h2.5M1059.75 380h2.5M905.75 444h2.5M1139.75 312h2.5M933.75 446h2.5M1039.75 348h2.5M913.75 458h2.5M1123.75 302h2.5M929.75 454h2.5M1009.75 420h2.5M969.75 400h2.5M1117.75 340h2.5M1019.75 328h2.5M1127.75 360h2.5M937.75 420h2.5M905.75 408h2.5M1075.75 306h2.5M879.75 444h2.5M941.75 408h2.5M929.75 412h2.5M963.75 450h2.5M963.75 306h2.5M1017.75 352h2.5M1083.75 382h2.5M1039.75 302h2.5M977.75 360h2.5M1027.75 370h2.5M939.75 432h2.5M965.75 408h2.5M1159.75 306h2.5M1085.75 372h2.5M1093.75 382h2.5M957.75 396h2.5M923.75 418h2.5M959.75 442h2.5M997.75 272h2.5M1009.75 268h2.5M1031.75 354h2.5M1061.75 308h2.5M1067.75 322h2.5M1135.75 290h2.5M1025.75 290h2.5M1063.75 378h2.5M935.75 440h2.5M1167.75 348h2.5M953.75 396h2.5M925.75 334h2.5M1071.75 324h2.5M1003.75 340h2.5M1007.75 400h2.5M943.75 440h2.5M1067.75 316h2.5M933.75 436h2.5M1119.75 332h2.5M1113.75 294h2.5M1157.75 348h2.5M961.75 406h2.5M997.75 374h2.5M1137.75 340h2.5M1015.75 426h2.5M1145.75 328h2.5M1061.75 360h2.5M941.75 398h2.5M939.75 446h2.5M929.75 428h2.5M923.75 282h2.5M975.75 392h2.5M1011.75 388h2.5M917.75 436h2.5M979.75 404h2.5M1111.75 348h2.5M1161.75 340h2.5M977.75 332h2.5M991.75 422h2.5M925.75 322h2.5M1033.75 390h2.5M1101.75 314h2.5M973.75 374h2.5M1165.75 288h2.5M1049.75 340h2.5M937.75 356h2.5M1085.75 366h2.5M1105.75 350h2.5M973.75 354h2.5M1083.75 310h2.5M1035.75 344h2.5M983.75 352h2.5M1049.75 232h2.5M969.75 408h2.5M939.75 418h2.5M1179.75 318h2.5M1053.75 358h2.5M901.75 460h2.5M1031.75 340h2.5M1055.75 324h2.5M1113.75 370h2.5M899.75 438h2.5M1089.75 380h2.5M995.75 362h2.5M961.75 386h2.5M1155.75 344h2.5M1069.75 302h2.5M1129.75 320h2.5M961.75 400h2.5M1009.75 246h2.5M1095.75 308h2.5M1037.75 372h2.5M923.75 322h2.5M943.75 444h2.5M1139.75 302h2.5M997.75 294h2.5M1051.75 354h2.5M1053.75 390h2.5M1031.75 292h2.5M935.75 408h2.5M1121.75 294h2.5M1115.75 330h2.5M1097.75 356h2.5M1159.75 338h2.5M993.75 362h2.5M1185.75 292h2.5M1041.75 322h2.5M937.75 430h2.5M1077.75 338h2.5M891.75 410h2.5M975.75 426h2.5M973.75 398h2.5M1105.75 330h2.5M859.75 414h2.5M1083.75 352h2.5M1185.75 310h2.5M931.75 382h2.5M1143.75 308h2.5M1095.75 290h2.5M1017.75 316h2.5M947.75 298h2.5M1067.75 292h2.5M875.75 480h2.5M989.75 290h2.5M1063.75 356h2.5M995.75 402h2.5M1157.75 324h2.5M1115.75 300h2.5M1073.75 392h2.5M913.75 484h2.5M963.75 358h2.5M981.75 374h2.5M1107.75 334h2.5M1011.75 330h2.5M1157.75 336h2.5M1025.75 322h2.5M993.75 416h2.5M959.75 362h2.5M1005.75 410h2.5M1005.75 364h2.5M1007.75 376h2.5M981.75 270h2.5M983.75 418h2.5M1135.75 296h2.5M1033.75 314h2.5M925.75 458h2.5M1023.75 340h2.5M985.75 406h2.5M969.75 448h2.5M1087.75 310h2.5M1073.75 336h2.5M1053.75 380h2.5M1035.75 316h2.5M927.75 408h2.5M937.75 462h2.5M1053.75 328h2.5M1097.75 368h2.5M903.75 428h2.5M1083.75 336h2.5M1105.75 380h2.5M1145.75 308h2.5M1073.75 374h2.5M857.75 444h2.5M973.75 436h2.5M941.75 430h2.5M1067.75 432h2.5M1161.75 306h2.5M1131.75 336h2.5M1041.75 414h2.5M1131.75 308h2.5M945.75 466h2.5M1047.75 388h2.5M1013.75 354h2.5M1061.75 334h2.5M1093.75 300h2.5M1053.75 350h2.5M1149.75 306h2.5M1055.75 306h2.5M1135.75 300h2.5M993.75 360h2.5M939.75 382h2.5M969.75 312h2.5M1117.75 334h2.5M1031.75 358h2.5M1223.75 330h2.5M1007.75 294h2.5M1077.75 366h2.5M1141.75 310h2.5M1059.75 344h2.5M1041.75 254h2.5M1005.75 390h2.5M1053.75 288h2.5M1069.75 394h2.5M1121.75 300h2.5M1019.75 346h2.5M941.75 422h2.5M1027.75 326h2.5M1147.75 300h2.5M1039.75 288h2.5M877.75 450h2.5M1107.75 350h2.5M887.75 498h2.5M1021.75 340h2.5M1009.75 354h2.5M1059.75 326h2.5M947.75 372h2.5M1045.75 394h2.5M959.75 446h2.5M971.75 424h2.5M1077.75 406h2.5M1041.75 386h2.5M1003.75 378h2.5M961.75 434h2.5M989.75 428h2.5M1027.75 282h2.5M1045.75 306h2.5M1091.75 386h2.5M995.75 372h2.5M1093.75 326h2.5M1057.75 316h2.5M1041.75 326h2.5M1183.75 304h2.5M929.75 390h2.5M1015.75 408h2.5M983.75 380h2.5M1003.75 376h2.5M983.75 432h2.5M1107.75 358h2.5M1103.75 322h2.5M1149.75 350h2.5M907.75 486h2.5M1071.75 308h2.5M1023.75 288h2.5M973.75 416h2.5M1153.75 328h2.5M1087.75 304h2.5M983.75 286h2.5M1091.75 338h2.5M1025.75 268h2.5M1003.75 416h2.5M959.75 418h2.5M1051.75 264h2.5M1117.75 364h2.5M1007.75 360h2.5M1201.75 302h2.5M929.75 426h2.5M1119.75 354h2.5M943.75 438h2.5M1029.75 326h2.5M1073.75 330h2.5M1075.75 358h2.5M893.75 430h2.5M1163.75 332h2.5M947.75 320h2.5M931.75 398h2.5M1039.75 354h2.5M1171.75 330h2.5M961.75 416h2.5M971.75 422h2.5M1161.75 344h2.5M921.75 366h2.5M1117.75 324h2.5M935.75 404h2.5M1091.75 298h2.5M957.75 386h2.5M1137.75 352h2.5M981.75 316h2.5M1139.75 290h2.5M963.75 376h2.5M1059.75 322h2.5M1189.75 302h2.5M1033.75 346h2.5M1085.75 362h2.5M959.75 376h2.5M985.75 440h2.5M1079.75 328h2.5M985.75 378h2.5M1055.75 356h2.5M915.75 488h2.5M1015.75 344h2.5M873.75 492h2.5M1155.75 320h2.5M937.75 392h2.5M945.75 366h2.5M983.75 344h2.5M1127.75 298h2.5M971.75 356h2.5M913.75 308h2.5M1015.75 328h2.5M955.75 386h2.5M945.75 432h2.5M889.75 468h2.5M1033.75 332h2.5M1193.75 328h2.5M1105.75 326h2.5M899.75 414h2.5M945.75 446h2.5M831.75 432h2.5M1037.75 388h2.5M1079.75 362h2.5M1089.75 354h2.5M867.75 436h2.5M913.75 406h2.5M1017.75 358h2.5M927.75 392h2.5M1053.75 400h2.5M1131.75 300h2.5M1031.75 236h2.5M1155.75 328h2.5M1151.75 326h2.5M1141.75 290h2.5M1147.75 378h2.5M939.75 410h2.5M959.75 352h2.5M1161.75 360h2.5M975.75 314h2.5M991.75 418h2.5M887.75 468h2.5M953.75 338h2.5M1055.75 342h2.5M1187.75 324h2.5M1117.75 356h2.5M1077.75 370h2.5M1089.75 324h2.5M1009.75 334h2.5M1155.75 342h2.5M927.75 398h2.5M975.75 390h2.5M1061.75 356h2.5M1223.75 290h2.5M1051.75 386h2.5M1131.75 358h2.5M963.75 380h2.5M1031.75 402h2.5M1069.75 376h2.5M1019.75 324h2.5M997.75 358h2.5M1107.75 344h2.5M965.75 376h2.5M1129.75 312h2.5M1083.75 364h2.5M1033.75 418h2.5M959.75 436h2.5M1063.75 380h2.5M951.75 426h2.5M971.75 438h2.5M1073.75 370h2.5M1009.75 410h2.5M1097.75 318h2.5M1119.75 302h2.5M973.75 350h2.5M919.75 448h2.5M1029.75 382h2.5M1103.75 342h2.5M1073.75 304h2.5M1059.75 336h2.5M869.75 388h2.5M993.75 260h2.5M931.75 432h2.5M1065.75 320h2.5M1093.75 378h2.5M1193.75 330h2.5M1067.75 370h2.5M1171.75 296h2.5M961.75 402h2.5M1111.75 344h2.5M1093.75 348h2.5M967.75 394h2.5M1181.75 314h2.5M1051.75 252h2.5M911.75 448h2.5M961.75 368h2.5M1139.75 324h2.5M955.75 446h2.5M971.75 416h2.5M1129.75 366h2.5M847.75 348h2.5M1071.75 338h2.5M1023.75 354h2.5M1031.75 338h2.5M945.75 424h2.5M921.75 390h2.5M989.75 416h2.5M989.75 392h2.5M955.75 408h2.5M973.75 290h2.5M1073.75 360h2.5M1061.75 338h2.5M1095.75 334h2.5M1119.75 300h2.5M891.75 464h2.5M1139.75 326h2.5M1155.75 364h2.5M1033.75 354h2.5M951.75 388h2.5M1043.75 256h2.5M975.75 440h2.5M1033.75 328h2.5M1037.75 410h2.5M1103.75 340h2.5M901.75 404h2.5M1139.75 304h2.5M1065.75 414h2.5M1097.75 374h2.5M969.75 364h2.5M919.75 476h2.5M957.75 416h2.5M1063.75 322h2.5M1031.75 414h2.5M961.75 378h2.5M1011.75 366h2.5M893.75 424h2.5M1117.75 344h2.5M899.75 448h2.5M1101.75 306h2.5M901.75 508h2.5M1125.75 332h2.5M1145.75 352h2.5M995.75 364h2.5M929.75 452h2.5M1017.75 354h2.5M983.75 420h2.5M1103.75 400h2.5M949.75 420h2.5M927.75 378h2.5M1035.75 378h2.5M1029.75 370h2.5M873.75 440h2.5M1037.75 418h2.5M1063.75 338h2.5M1165.75 326h2.5M921.75 398h2.5M953.75 380h2.5M1017.75 428h2.5M963.75 432h2.5M1127.75 290h2.5M977.75 390h2.5M953.75 438h2.5M1071.75 298h2.5M1017.75 410h2.5M939.75 398h2.5M889.75 398h2.5M1149.75 330h2.5M971.75 374h2.5M1033.75 408h2.5M983.75 372h2.5M1085.75 316h2.5M1019.75 418h2.5M1081.75 376h2.5M1119.75 328h2.5M895.75 448h2.5M1033.75 374h2.5M877.75 446h2.5M937.75 296h2.5M1039.75 330h2.5M1037.75 342h2.5M983.75 366h2.5M995.75 346h2.5M987.75 340h2.5M1087.75 370h2.5M1047.75 332h2.5M1005.75 290h2.5M1027.75 248h2.5M1149.75 356h2.5M1101.75 290h2.5M1063.75 366h2.5M1053.75 412h2.5M989.75 420h2.5M1017.75 334h2.5M983.75 306h2.5M1055.75 346h2.5M977.75 350h2.5M1021.75 258h2.5M1127.75 318h2.5M1101.75 308h2.5M1009.75 348h2.5M995.75 412h2.5M1153.75 330h2.5M1025.75 418h2.5M967.75 300h2.5M965.75 278h2.5M1095.75 316h2.5M947.75 392h2.5M1103.75 330h2.5M1017.75 342h2.5M1127.75 310h2.5M1065.75 302h2.5M959.75 448h2.5M1097.75 366h2.5M1005.75 396h2.5M1007.75 344h2.5M1053.75 334h2.5M993.75 314h2.5M1047.75 348h2.5M1011.75 352h2.5M977.75 420h2.5M1147.75 338h2.5M969.75 406h2.5M963.75 420h2.5M929.75 396h2.5M991.75 280h2.5M1041.75 396h2.5M945.75 370h2.5M1051.75 338h2.5M1161.75 312h2.5M1001.75 320h2.5M1089.75 308h2.5M1167.75 292h2.5M1159.75 328h2.5M955.75 316h2.5M951.75 282h2.5M1167.75 344h2.5M1041.75 336h2.5M1007.75 364h2.5M1089.75 322h2.5M1123.75 298h2.5M1049.75 338h2.5M1001.75 370h2.5M979.75 360h2.5M981.75 414h2.5M1155.75 356h2.5M1157.75 322h2.5M1047.75 322h2.5M1059.75 324h2.5M1143.75 294h2.5M1031.75 408h2.5M1029.75 272h2.5M1097.75 364h2.5M1091.75 356h2.5M1117.75 318h2.5M985.75 364h2.5M1073.75 312h2.5M1125.75 382h2.5M1161.75 326h2.5M1031.75 396h2.5M987.75 334h2.5M895.75 320h2.5M1041.75 406h2.5M945.75 354h2.5M915.75 434h2.5M1131.75 348h2.5M1121.75 332h2.5M1145.75 302h2.5M1181.75 306h2.5M1031.75 288h2.5M981.75 430h2.5M1005.75 416h2.5M977.75 352h2.5M947.75 314h2.5M905.75 382h2.5M893.75 388h2.5M1061.75 304h2.5M913.75 400h2.5M1017.75 442h2.5M1081.75 298h2.5M1045.75 318h2.5M1077.75 400h2.5M903.75 390h2.5M991.75 338h2.5M999.75 334h2.5M1105.75 382h2.5M993.75 428h2.5M1013.75 350h2.5M959.75 378h2.5M851.75 458h2.5M1213.75 318h2.5M1037.75 364h2.5M847.75 454h2.5M1153.75 334h2.5M1051.75 376h2.5M1005.75 360h2.5M1135.75 294h2.5M1091.75 372h2.5M1015.75 400h2.5M1023.75 412h2.5M1105.75 296h2.5M965.75 304h2.5M977.75 422h2.5M1119.75 322h2.5M1029.75 304h2.5M941.75 434h2.5M937.75 382h2.5M1171.75 314h2.5M1033.75 352h2.5M917.75 324h2.5M1211.75 300h2.5M1197.75 324h2.5M1033.75 330h2.5M1023.75 408h2.5M1143.75 352h2.5M897.75 402h2.5M995.75 312h2.5M1015.75 432h2.5M957.75 370h2.5M1179.75 314h2.5M981.75 336h2.5M1003.75 304h2.5M983.75 314h2.5M993.75 432h2.5M1043.75 368h2.5M1019.75 280h2.5M917.75 410h2.5M999.75 372h2.5M987.75 278h2.5M993.75 274h2.5M1037.75 268h2.5M1027.75 252h2.5M1027.75 268h2.5M1047.75 264h2.5M1029.75 236h2.5M995.75 264h2.5M1029.75 250h2.5M971.75 272h2.5M1037.75 232h2.5M999.75 286h2.5M913.75 280h2.5" stroke="#0000ff" stroke-width="2.5" transform="translate(0,1.25)"/>
<path d="M1061.75 342h2.5M1091.75 322h2.5M1059.75 372h2.5M969.75 384h2.5M1061.75 350h2.5M1005.75 382h2.5M989.75 350h2.5M1003.75 384h2.5M1075.75 342h2.5M1059.75 348h2.5M1155.75 314h2.5M957.75 406h2.5M1091.75 348h2.5M1015.75 370h2.5M1005.75 368h2.5M1017.75 348h2.5M1033.75 368h2.5M1087.75 332h2.5M1125.75 326h2.5M993.75 394h2.5M1117.75 354h2.5M1143.75 336h2.5M1033.75 364h2.5M973.75 408h2.5M1123.75 322h2.5M1117.75 308h2.5M1077.75 358h2.5M951.75 406h2.5M1093.75 342h2.5M1081.75 336h2.5M1005.75 386h2.5M1087.75 346h2.5M1017.75 388h2.5M1007.75 398h2.5M1107.75 328h2.5M943.75 396h2.5M1001.75 386h2.5M1089.75 352h2.5M987.75 374h2.5M1015.75 362h2.5M999.75 382h2.5M1041.75 384h2.5M1113.75 330h2.5M981.75 410h2.5M1093.75 338h2.5M1047.75 386h2.5M1113.75 332h2.5M969.75 386h2.5M999.75 394h2.5M1061.75 364h2.5M1101.75 358h2.5M1031.75 364h2.5M1141.75 320h2.5M999.75 398h2.5M981.75 378h2.5M1035.75 356h2.5M1009.75 384h2.5M1091.75 358h2.5M1043.75 370h2.5M995.75 382h2.5M1069.75 368h2.5M997.75 386h2.5M1109.75 332h2.5M963.75 414h2.5M1113.75 334h2.5M947.75 402h2.5M1025.75 394h2.5M1023.75 368h2.5M975.75 400h2.5M1003.75 372h2.5M1033.75 384h2.5M1141.75 324h2.5M997.75 400h2.5M1011.75 382h2.5M1061.75 372h2.5M1039.75 360h2.5M1083.75 358h2.5M1001.75 410h2.5M981.75 402h2.5M1085.75 368h2.5M1039.75 384h2.5M1067.75 344h2.5M1115.75 332h2.5M989.75 388h2.5M989.75 394h2.5M967.75 412h2.5M1057.75 336h2.5M1013.75 378h2.5M959.75 400h2.5M991.75 380h2.5M1003.75 412h2.5M977.75 382h2.5M1087.75 344h2.5M1009.75 388h2.5M1025.75 384h2.5M1091.75 354h2.5M1093.75 310h2.5M1081.75 314h2.5M1099.75 360h2.5M983.75 386h2.5M1119.75 340h2.5M1071.75 344h2.5M1033.75 350h2.5M1013.75 352h2.5M989.75 364h2.5M1025.75 376h2.5M1015.75 398h2.5M1027.75 360h2.5M1087.75 338h2.5M975.75 408h2.5M1031.75 390h2.5M1019.75 368h2.5M1015.75 386h2.5M1073.75 354h2.5M1069.75 342h2.5M1051.75 368h2.5M979.75 388h2.5M989.75 410h2.5M1049.75 342h2.5M1003.75 414h2.5M1011.75 406h2.5M997.75 384h2.5M1019.75 354h2.5M1031.75 360h2.5M1047.75 376h2.5M971.75 412h2.5M993.75 402h2.5M1043.75 362h2.5M965.75 384h2.5M1063.75 368h2.5M943.75 404h2.5M981.75 416h2.5M1011.75 390h2.5M951.75 408h2.5M1053.75 354h2.5M995.75 410h2.5M1139.75 322h2.5M1025.75 360h2.5M1155.75 308h2.5M1101.75 324h2.5M1019.75 394h2.5M1075.75 324h2.5M1139.75 320h2.5M1005.75 394h2.5M1079.75 338h2.5M1037.75 376h2.5M1045.75 330h2.5M991.75 400h2.5M1109.75 330h2.5M1081.75 352h2.5M1131.75 322h2.5M1065.75 346h2.5M1049.75 352h2.5M1143.75 330h2.5M1009.75 382h2.5M1027.75 372h2.5M985.75 396h2.5M1083.75 322h2.5M1081.75 346h2.5M1083.75 332h2.5M1019.75 372h2.5M1089.75 362h2.5M1043.75 380h2.5M1079.75 342h2.5M983.75 374h2.5M1011.75 360h2.5M1075.75 350h2.5M949.75 394h2.5M1015.75 364h2.5M1103.75 348h2.5M1065.75 368h2.5M1045.75 380h2.5M1013.75 398h2.5M989.75 402h2.5M995.75 388h2.5M1069.75 350h2.5M1021.75 368h2.5M1053.75 368h2.5M1019.75 386h2.5M967.75 400h2.5M1035.75 350h2.5M1159.75 322h2.5M1069.75 334h2.5M1019.75 352h2.5M1017.75 368h2.5M1085.75 334h2.5M1003.75 352h2.5M993.75 388h2.5M1001.75 388h2.5M1025.75 342h2.5M1005.75 356h2.5M1089.75 346h2.5M1037.75 370h2.5M1017.75 386h2.5M961.75 394h2.5M1023.75 364h2.5M969.75 402h2.5M955.75 402h2.5M1065.75 360h2.5M1063.75 330h2.5M949.75 402h2.5M1091.75 340h2.5M1059.75 366h2.5M977.75 392h2.5M1077.75 316h2.5M945.75 394h2.5M997.75 396h2.5M1107.75 352h2.5M1077.75 334h2.5M1027.75 388h2.5M999.75 406h2.5M1049.75 344h2.5M951.75 410h2.5M1057.75 348h2.5M949.75 410h2.5M963.75 394h2.5M1145.75 334h2.5M1041.75 372h2.5M1081.75 342h2.5M937.75 400h2.5M987.75 408h2.5M1019.75 358h2.5M1131.75 318h2.5M1093.75 312h2.5M969.75 404h2.5M1063.75 352h2.5M1121.75 328h2.5M1025.75 356h2.5M1063.75 362h2.5M985.75 404h2.5M1113.75 320h2.5M1007.75 370h2.5M985.75 392h2.5M1071.75 358h2.5M997.75 390h2.5M1071.75 318h2.5M1021.75 384h2.5M1083.75 334h2.5M1099.75 324h2.5M965.75 432h2.5M1027.75 390h2.5M1131.75 330h2.5M1071.75 342h2.5M967.75 404h2.5M1041.75 342h2.5M1011.75 398h2.5M1049.75 370h2.5M1043.75 376h2.5M965.75 388h2.5M1009.75 368h2.5M1079.75 322h2.5M939.75 408h2.5M1057.75 356h2.5M1067.75 340h2.5M1097.75 352h2.5M1091.75 320h2.5M1003.75 366h2.5M987.75 366h2.5M1141.75 314h2.5M1091.75 352h2.5M951.75 394h2.5M1077.75 356h2.5M1109.75 336h2.5M1053.75 364h2.5M977.75 376h2.5M1121.75 338h2.5M1061.75 368h2.5M1113.75 356h2.5M1033.75 360h2.5M1151.75 312h2.5M1069.75 326h2.5M1137.75 320h2.5M1125.75 340h2.5M1093.75 352h2.5M951.75 412h2.5M1107.75 326h2.5M1043.75 356h2.5M1065.75 356h2.5M1001.75 412h2.5M1005.75 372h2.5M959.75 408h2.5M971.75 394h2.5M1107.75 348h2.5M1017.75 366h2.5M1035.75 380h2.5M1077.75 348h2.5M977.75 386h2.5M1007.75 402h2.5M1031.75 374h2.5M1043.75 358h2.5M987.75 402h2.5M1059.75 356h2.5M1105.75 340h2.5M1133.75 322h2.5M1147.75 330h2.5M1017.75 372h2.5M1123.75 324h2.5M1017.75 346h2.5M1097.75 358h2.5M1095.75 360h2.5M991.75 396h2.5M985.75 416h2.5M1001.75 362h2.5M1075.75 338h2.5M1039.75 386h2.5M1127.75 314h2.5M1021.75 346h2.5M1055.75 330h2.5M1101.75 342h2.5M1029.75 372h2.5M993.75 400h2.5M1035.75 354h2.5M1137.75 322h2.5M1041.75 362h2.5M1041.75 340h2.5M1021.75 398h2.5M1147.75 326h2.5M997.75 362h2.5M1067.75 336h2.5M1083.75 344h2.5M1089.75 350h2.5M973.75 386h2.5M1109.75 326h2.5M1135.75 332h2.5M979.75 396h2.5M1053.75 360h2.5M1035.75 370h2.5M977.75 394h2.5M1061.75 340h2.5M1097.75 344h2.5M971.75 406h2.5M999.75 354h2.5M929.75 416h2.5M1003.75 394h2.5M1109.75 320h2.5M1045.75 352h2.5M1041.75 360h2.5M1131.75 328h2.5M991.75 402h2.5M1143.75 312h2.5M993.75 396h2.5M977.75 396h2.5M987.75 414h2.5M997.75 404h2.5M987.75 378h2.5M1045.75 386h2.5M1123.75 312h2.5M983.75 410h2.5M1041.75 380h2.5M979.75 378h2.5M1015.75 356h2.5M1061.75 330h2.5M1035.75 382h2.5M1049.75 384h2.5M1049.75 356h2.5M1095.75 348h2.5M1081.75 328h2.5M1017.75 390h2.5M1085.75 344h2.5M1083.75 328h2.5M1019.75 356h2.5M999.75 416h2.5M1015.75 372h2.5M965.75 382h2.5M1049.75 378h2.5M1021.75 360h2.5M1001.75 380h2.5M1137.75 318h2.5M983.75 392h2.5M953.75 408h2.5M1021.75 378h2.5M961.75 390h2.5M967.75 382h2.5M985.75 414h2.5M1039.75 380h2.5M999.75 390h2.5M1109.75 360h2.5M1057.75 334h2.5M959.75 382h2.5M1039.75 368h2.5M1053.75 356h2.5M935.75 410h2.5M1113.75 358h2.5M1097.75 326h2.5M1149.75 308h2.5M1003.75 408h2.5M993.75 376h2.5M1075.75 348h2.5M979.75 392h2.5M1129.75 328h2.5M953.75 400h2.5M983.75 394h2.5M1029.75 390h2.5M1111.75 338h2.5M1019.75 360h2.5M941.75 418h2.5M1017.75 374h2.5M997.75 418h2.5M991.75 382h2.5M1007.75 384h2.5M1051.75 350h2.5M1137.75 308h2.5M991.75 404h2.5M971.75 386h2.5M1127.75 330h2.5M965.75 402h2.5M947.75 412h2.5M1083.75 326h2.5M1123.75 342h2.5M1105.75 362h2.5M985.75 424h2.5M1047.75 368h2.5M965.75 386h2.5M981.75 406h2.5M1135.75 314h2.5M1007.75 366h2.5M1021.75 358h2.5M1087.75 336h2.5M965.75 394h2.5M1039.75 378h2.5M985.75 382h2.5M1091.75 342h2.5M1031.75 352h2.5M1019.75 370h2.5M1047.75 382h2.5M1051.75 364h2.5M995.75 380h2.5M1025.75 378h2.5M1063.75 370h2.5M1055.75 364h2.5M997.75 392h2.5M1119.75 358h2.5M943.75 398h2.5M1111.75 336h2.5M1103.75 352h2.5M975.75 410h2.5M1079.75 358h2.5M1113.75 326h2.5M1029.75 358h2.5M1001.75 378h2.5M1017.75 344h2.5M1021.75 396h2.5M1063.75 346h2.5M1019.75 390h2.5M1119.75 312h2.5M1005.75 362h2.5M1023.75 346h2.5M1081.75 362h2.5M989.75 376h2.5M1001.75 396h2.5M997.75 388h2.5M1023.75 370h2.5M1127.75 300h2.5M1115.75 350h2.5M997.75 364h2.5M1065.75 334h2.5M1117.75 350h2.5M1029.75 374h2.5M983.75 400h2.5M1109.75 348h2.5M965.75 424h2.5M991.75 388h2.5M1063.75 364h2.5M953.75 412h2.5M1043.75 318h2.5M1013.75 366h2.5M1117.75 358h2.5M1089.75 342h2.5M1093.75 340h2.5M937.75 418h2.5M1041.75 374h2.5M1061.75 358h2.5M1037.75 352h2.5M995.75 400h2.5M1115.75 306h2.5M1037.75 348h2.5M1051.75 360h2.5M1003.75 398h2.5M1063.75 328h2.5M1005.75 406h2.5M1141.75 334h2.5M1037.75 338h2.5M1059.75 350h2.5M1091.75 330h2.5M1121.75 312h2.5M1127.75 306h2.5M963.75 374h2.5M1123.75 318h2.5M947.75 420h2.5M979.75 380h2.5M1141.75 332h2.5M1079.75 360h2.5M1129.75 346h2.5M1009.75 392h2.5M1023.75 384h2.5M983.75 384h2.5M931.75 410h2.5M1103.75 334h2.5M1103.75 358h2.5M1145.75 324h2.5M1035.75 362h2.5M1047.75 346h2.5M985.75 372h2.5M1007.75 392h2.5M1119.75 348h2.5M1003.75 362h2.5M1075.75 346h2.5M981.75 400h2.5M963.75 390h2.5M995.75 354h2.5M1023.75 396h2.5M1077.75 322h2.5M987.75 390h2.5M1001.75 360h2.5M1015.75 368h2.5M975.75 406h2.5M1087.75 330h2.5M993.75 386h2.5M1077.75 352h2.5M1071.75 340h2.5M1033.75 382h2.5M1101.75 352h2.5M1039.75 346h2.5M1009.75 390h2.5M985.75 384h2.5M1017.75 384h2.5M1099.75 338h2.5M1081.75 360h2.5M1013.75 380h2.5M1071.75 346h2.5M1105.75 338h2.5M983.75 396h2.5M1015.75 402h2.5M969.75 394h2.5M985.75 438h2.5M1035.75 348h2.5M1059.75 358h2.5M967.75 408h2.5M1067.75 312h2.5M1001.75 398h2.5M983.75 404h2.5M1103.75 324h2.5M989.75 390h2.5M1091.75 360h2.5M1099.75 336h2.5M1035.75 340h2.5M1071.75 366h2.5M1103.75 336h2.5M1061.75 324h2.5M1027.75 378h2.5M1079.75 346h2.5M1059.75 334h2.5M1011.75 408h2.5M1143.75 318h2.5M949.75 400h2.5M1001.75 364h2.5M1041.75 394h2.5M1071.75 330h2.5M1023.75 326h2.5M1089.75 336h2.5M969.75 410h2.5M979.75 400h2.5M997.75 378h2.5M1097.75 342h2.5M1013.75 384h2.5M1073.75 318h2.5M1051.75 358h2.5M957.75 412h2.5M1033.75 356h2.5M1053.75 352h2.5M1011.75 368h2.5M961.75 376h2.5M1015.75 394h2.5M993.75 412h2.5M1061.75 352h2.5M1019.75 380h2.5M1069.75 378h2.5M971.75 388h2.5M953.75 436h2.5M987.75 392h2.5M989.75 406h2.5M1141.75 338h2.5M1157.75 310h2.5M1037.75 346h2.5M1025.75 380h2.5M983.75 416h2.5M1113.75 336h2.5M1067.75 352h2.5M1037.75 374h2.5M1083.75 342h2.5M1099.75 350h2.5M1029.75 346h2.5M1083.75 368h2.5M955.75 420h2.5M1085.75 330h2.5M977.75 384h2.5M1023.75 374h2.5M1065.75 328h2.5M1095.75 358h2.5M1107.75 322h2.5M929.75 408h2.5M1135.75 326h2.5M1013.75 400h2.5M1049.75 366h2.5M1009.75 364h2.5M1101.75 336h2.5M1077.75 350h2.5M1091.75 350h2.5M1027.75 394h2.5M1001.75 376h2.5M1073.75 358h2.5M969.75 382h2.5M977.75 380h2.5M1051.75 370h2.5M1041.75 352h2.5M973.75 384h2.5M1035.75 386h2.5M1111.75 326h2.5M1023.75 398h2.5M1027.75 364h2.5M1075.75 328h2.5M1017.75 370h2.5M1005.75 408h2.5M1025.75 344h2.5M1103.75 360h2.5M1023.75 366h2.5M949.75 418h2.5M951.75 392h2.5M1065.75 350h2.5M1009.75 398h2.5M1003.75 374h2.5M1049.75 382h2.5M1083.75 366h2.5M1121.75 334h2.5M1099.75 348h2.5M1015.75 366h2.5M1119.75 352h2.5M1107.75 316h2.5M1119.75 336h2.5M1039.75 366h2.5M959.75 392h2.5M1039.75 356h2.5M1085.75 326h2.5M1085.75 354h2.5M1047.75 380h2.5M1129.75 322h2.5M1137.75 310h2.5M1003.75 392h2.5M1025.75 366h2.5M1121.75 306h2.5M1143.75 306h2.5M1089.75 366h2.5M1041.75 366h2.5M1037.75 384h2.5M1121.75 316h2.5M1077.75 332h2.5M997.75 406h2.5M1001.75 402h2.5M1105.75 312h2.5M1045.75 374h2.5M949.75 408h2.5M973.75 412h2.5M1107.75 332h2.5M1073.75 356h2.5M1051.75 348h2.5M1115.75 316h2.5M1033.75 344h2.5M987.75 368h2.5M1061.75 348h2.5M1073.75 322h2.5M973.75 404h2.5M1155.75 306h2.5M1013.75 382h2.5M1115.75 352h2.5M1083.75 360h2.5M1101.75 310h2.5M1061.75 326h2.5M1071.75 370h2.5M1027.75 358h2.5M1105.75 342h2.5M1013.75 396h2.5M1135.75 336h2.5M971.75 400h2.5M1095.75 362h2.5M1027.75 386h2.5M1111.75 334h2.5M1083.75 338h2.5M1009.75 406h2.5M1023.75 394h2.5M1045.75 362h2.5M1129.75 318h2.5M1133.75 326h2.5M985.75 376h2.5M1103.75 314h2.5M971.75 402h2.5M1109.75 344h2.5M1147.75 342h2.5M999.75 376h2.5M1057.75 328h2.5M971.75 410h2.5M1001.75 382h2.5M1115.75 336h2.5M1029.75 392h2.5M997.75 380h2.5M1051.75 346h2.5M1007.75 390h2.5M1029.75 354h2.5M991.75 370h2.5M1097.75 338h2.5M991.75 390h2.5M1041.75 392h2.5M1095.75 352h2.5M993.75 424h2.5M1123.75 344h2.5M1045.75 384h2.5M1059.75 332h2.5M1053.75 372h2.5M987.75 400h2.5M1089.75 332h2.5M1041.75 368h2.5M1039.75 372h2.5M1117.75 316h2.5M991.75 410h2.5M1083.75 350h2.5M1049.75 336h2.5M987.75 412h2.5M1089.75 344h2.5M1067.75 342h2.5M977.75 374h2.5M1085.75 360h2.5M1079.75 354h2.5M1015.75 358h2.5M1149.75 344h2.5M931.75 416h2.5M1057.75 342h2.5M1073.75 366h2.5M1135.75 324h2.5M1091.75 382h2.5M951.75 402h2.5M1091.75 326h2.5M1075.75 356h2.5M1075.75 354h2.5M1137.75 328h2.5M983.75 398h2.5M971.75 414h2.5M1015.75 348h2.5M1095.75 346h2.5M1043.75 352h2.5M1051.75 372h2.5M1087.75 354h2.5M1031.75 362h2.5M1031.75 372h2.5M1081.75 326h2.5M1029.75 386h2.5M949.75 398h2.5M1111.75 332h2.5M993.75 398h2.5M1057.75 354h2.5M1033.75 370h2.5M1029.75 366h2.5M949.75 416h2.5M1039.75 352h2.5M987.75 362h2.5M997.75 382h2.5M1001.75 374h2.5M1037.75 382h2.5M1125.75 308h2.5M1155.75 322h2.5M1031.75 366h2.5M995.75 374h2.5M1043.75 390h2.5M937.75 422h2.5M1075.75 336h2.5M1101.75 334h2.5M1099.75 342h2.5M1061.75 332h2.5M1065.75 344h2.5M1093.75 320h2.5M1103.75 326h2.5M1063.75 332h2.5M939.75 428h2.5M1013.75 372h2.5M1079.75 364h2.5M1051.75 366h2.5M999.75 362h2.5M955.75 438h2.5M1043.75 342h2.5M1119.75 338h2.5M1127.75 316h2.5M947.75 408h2.5M1025.75 370h2.5M1129.75 304h2.5M977.75 402h2.5M1091.75 324h2.5M1061.75 346h2.5M963.75 396h2.5M1023.75 376h2.5M1121.75 314h2.5M1143.75 332h2.5M1029.75 376h2.5M987.75 376h2.5M1095.75 330h2.5M1025.75 390h2.5M965.75 410h2.5M1007.75 408h2.5M981.75 376h2.5M1047.75 364h2.5M1067.75 372h2.5M1031.75 380h2.5M1105.75 332h2.5M1051.75 356h2.5M1051.75 334h2.5M1071.75 356h2.5M989.75 398h2.5M1099.75 326h2.5M1107.75 346h2.5M1103.75 308h2.5M1023.75 362h2.5M1103.75 354h2.5M1097.75 340h2.5M1153.75 324h2.5M1141.75 322h2.5M1119.75 308h2.5M981.75 412h2.5M1137.75 306h2.5M1073.75 352h2.5M1045.75 382h2.5M1123.75 346h2.5M1065.75 314h2.5M1087.75 334h2.5M1047.75 362h2.5M1095.75 354h2.5M1063.75 314h2.5M1127.75 348h2.5M951.75 404h2.5M1017.75 362h2.5M1057.75 332h2.5M1063.75 344h2.5M1039.75 362h2.5M963.75 388h2.5M1019.75 350h2.5M1093.75 334h2.5M1003.75 400h2.5M1101.75 360h2.5M969.75 438h2.5M1127.75 328h2.5M1131.75 326h2.5M1043.75 372h2.5M1063.75 340h2.5M1105.75 328h2.5M1065.75 348h2.5M989.75 378h2.5M947.75 398h2.5M1097.75 354h2.5M1071.75 364h2.5M1109.75 338h2.5M989.75 404h2.5M1027.75 362h2.5M1005.75 358h2.5M1095.75 342h2.5M933.75 410h2.5M985.75 408h2.5M975.75 376h2.5" stroke="#8cf064" stroke-width="2.5" transform="translate(0,1.25)"/>
<path d="M1007.75 394h2.5M973.75 396h2.5M1011.75 400h2.5M1011.75 396h2.5M1079.75 332h2.5M979.75 412h2.5M1019.75 388h2.5M1023.75 372h2.5M1069.75 340h2.5M1091.75 346h2.5M1011.75 372h2.5M987.75 384h2.5M1047.75 344h2.5M987.75 388h2.5M1097.75 336h2.5M1089.75 330h2.5M991.75 394h2.5M1023.75 380h2.5M979.75 408h2.5M979.75 402h2.5M983.75 408h2.5M985.75 386h2.5M999.75 402h2.5M1117.75 342h2.5M999.75 388h2.5M1039.75 358h2.5M1077.75 342h2.5M991.75 384h2.5M1021.75 382h2.5M1029.75 364h2.5M1007.75 386h2.5M977.75 408h2.5M1019.75 392h2.5M1113.75 316h2.5M1041.75 354h2.5M1021.75 390h2.5M1055.75 360h2.5M1085.75 342h2.5M1085.75 332h2.5M1067.75 338h2.5M997.75 376h2.5M953.75 406h2.5M1037.75 344h2.5M1057.75 364h2.5M1011.75 364h2.5M1079.75 340h2.5M1041.75 356h2.5M1043.75 360h2.5M1029.75 350h2.5M979.75 384h2.5M1013.75 394h2.5M1113.75 318h2.5M999.75 400h2.5M1123.75 336h2.5M1049.75 380h2.5M979.75 410h2.5M1027.75 352h2.5M1097.75 348h2.5M983.75 406h2.5M955.75 414h2.5M969.75 414h2.5M1027.75 374h2.5M1011.75 384h2.5M1011.75 386h2.5M1003.75 370h2.5M1095.75 356h2.5M1061.75 354h2.5M1045.75 364h2.5M1025.75 362h2.5M1075.75 340h2.5M1075.75 360h2.5M993.75 380h2.5M1073.75 348h2.5M1069.75 332h2.5M1019.75 366h2.5M1027.75 368h2.5M993.75 404h2.5M1007.75 378h2.5M991.75 376h2.5M1115.75 318h2.5M981.75 404h2.5M1085.75 338h2.5M1085.75 348h2.5M995.75 396h2.5M1075.75 344h2.5M1015.75 390h2.5M955.75 400h2.5M1079.75 336h2.5M953.75 414h2.5M1133.75 328h2.5M1081.75 340h2.5M1045.75 356h2.5M1021.75 394h2.5M1123.75 314h2.5M1019.75 374h2.5M1049.75 372h2.5M995.75 384h2.5M1079.75 344h2.5M1081.75 344h2.5M985.75 400h2.5M987.75 406h2.5M1041.75 364h2.5M1019.75 396h2.5M949.75 404h2.5M1101.75 348h2.5M963.75 398h2.5M1135.75 320h2.5M981.75 408h2.5M1011.75 376h2.5M1105.75 336h2.5M1083.75 346h2.5M1041.75 382h2.5M1027.75 384h2.5M1115.75 314h2.5M999.75 378h2.5M1007.75 388h2.5M975.75 398h2.5M1011.75 374h2.5M1029.75 360h2.5M1029.75 356h2.5M1087.75 340h2.5M1047.75 342h2.5M1067.75 348h2.5" stroke="#ffff20" stroke-width="2.5" transform="translate(0,1.25)"/>
<path d="M995.75 386h2.5M1019.75 376h2.5M1027.75 382h2.5M1021.75 362h2.5M977.75 388h2.5M1035.75 346h2.5M1025.75 374h2.5M1067.75 350h2.5M1039.75 350h2.5M1005.75 380h2.5M1127.75 320h2.5M1029.75 388h2.5M1045.75 348h2.5M1021.75 380h2.5M987.75 404h2.5M1021.75 386h2.5M1003.75 390h2.5M985.75 402h2.5M987.75 410h2.5M1009.75 394h2.5M1021.75 374h2.5M981.75 386h2.5M985.75 398h2.5M981.75 392h2.5M1003.75 380h2.5M1039.75 376h2.5M1009.75 396h2.5M981.75 394h2.5M1023.75 378h2.5M1015.75 382h2.5M1017.75 392h2.5M983.75 388h2.5M1065.75 342h2.5M1087.75 350h2.5M1081.75 334h2.5M989.75 396h2.5M1017.75 376h2.5M1011.75 394h2.5M1059.75 354h2.5M1031.75 368h2.5M1077.75 340h2.5M1093.75 344h2.5M1019.75 398h2.5M993.75 390h2.5M985.75 412h2.5M1079.75 334h2.5M1005.75 384h2.5M975.75 404h2.5M1009.75 386h2.5M1043.75 364h2.5M1041.75 358h2.5M985.75 394h2.5M1127.75 322h2.5M991.75 378h2.5M1111.75 316h2.5" stroke="#f06018" stroke-width="2.5" transform="translate(0,1.25)"/>
<path d="M801.0 524.7h2M810.6 524.7h2M826.3 524.7h2M836.7 524.7h2M845.9 524.7h2M868.3 524.7h2M882.7 524.7h2M887.5 524.7h2M891.5 524.7h2M910.3 524.7h2M928.3 524.7h2M936.7 524.7h2M949.6 524.7h2M968.9 524.7h2" stroke="#0000ff" stroke-width="1.8"/>
<path d="M771.2 490.8H777.2M815.6 526.3V531.8M771.2 470.0H777.2M838.1 526.3V531.8M771.2 455.3H777.2M854.0 526.3V531.8M771.2 434.5H777.2M876.5 526.3V531.8M771.2 426.6H777.2M885.0 526.3V531.8M771.2 419.8H777.2M892.4 526.3V531.8M771.2 413.8H777.2M898.9 526.3V531.8M771.2 372.9H777.2M943.2 526.3V531.8M771.2 352.1H777.2M965.6 526.3V531.8M771.2 337.4H777.2M981.6 526.3V531.8M771.2 316.6H777.2M1004.0 526.3V531.8M771.2 308.7H777.2M1012.6 526.3V531.8M771.2 301.9H777.2M1020.0 526.3V531.8M771.2 295.8H777.2M1026.5 526.3V531.8M771.2 255.0H777.2M1070.8 526.3V531.8M771.2 234.2H777.2M1093.2 526.3V531.8M771.2 219.5H777.2M1109.2 526.3V531.8M771.2 198.7H777.2M1131.6 526.3V531.8M771.2 190.8H777.2M1140.2 526.3V531.8M771.2 184.0H777.2M1147.6 526.3V531.8M771.2 177.9H777.2M1154.1 526.3V531.8M771.2 137.0H777.2M1198.3 526.3V531.8M771.2 116.3H777.2M1220.8 526.3V531.8M771.2 101.5H777.2M1236.7 526.3V531.8M771.2 80.8H777.2M1259.2 526.3V531.8M771.2 72.9H777.2M1267.7 526.3V531.8M771.2 66.0H777.2M1275.1 526.3V531.8M771.2 60.0H777.2M1281.7 526.3V531.8" stroke="#222" stroke-width="1.8" fill="none"/><path d="M768.2 526.3H777.2M777.2 526.3V536.3M771.2 443.9H777.2M866.4 526.3V533.3M768.2 408.4H777.2M904.8 526.3V536.3M771.2 325.9H777.2M993.9 526.3V533.3M768.2 290.4H777.2M1032.3 526.3V536.3M771.2 208.0H777.2M1121.5 526.3V533.3M768.2 172.5H777.2M1159.9 526.3V536.3M771.2 90.1H777.2M1249.1 526.3V533.3M768.2 54.6H777.2M1287.5 526.3V536.3" stroke="#222" stroke-width="2.6" fill="none"/><path d="M777.2 289.8H1287.5M1057.0 54.6V526.3" stroke="#000" stroke-width="2.5" fill="none"/>
<rect x="125.2" y="688.3" width="2.70" height="500.10" fill="#efefef"/>
<rect x="125.2" y="1168.3" width="523.30" height="20.10" fill="#efefef"/>
<rect x="125.2" y="688.3" width="523.30" height="6.60" fill="#efefef"/>
<rect x="640.3" y="688.3" width="8.20" height="500.10" fill="#efefef"/>
<rect x="127.9" y="694.9" width="512.40" height="473.40" fill="#fff" stroke="#222" stroke-width="1.7"/>
<path d="M325.75 1034h2.5M399.75 1010h2.5M341.75 1066h2.5M389.75 954h2.5M393.75 1038h2.5M425.75 920h2.5M407.75 1038h2.5M415.75 1024h2.5M473.75 976h2.5M403.75 1010h2.5M325.75 1018h2.5M469.75 950h2.5M461.75 1002h2.5M309.75 952h2.5M415.75 892h2.5M353.75 994h2.5M331.75 1046h2.5M251.75 1150h2.5M359.75 1052h2.5M423.75 950h2.5M423.75 1034h2.5M389.75 970h2.5M449.75 986h2.5M489.75 986h2.5M443.75 960h2.5M369.75 1046h2.5M423.75 1032h2.5M445.75 1018h2.5M371.75 1014h2.5M471.75 1014h2.5M429.75 988h2.5M313.75 1058h2.5M479.75 982h2.5M443.75 1020h2.5M375.75 1016h2.5M349.75 1040h2.5M477.75 888h2.5M311.75 1046h2.5M457.75 916h2.5M453.75 1006h2.5M415.75 884h2.5M389.75 874h2.5M367.75 924h2.5M395.75 1046h2.5M255.75 1096h2.5M393.75 976h2.5M393.75 972h2.5M499.75 976h2.5M505.75 992h2.5M291.75 1036h2.5M377.75 1004h2.5M325.75 950h2.5M319.75 1042h2.5M339.75 1070h2.5M425.75 990h2.5M359.75 964h2.5M465.75 942h2.5M471.75 924h2.5M407.75 1026h2.5M393.75 1030h2.5M415.75 1016h2.5M463.75 864h2.5M431.75 884h2.5M507.75 936h2.5M429.75 960h2.5M349.75 996h2.5M349.75 1014h2.5M411.75 964h2.5M433.75 936h2.5M403.75 960h2.5M457.75 1000h2.5M429.75 1014h2.5M471.75 996h2.5M359.75 1054h2.5M363.75 1000h2.5M481.75 952h2.5M401.75 954h2.5M449.75 970h2.5M365.75 1074h2.5M343.75 1070h2.5M317.75 896h2.5M247.75 928h2.5M475.75 928h2.5M359.75 992h2.5M375.75 1018h2.5M415.75 1014h2.5M395.75 942h2.5M455.75 982h2.5M493.75 984h2.5M411.75 1022h2.5M407.75 998h2.5M485.75 1006h2.5M493.75 854h2.5M513.75 964h2.5M399.75 1038h2.5M381.75 984h2.5M427.75 874h2.5M473.75 968h2.5M309.75 1082h2.5M315.75 1040h2.5M499.75 962h2.5M399.75 1006h2.5M203.75 1084h2.5M345.75 1032h2.5M341.75 1040h2.5M311.75 1084h2.5M399.75 1024h2.5M397.75 970h2.5M445.75 1002h2.5M445.75 968h2.5M391.75 1004h2.5M395.75 1070h2.5M449.75 1000h2.5M431.75 1054h2.5M311.75 896h2.5M451.75 994h2.5M337.75 1068h2.5M497.75 936h2.5M513.75 926h2.5M307.75 960h2.5M517.75 982h2.5M497.75 984h2.5M445.75 1016h2.5M303.75 1030h2.5M487.75 994h2.5M435.75 1016h2.5M353.75 1058h2.5M405.75 906h2.5M315.75 954h2.5M553.75 864h2.5M295.75 1044h2.5M471.75 1004h2.5M549.75 896h2.5M377.75 1002h2.5M487.75 942h2.5M545.75 926h2.5M325.75 980h2.5M433.75 968h2.5M527.75 940h2.5M581.75 900h2.5M429.75 990h2.5M365.75 1024h2.5M271.75 1066h2.5M417.75 998h2.5M387.75 982h2.5M429.75 1030h2.5M555.75 930h2.5M507.75 988h2.5M319.75 970h2.5M469.75 952h2.5M413.75 970h2.5M385.75 988h2.5M339.75 1034h2.5M495.75 978h2.5M261.75 1068h2.5M429.75 1024h2.5M521.75 948h2.5M493.75 978h2.5M363.75 978h2.5M445.75 954h2.5M395.75 1006h2.5M399.75 972h2.5M315.75 1088h2.5M399.75 930h2.5M331.75 1040h2.5M397.75 988h2.5M335.75 1036h2.5M547.75 930h2.5M481.75 968h2.5M361.75 962h2.5M213.75 1086h2.5M339.75 1016h2.5M303.75 1022h2.5M269.75 1050h2.5M433.75 948h2.5M405.75 1022h2.5M569.75 912h2.5M371.75 1038h2.5M263.75 1072h2.5M375.75 1028h2.5M487.75 908h2.5M523.75 940h2.5M499.75 942h2.5M407.75 970h2.5M297.75 1042h2.5M313.75 1052h2.5M477.75 986h2.5M433.75 972h2.5M361.75 1052h2.5M435.75 976h2.5M437.75 982h2.5M317.75 1060h2.5M361.75 942h2.5M295.75 1092h2.5M443.75 992h2.5M545.75 906h2.5M381.75 1000h2.5M343.75 1026h2.5M363.75 990h2.5M321.75 1026h2.5M425.75 982h2.5M423.75 972h2.5M377.75 1050h2.5M389.75 894h2.5M525.75 966h2.5M519.75 960h2.5M307.75 1076h2.5M607.75 948h2.5M503.75 862h2.5M339.75 990h2.5M413.75 1034h2.5M533.75 998h2.5M345.75 1014h2.5M411.75 978h2.5M499.75 1022h2.5M363.75 968h2.5M359.75 1032h2.5M313.75 1048h2.5M433.75 1032h2.5M367.75 1080h2.5M327.75 1064h2.5M459.75 954h2.5M415.75 904h2.5M361.75 952h2.5M325.75 1012h2.5M403.75 1016h2.5M493.75 1008h2.5M419.75 986h2.5M503.75 974h2.5M349.75 1046h2.5M319.75 1050h2.5M443.75 860h2.5M285.75 1098h2.5M245.75 1098h2.5M287.75 1054h2.5M265.75 948h2.5M281.75 1036h2.5M489.75 956h2.5M501.75 974h2.5M465.75 946h2.5M465.75 966h2.5M491.75 936h2.5M427.75 972h2.5M313.75 1038h2.5M415.75 1002h2.5M459.75 998h2.5M259.75 1072h2.5M333.75 1044h2.5M537.75 878h2.5M483.75 960h2.5M459.75 950h2.5M431.75 978h2.5M383.75 1038h2.5M371.75 1080h2.5M497.75 988h2.5M469.75 926h2.5M419.75 972h2.5M505.75 890h2.5M421.75 1028h2.5M335.75 1044h2.5M511.75 904h2.5M473.75 992h2.5M517.75 920h2.5M371.75 1006h2.5M461.75 890h2.5M321.75 1032h2.5M409.75 988h2.5M435.75 984h2.5M307.75 1060h2.5M433.75 916h2.5M475.75 972h2.5M359.75 1046h2.5M253.75 1056h2.5M377.75 1028h2.5M307.75 1032h2.5M403.75 1026h2.5M417.75 960h2.5M365.75 990h2.5M307.75 1048h2.5M419.75 996h2.5M471.75 976h2.5M335.75 1022h2.5M519.75 904h2.5M375.75 1068h2.5M429.75 994h2.5M419.75 980h2.5M291.75 1042h2.5M337.75 1040h2.5M315.75 912h2.5M349.75 986h2.5M345.75 928h2.5M277.75 1052h2.5M477.75 894h2.5M491.75 986h2.5M289.75 1098h2.5M315.75 924h2.5M355.75 1060h2.5M463.75 912h2.5M347.75 1036h2.5M547.75 902h2.5M341.75 898h2.5M471.75 954h2.5M353.75 1044h2.5M481.75 972h2.5M355.75 1066h2.5M491.75 942h2.5M517.75 978h2.5M365.75 908h2.5M333.75 1060h2.5M479.75 948h2.5M405.75 1052h2.5M337.75 996h2.5M323.75 1018h2.5M353.75 1022h2.5M255.75 998h2.5M331.75 992h2.5M367.75 966h2.5M335.75 1018h2.5M301.75 1050h2.5M495.75 956h2.5M451.75 988h2.5M343.75 1024h2.5M419.75 1018h2.5M477.75 978h2.5M607.75 872h2.5M245.75 1092h2.5M425.75 1040h2.5M443.75 982h2.5M487.75 984h2.5M337.75 1090h2.5M489.75 1030h2.5M429.75 948h2.5M515.75 946h2.5M441.75 958h2.5M393.75 986h2.5M305.75 1050h2.5M319.75 916h2.5M367.75 1048h2.5M527.75 978h2.5M433.75 1024h2.5M485.75 952h2.5M431.75 1032h2.5M337.75 1010h2.5M475.75 1006h2.5M325.75 1040h2.5M471.75 966h2.5M479.75 988h2.5M399.75 960h2.5M495.75 928h2.5M317.75 956h2.5M315.75 1044h2.5M525.75 908h2.5M359.75 1050h2.5M449.75 904h2.5M497.75 924h2.5M317.75 1016h2.5M333.75 976h2.5M429.75 964h2.5M425.75 1002h2.5M387.75 998h2.5M507.75 958h2.5M313.75 1078h2.5M391.75 1048h2.5M463.75 994h2.5M499.75 946h2.5M409.75 970h2.5M333.75 1054h2.5M335.75 1028h2.5M451.75 980h2.5M487.75 944h2.5M423.75 956h2.5M569.75 916h2.5M443.75 990h2.5M321.75 928h2.5M329.75 1022h2.5M339.75 1066h2.5M331.75 1016h2.5M315.75 1070h2.5M277.75 1082h2.5M499.75 928h2.5M523.75 980h2.5M497.75 928h2.5M299.75 1096h2.5M501.75 970h2.5M321.75 982h2.5M417.75 1018h2.5M403.75 1032h2.5M511.75 950h2.5M339.75 1020h2.5M361.75 1006h2.5M467.75 920h2.5M311.75 1014h2.5M407.75 1000h2.5M393.75 970h2.5M523.75 904h2.5M499.75 1000h2.5M319.75 1080h2.5M357.75 1008h2.5M203.75 1070h2.5M365.75 1042h2.5M417.75 908h2.5M455.75 1010h2.5M337.75 1008h2.5M331.75 896h2.5M467.75 978h2.5M301.75 1048h2.5M493.75 900h2.5M363.75 1052h2.5M339.75 1068h2.5M427.75 982h2.5M465.75 1016h2.5M357.75 1014h2.5M475.75 976h2.5M563.75 850h2.5M311.75 1052h2.5M503.75 996h2.5M369.75 916h2.5M311.75 1058h2.5M505.75 922h2.5M357.75 1058h2.5M487.75 972h2.5M451.75 1008h2.5M567.75 924h2.5M449.75 984h2.5M371.75 944h2.5M409.75 986h2.5M401.75 1048h2.5M377.75 990h2.5M299.75 1038h2.5M429.75 992h2.5M437.75 1010h2.5M283.75 976h2.5M479.75 968h2.5M395.75 962h2.5M381.75 1018h2.5M517.75 936h2.5M417.75 962h2.5M449.75 974h2.5M281.75 1064h2.5M305.75 1060h2.5M543.75 982h2.5M329.75 1052h2.5M277.75 1064h2.5M317.75 1034h2.5M377.75 1034h2.5M323.75 1032h2.5M327.75 1054h2.5M207.75 1040h2.5M491.75 932h2.5M321.75 1054h2.5M537.75 950h2.5M419.75 1022h2.5M267.75 990h2.5M407.75 972h2.5M483.75 990h2.5M309.75 1044h2.5M547.75 908h2.5M311.75 1062h2.5M445.75 896h2.5M367.75 954h2.5M477.75 1004h2.5M319.75 1048h2.5M403.75 954h2.5M463.75 1004h2.5M361.75 1022h2.5M505.75 938h2.5M393.75 1056h2.5M319.75 1038h2.5M413.75 972h2.5M521.75 944h2.5M443.75 902h2.5M317.75 1018h2.5M299.75 1092h2.5M383.75 898h2.5M379.75 1018h2.5M295.75 1062h2.5M351.75 1024h2.5M389.75 964h2.5M497.75 990h2.5M489.75 886h2.5M433.75 986h2.5M373.75 990h2.5M301.75 1068h2.5M269.75 970h2.5M427.75 1038h2.5M497.75 960h2.5M355.75 1048h2.5M369.75 1020h2.5M465.75 1004h2.5M549.75 978h2.5M353.75 998h2.5M345.75 1066h2.5M501.75 868h2.5M453.75 904h2.5M437.75 944h2.5M493.75 968h2.5M449.75 898h2.5M459.75 1004h2.5M437.75 970h2.5M297.75 1104h2.5M269.75 1072h2.5M443.75 962h2.5M483.75 988h2.5M493.75 944h2.5M249.75 1070h2.5M447.75 966h2.5M493.75 896h2.5M281.75 1096h2.5M463.75 858h2.5M349.75 982h2.5M371.75 1064h2.5M337.75 1030h2.5M301.75 1060h2.5M465.75 854h2.5M331.75 1068h2.5M509.75 984h2.5M429.75 1054h2.5M531.75 928h2.5M305.75 1098h2.5M383.75 1062h2.5M413.75 998h2.5M391.75 940h2.5M257.75 974h2.5M347.75 1000h2.5M363.75 994h2.5M341.75 1018h2.5M381.75 1012h2.5M413.75 992h2.5M495.75 932h2.5M335.75 1032h2.5M541.75 976h2.5M335.75 958h2.5M347.75 1006h2.5M385.75 996h2.5M459.75 1002h2.5M391.75 1002h2.5M465.75 930h2.5M159.75 1072h2.5M391.75 914h2.5M427.75 984h2.5M505.75 1002h2.5M435.75 1004h2.5M237.75 1050h2.5M559.75 898h2.5M467.75 1010h2.5M191.75 956h2.5M423.75 988h2.5M555.75 950h2.5M377.75 1068h2.5M383.75 872h2.5M355.75 1058h2.5M345.75 1016h2.5M337.75 1072h2.5M477.75 1014h2.5M415.75 968h2.5M477.75 988h2.5M469.75 942h2.5M447.75 1016h2.5M435.75 1024h2.5M315.75 1098h2.5M379.75 1060h2.5M499.75 994h2.5M519.75 956h2.5M447.75 910h2.5M275.75 1066h2.5M367.75 1046h2.5M265.75 1026h2.5M393.75 974h2.5M305.75 986h2.5M343.75 1062h2.5M397.75 1032h2.5M477.75 984h2.5M353.75 1056h2.5M459.75 968h2.5M403.75 1040h2.5M351.75 1040h2.5M327.75 1052h2.5M459.75 978h2.5M253.75 1078h2.5M469.75 994h2.5M389.75 1058h2.5M471.75 986h2.5M463.75 926h2.5M405.75 1024h2.5M505.75 986h2.5M403.75 1054h2.5M329.75 1072h2.5M415.75 1034h2.5M425.75 1058h2.5M449.75 942h2.5M369.75 1000h2.5M381.75 1066h2.5M335.75 1066h2.5M349.75 1070h2.5M475.75 940h2.5M571.75 850h2.5M307.75 1078h2.5M427.75 956h2.5M431.75 964h2.5M401.75 972h2.5M511.75 944h2.5M511.75 970h2.5M439.75 1004h2.5M433.75 918h2.5M439.75 990h2.5M379.75 1046h2.5M409.75 982h2.5M505.75 982h2.5M391.75 976h2.5M421.75 932h2.5M497.75 952h2.5M503.75 990h2.5M437.75 968h2.5M361.75 1040h2.5M259.75 1064h2.5M221.75 1134h2.5M387.75 1070h2.5M345.75 1074h2.5M421.75 1020h2.5M483.75 972h2.5M331.75 1014h2.5M545.75 946h2.5M481.75 940h2.5M307.75 1034h2.5M343.75 1016h2.5M435.75 870h2.5M315.75 968h2.5M383.75 906h2.5M345.75 980h2.5M317.75 1040h2.5M317.75 1086h2.5M443.75 1008h2.5M465.75 984h2.5M361.75 1016h2.5M435.75 968h2.5M381.75 1056h2.5M349.75 1004h2.5M403.75 1058h2.5M505.75 972h2.5M511.75 962h2.5M351.75 958h2.5M519.75 970h2.5M365.75 954h2.5M435.75 990h2.5M343.75 986h2.5M435.75 962h2.5M455.75 1012h2.5M327.75 1012h2.5M269.75 1094h2.5M475.75 906h2.5M561.75 884h2.5M367.75 972h2.5M459.75 992h2.5M337.75 1026h2.5M267.75 1042h2.5M301.75 1044h2.5M351.75 976h2.5M447.75 1002h2.5M443.75 896h2.5M457.75 962h2.5M439.75 930h2.5M471.75 972h2.5M539.75 958h2.5M445.75 904h2.5M297.75 916h2.5M445.75 962h2.5M341.75 1000h2.5M375.75 906h2.5M331.75 1000h2.5M487.75 954h2.5M351.75 1036h2.5M497.75 830h2.5M441.75 988h2.5M483.75 976h2.5M401.75 914h2.5M355.75 1004h2.5M309.75 1052h2.5M499.75 964h2.5M423.75 952h2.5M337.75 1042h2.5M417.75 1002h2.5M477.75 994h2.5M379.75 972h2.5M449.75 876h2.5M317.75 1064h2.5M313.75 1090h2.5M405.75 1018h2.5M297.75 1064h2.5M449.75 952h2.5M337.75 894h2.5M453.75 936h2.5M465.75 1052h2.5M383.75 1050h2.5M415.75 954h2.5M315.75 956h2.5M443.75 950h2.5M271.75 1042h2.5M515.75 926h2.5M451.75 1010h2.5M239.75 1060h2.5M409.75 882h2.5M343.75 1046h2.5M299.75 1078h2.5M425.75 1004h2.5M263.75 1108h2.5M533.75 982h2.5M507.75 964h2.5M511.75 938h2.5M529.75 938h2.5M407.75 984h2.5M497.75 934h2.5M445.75 984h2.5M451.75 984h2.5M503.75 952h2.5M457.75 998h2.5M491.75 964h2.5M391.75 1026h2.5M367.75 996h2.5M441.75 960h2.5M523.75 866h2.5M441.75 878h2.5M395.75 1032h2.5M439.75 1058h2.5M447.75 1036h2.5M513.75 966h2.5M497.75 956h2.5M537.75 934h2.5M455.75 944h2.5M299.75 1062h2.5M301.75 1014h2.5M161.75 1072h2.5M497.75 942h2.5M425.75 1052h2.5M455.75 1022h2.5M525.75 868h2.5M401.75 980h2.5M361.75 946h2.5M411.75 970h2.5M297.75 1052h2.5M225.75 964h2.5M391.75 1054h2.5M429.75 1032h2.5M461.75 928h2.5M349.75 1000h2.5M347.75 984h2.5M523.75 944h2.5M335.75 1002h2.5M319.75 1010h2.5M467.75 968h2.5M413.75 1032h2.5M399.75 1070h2.5M457.75 990h2.5M383.75 910h2.5M469.75 940h2.5M421.75 980h2.5M445.75 1006h2.5M313.75 1064h2.5M373.75 1006h2.5M393.75 1068h2.5M381.75 990h2.5M411.75 900h2.5M377.75 1048h2.5M263.75 988h2.5M361.75 1012h2.5M461.75 982h2.5M461.75 1012h2.5M389.75 1008h2.5M415.75 1018h2.5M333.75 1082h2.5M311.75 924h2.5M425.75 1032h2.5M423.75 970h2.5M391.75 974h2.5M379.75 1026h2.5M347.75 1050h2.5M493.75 970h2.5M419.75 960h2.5M419.75 912h2.5M437.75 948h2.5M475.75 912h2.5M391.75 1030h2.5M497.75 982h2.5M353.75 1052h2.5M493.75 976h2.5M397.75 1054h2.5M353.75 1068h2.5M339.75 1074h2.5M361.75 1060h2.5M397.75 980h2.5M445.75 950h2.5M307.75 1040h2.5M449.75 948h2.5M343.75 1034h2.5M343.75 1060h2.5M431.75 1042h2.5M457.75 942h2.5M305.75 1064h2.5M499.75 952h2.5M371.75 1060h2.5M487.75 956h2.5M491.75 948h2.5M489.75 964h2.5M293.75 964h2.5M439.75 1012h2.5M423.75 978h2.5M419.75 1020h2.5M483.75 956h2.5M395.75 992h2.5M455.75 932h2.5M397.75 982h2.5M261.75 918h2.5M295.75 1048h2.5M483.75 1002h2.5M375.75 1046h2.5M405.75 1032h2.5M187.75 1090h2.5M471.75 956h2.5M347.75 1020h2.5M339.75 1072h2.5M391.75 1066h2.5M433.75 978h2.5M483.75 958h2.5M461.75 960h2.5M393.75 894h2.5M493.75 936h2.5M249.75 1058h2.5M451.75 904h2.5M473.75 956h2.5M505.75 990h2.5M395.75 1012h2.5M381.75 1058h2.5M429.75 984h2.5M469.75 1002h2.5M359.75 1064h2.5M467.75 942h2.5M409.75 920h2.5M505.75 958h2.5M509.75 958h2.5M443.75 934h2.5M349.75 1010h2.5M393.75 1032h2.5M489.75 988h2.5M363.75 1046h2.5M481.75 936h2.5M351.75 1022h2.5M289.75 1112h2.5M325.75 1032h2.5M303.75 1108h2.5M459.75 1016h2.5M545.75 982h2.5M501.75 932h2.5M261.75 1070h2.5M397.75 908h2.5M485.75 974h2.5M385.75 1000h2.5M353.75 1002h2.5M389.75 1042h2.5M351.75 994h2.5M461.75 936h2.5M453.75 1050h2.5M449.75 1030h2.5M517.75 950h2.5M329.75 1060h2.5M449.75 966h2.5M361.75 984h2.5M419.75 964h2.5M555.75 876h2.5M375.75 1080h2.5M493.75 954h2.5M459.75 1010h2.5M461.75 1020h2.5M453.75 862h2.5M501.75 934h2.5M349.75 1084h2.5M505.75 960h2.5M485.75 930h2.5M507.75 880h2.5M371.75 1020h2.5M315.75 1038h2.5M335.75 912h2.5M351.75 992h2.5M353.75 1010h2.5M417.75 1022h2.5M251.75 966h2.5M235.75 1048h2.5M287.75 946h2.5M273.75 986h2.5M521.75 968h2.5M385.75 1068h2.5M507.75 948h2.5M417.75 982h2.5M311.75 1030h2.5M263.75 1090h2.5M299.75 1066h2.5M421.75 886h2.5M331.75 1056h2.5M387.75 1040h2.5M431.75 994h2.5M449.75 946h2.5M475.75 1002h2.5M431.75 1018h2.5M435.75 978h2.5M339.75 1058h2.5M469.75 988h2.5M527.75 942h2.5M445.75 948h2.5M405.75 1064h2.5M373.75 988h2.5M465.75 1000h2.5M307.75 1066h2.5M469.75 970h2.5M409.75 994h2.5M313.75 1032h2.5M469.75 896h2.5M337.75 908h2.5M551.75 924h2.5M463.75 948h2.5M441.75 1026h2.5M421.75 1004h2.5M455.75 956h2.5M443.75 898h2.5M435.75 1034h2.5M159.75 1046h2.5M371.75 1032h2.5M381.75 1048h2.5M497.75 908h2.5M461.75 986h2.5M447.75 980h2.5M365.75 1064h2.5M337.75 1012h2.5M481.75 1006h2.5M485.75 980h2.5M409.75 1006h2.5M417.75 978h2.5M401.75 906h2.5M329.75 996h2.5M527.75 880h2.5M499.75 1006h2.5M389.75 928h2.5M591.75 882h2.5M471.75 980h2.5M405.75 974h2.5M299.75 1018h2.5M427.75 978h2.5M305.75 1042h2.5M271.75 1046h2.5M477.75 956h2.5M285.75 942h2.5M483.75 966h2.5M393.75 978h2.5M289.75 1024h2.5M501.75 1000h2.5M465.75 1002h2.5M333.75 1072h2.5M439.75 1028h2.5M167.75 1070h2.5M383.75 1002h2.5M293.75 978h2.5M315.75 1084h2.5M313.75 1004h2.5M435.75 1046h2.5M279.75 946h2.5M435.75 1006h2.5M355.75 1046h2.5M417.75 890h2.5M483.75 894h2.5M391.75 964h2.5M495.75 902h2.5M385.75 1044h2.5M365.75 1054h2.5M415.75 978h2.5M425.75 956h2.5M489.75 994h2.5M483.75 954h2.5M489.75 854h2.5M265.75 1002h2.5M487.75 920h2.5M511.75 890h2.5M505.75 858h2.5M431.75 1012h2.5M419.75 902h2.5M417.75 1062h2.5M381.75 894h2.5M325.75 1052h2.5M287.75 966h2.5M321.75 1060h2.5M425.75 942h2.5M241.75 1000h2.5M537.75 912h2.5M349.75 1018h2.5M397.75 1022h2.5M453.75 976h2.5M521.75 900h2.5M425.75 970h2.5M365.75 984h2.5M401.75 1034h2.5M521.75 852h2.5M385.75 1058h2.5M357.75 904h2.5M447.75 964h2.5M501.75 956h2.5M151.75 1080h2.5M397.75 1008h2.5M329.75 946h2.5M415.75 966h2.5M411.75 984h2.5M441.75 962h2.5M401.75 986h2.5M287.75 1086h2.5M451.75 960h2.5M287.75 1080h2.5M289.75 1058h2.5M325.75 1036h2.5M397.75 966h2.5M343.75 1056h2.5M401.75 984h2.5M455.75 1004h2.5M437.75 1038h2.5M437.75 1028h2.5M291.75 974h2.5M465.75 1012h2.5M453.75 962h2.5M415.75 970h2.5M453.75 992h2.5M483.75 902h2.5M277.75 1046h2.5M517.75 892h2.5M455.75 1000h2.5M469.75 944h2.5M451.75 946h2.5M335.75 1006h2.5M381.75 1070h2.5M287.75 1022h2.5M449.75 994h2.5M437.75 998h2.5M417.75 1044h2.5M273.75 1074h2.5M313.75 1036h2.5M361.75 1020h2.5M321.75 948h2.5M405.75 966h2.5M491.75 934h2.5M441.75 1002h2.5M395.75 1036h2.5M455.75 1028h2.5M379.75 1054h2.5M523.75 966h2.5M429.75 966h2.5M471.75 952h2.5M547.75 878h2.5M341.75 1006h2.5M415.75 1032h2.5M271.75 1092h2.5M447.75 838h2.5M489.75 982h2.5M421.75 972h2.5M403.75 1042h2.5M301.75 1040h2.5M457.75 1006h2.5M511.75 992h2.5M329.75 1018h2.5M527.75 874h2.5M379.75 1052h2.5M343.75 1074h2.5M415.75 874h2.5M409.75 1038h2.5M289.75 992h2.5M429.75 904h2.5M297.75 1074h2.5M255.75 1086h2.5M411.75 966h2.5M401.75 898h2.5M443.75 994h2.5M467.75 852h2.5M271.75 1100h2.5M391.75 968h2.5M451.75 1006h2.5M469.75 998h2.5M287.75 1052h2.5M391.75 1010h2.5M341.75 1064h2.5M477.75 1000h2.5M481.75 1010h2.5M391.75 1028h2.5M373.75 1002h2.5M391.75 1042h2.5M465.75 996h2.5M485.75 998h2.5M401.75 1000h2.5M319.75 1070h2.5M309.75 1036h2.5M473.75 1024h2.5M359.75 1010h2.5M355.75 1036h2.5M353.75 1004h2.5M413.75 1042h2.5M505.75 924h2.5M525.75 948h2.5M383.75 962h2.5M473.75 966h2.5M513.75 934h2.5M447.75 950h2.5M417.75 1000h2.5M397.75 1048h2.5M279.75 922h2.5M457.75 870h2.5M385.75 1064h2.5M417.75 986h2.5M491.75 970h2.5M343.75 1066h2.5M447.75 942h2.5M389.75 982h2.5M377.75 1052h2.5M361.75 986h2.5M469.75 938h2.5M287.75 1088h2.5M361.75 988h2.5M347.75 982h2.5M371.75 984h2.5M361.75 972h2.5M363.75 992h2.5M393.75 906h2.5M317.75 1006h2.5M501.75 998h2.5M509.75 974h2.5M335.75 1012h2.5M341.75 1010h2.5M349.75 1062h2.5M439.75 1020h2.5M397.75 952h2.5M353.75 988h2.5M293.75 984h2.5M507.75 962h2.5M359.75 1026h2.5M299.75 1028h2.5M461.75 1022h2.5M215.75 1116h2.5M311.75 1050h2.5M449.75 980h2.5M471.75 950h2.5M503.75 942h2.5M455.75 906h2.5M327.75 1018h2.5M501.75 962h2.5M411.75 1018h2.5M499.75 944h2.5M529.75 902h2.5M373.75 906h2.5M503.75 938h2.5M271.75 1112h2.5M411.75 896h2.5M363.75 974h2.5M515.75 910h2.5M541.75 936h2.5M261.75 1048h2.5M457.75 1004h2.5M383.75 1032h2.5M491.75 984h2.5M267.75 946h2.5M383.75 994h2.5M435.75 956h2.5M347.75 992h2.5M453.75 932h2.5M387.75 1030h2.5M383.75 1056h2.5M479.75 986h2.5M499.75 986h2.5M317.75 968h2.5M463.75 1010h2.5M413.75 912h2.5M207.75 1080h2.5M305.75 1094h2.5M325.75 1084h2.5M417.75 1008h2.5M399.75 1018h2.5M367.75 1018h2.5M331.75 974h2.5M311.75 1010h2.5M367.75 1020h2.5M211.75 1114h2.5M415.75 956h2.5M285.75 1074h2.5M483.75 946h2.5M363.75 986h2.5M517.75 990h2.5M415.75 964h2.5M381.75 982h2.5M433.75 992h2.5M445.75 936h2.5M299.75 924h2.5M261.75 1050h2.5M453.75 986h2.5M451.75 1004h2.5M329.75 1058h2.5M369.75 992h2.5M351.75 1004h2.5M405.75 1038h2.5M525.75 962h2.5M289.75 1062h2.5M531.75 940h2.5M471.75 1012h2.5M451.75 940h2.5M395.75 970h2.5M497.75 962h2.5M363.75 984h2.5M459.75 958h2.5M405.75 996h2.5M425.75 1022h2.5M313.75 976h2.5M537.75 954h2.5M401.75 900h2.5M429.75 976h2.5M445.75 960h2.5M345.75 1012h2.5M467.75 950h2.5M343.75 1040h2.5M373.75 1014h2.5M511.75 982h2.5M401.75 1010h2.5M311.75 1028h2.5M405.75 958h2.5M335.75 1128h2.5M443.75 954h2.5M333.75 1064h2.5M315.75 1026h2.5M275.75 1080h2.5M461.75 994h2.5M353.75 980h2.5M377.75 1026h2.5M329.75 926h2.5M351.75 968h2.5M405.75 956h2.5M537.75 956h2.5M435.75 986h2.5M319.75 1036h2.5M323.75 1086h2.5M421.75 1024h2.5M329.75 998h2.5M301.75 1074h2.5M251.75 1090h2.5M403.75 994h2.5M531.75 1020h2.5M447.75 970h2.5M447.75 1006h2.5M195.75 1086h2.5M459.75 1008h2.5M381.75 1002h2.5M457.75 944h2.5M345.75 936h2.5M335.75 1014h2.5M441.75 950h2.5M353.75 986h2.5M357.75 1086h2.5M321.75 1058h2.5M327.75 1084h2.5M407.75 960h2.5M303.75 1028h2.5M437.75 1022h2.5M437.75 1050h2.5M401.75 976h2.5M501.75 942h2.5M333.75 1022h2.5M389.75 1004h2.5M467.75 956h2.5M321.75 914h2.5M311.75 1042h2.5M295.75 960h2.5M421.75 970h2.5M321.75 1012h2.5M355.75 1064h2.5M225.75 974h2.5M571.75 964h2.5M227.75 996h2.5M349.75 1044h2.5M287.75 1092h2.5M495.75 990h2.5M377.75 994h2.5M427.75 998h2.5M367.75 1006h2.5M239.75 1082h2.5M461.75 956h2.5M523.75 974h2.5M419.75 1034h2.5M419.75 1032h2.5M405.75 1050h2.5M259.75 1074h2.5M343.75 998h2.5M479.75 984h2.5M503.75 964h2.5M439.75 974h2.5M539.75 964h2.5M319.75 1058h2.5M437.75 1036h2.5M401.75 884h2.5M407.75 1004h2.5M431.75 982h2.5M399.75 1052h2.5M401.75 1008h2.5M311.75 954h2.5M299.75 1054h2.5M417.75 1020h2.5M427.75 1012h2.5M301.75 1032h2.5M447.75 960h2.5M397.75 964h2.5M293.75 1052h2.5M319.75 1024h2.5M485.75 954h2.5M431.75 968h2.5M359.75 932h2.5M305.75 1038h2.5M435.75 960h2.5M487.75 1022h2.5M291.75 1070h2.5M453.75 1036h2.5M415.75 1008h2.5M217.75 1076h2.5M385.75 984h2.5M335.75 922h2.5M369.75 1056h2.5M325.75 1020h2.5M263.75 1016h2.5M195.75 1104h2.5M441.75 972h2.5M561.75 934h2.5M423.75 1036h2.5M391.75 1062h2.5M469.75 1010h2.5M451.75 1022h2.5M511.75 954h2.5M433.75 946h2.5M355.75 1026h2.5M479.75 962h2.5M307.75 1052h2.5M269.75 980h2.5M513.75 944h2.5M295.75 1052h2.5M335.75 1060h2.5M377.75 992h2.5M195.75 1076h2.5M305.75 958h2.5M269.75 912h2.5M313.75 1028h2.5M451.75 950h2.5M463.75 954h2.5M461.75 952h2.5M449.75 936h2.5M465.75 976h2.5M423.75 984h2.5M245.75 1100h2.5M427.75 1030h2.5M219.75 970h2.5M343.75 1006h2.5M409.75 964h2.5M439.75 1046h2.5M479.75 972h2.5M399.75 934h2.5M407.75 1016h2.5M237.75 1090h2.5M483.75 964h2.5M383.75 972h2.5M429.75 962h2.5M291.75 1088h2.5M475.75 946h2.5M397.75 1010h2.5M195.75 1100h2.5M275.75 1084h2.5M301.75 966h2.5M311.75 1044h2.5M427.75 958h2.5M293.75 1056h2.5M519.75 964h2.5M407.75 952h2.5M389.75 1050h2.5M373.75 992h2.5M443.75 1024h2.5M447.75 954h2.5M519.75 1012h2.5M383.75 976h2.5M447.75 952h2.5M251.75 988h2.5M513.75 990h2.5M453.75 942h2.5M453.75 966h2.5M371.75 972h2.5M307.75 1088h2.5M405.75 992h2.5M319.75 1056h2.5M477.75 972h2.5M311.75 958h2.5M553.75 958h2.5M225.75 952h2.5M439.75 986h2.5M467.75 938h2.5M461.75 1006h2.5M417.75 1024h2.5M341.75 914h2.5M233.75 1022h2.5M311.75 1068h2.5M289.75 1074h2.5M367.75 988h2.5M431.75 954h2.5M477.75 936h2.5M371.75 980h2.5M507.75 966h2.5M477.75 1008h2.5M353.75 960h2.5M413.75 982h2.5M417.75 942h2.5M359.75 1048h2.5M403.75 986h2.5M323.75 1002h2.5M473.75 1008h2.5M439.75 1010h2.5M531.75 936h2.5M331.75 1084h2.5M503.75 962h2.5M535.75 958h2.5M265.75 1080h2.5M345.75 1010h2.5M475.75 1010h2.5M403.75 1002h2.5M401.75 912h2.5M349.75 1054h2.5M425.75 978h2.5M319.75 1126h2.5M399.75 970h2.5M495.75 940h2.5M395.75 984h2.5M357.75 1028h2.5M513.75 942h2.5M381.75 994h2.5M439.75 960h2.5M505.75 968h2.5M391.75 1032h2.5M489.75 950h2.5M339.75 946h2.5M237.75 1074h2.5M273.75 1028h2.5M263.75 1066h2.5M495.75 966h2.5M365.75 930h2.5M361.75 1000h2.5M497.75 972h2.5M279.75 1072h2.5M195.75 998h2.5M327.75 1040h2.5M321.75 1102h2.5M365.75 940h2.5M445.75 964h2.5M471.75 1022h2.5M483.75 1000h2.5M193.75 1020h2.5M345.75 1068h2.5M507.75 950h2.5M487.75 978h2.5M329.75 1042h2.5M421.75 1010h2.5M321.75 970h2.5M351.75 1058h2.5M239.75 1114h2.5M433.75 1022h2.5M455.75 980h2.5M517.75 970h2.5M303.75 1078h2.5M557.75 958h2.5M433.75 1068h2.5M357.75 1068h2.5M329.75 1016h2.5M329.75 1002h2.5M283.75 1056h2.5M473.75 948h2.5M359.75 944h2.5M213.75 1046h2.5M389.75 1026h2.5M439.75 1022h2.5M291.75 1056h2.5M337.75 1004h2.5M497.75 978h2.5M413.75 962h2.5M479.75 1024h2.5M427.75 1022h2.5M225.75 1078h2.5M425.75 1028h2.5M499.75 960h2.5M367.75 1030h2.5M471.75 978h2.5M465.75 956h2.5M333.75 934h2.5M501.75 944h2.5M477.75 940h2.5M413.75 956h2.5M367.75 882h2.5M307.75 988h2.5M269.75 924h2.5M325.75 1106h2.5M297.75 1048h2.5M369.75 994h2.5M413.75 954h2.5M347.75 1048h2.5M427.75 1032h2.5M531.75 980h2.5M401.75 1046h2.5M341.75 1052h2.5M269.75 1078h2.5M499.75 1016h2.5M479.75 944h2.5M377.75 996h2.5M387.75 1034h2.5M413.75 986h2.5M211.75 1076h2.5M351.75 1082h2.5M435.75 934h2.5M393.75 980h2.5M463.75 992h2.5M455.75 972h2.5M373.75 1048h2.5M281.75 1072h2.5M407.75 1032h2.5M337.75 986h2.5M383.75 1024h2.5M495.75 952h2.5M385.75 982h2.5M507.75 980h2.5M485.75 982h2.5M307.75 932h2.5M349.75 992h2.5M433.75 984h2.5M439.75 948h2.5M339.75 1090h2.5M429.75 1020h2.5M387.75 1064h2.5M403.75 1038h2.5M477.75 1012h2.5M495.75 936h2.5M341.75 1060h2.5M345.75 974h2.5M385.75 1046h2.5M433.75 1046h2.5M515.75 998h2.5M375.75 974h2.5M325.75 1002h2.5M443.75 964h2.5M363.75 936h2.5M503.75 982h2.5M337.75 990h2.5M469.75 956h2.5M507.75 952h2.5M299.75 1086h2.5M525.75 952h2.5M283.75 906h2.5M307.75 1054h2.5M319.75 1084h2.5M379.75 988h2.5M493.75 1026h2.5M501.75 972h2.5M415.75 1004h2.5M299.75 1042h2.5M303.75 1020h2.5M421.75 1046h2.5M461.75 1010h2.5M385.75 1004h2.5M469.75 996h2.5M413.75 966h2.5M327.75 1066h2.5M351.75 998h2.5M453.75 968h2.5M241.75 1082h2.5M411.75 972h2.5M319.75 1076h2.5M435.75 1050h2.5M395.75 1026h2.5M411.75 990h2.5M517.75 940h2.5M303.75 1058h2.5M365.75 1056h2.5M523.75 948h2.5M483.75 1036h2.5M357.75 926h2.5M383.75 900h2.5M355.75 1050h2.5M449.75 1042h2.5M433.75 1036h2.5M531.75 948h2.5M501.75 966h2.5M513.75 956h2.5M495.75 972h2.5M313.75 1024h2.5M293.75 1050h2.5M315.75 1024h2.5M331.75 890h2.5M511.75 986h2.5M307.75 1082h2.5M487.75 990h2.5M367.75 1038h2.5M333.75 1002h2.5M375.75 1014h2.5M355.75 954h2.5M479.75 990h2.5M361.75 1076h2.5M425.75 998h2.5M355.75 990h2.5M237.75 1068h2.5M311.75 1080h2.5M323.75 1060h2.5M489.75 998h2.5M367.75 998h2.5M419.75 1006h2.5M299.75 1058h2.5M363.75 982h2.5M529.75 970h2.5M435.75 950h2.5M533.75 954h2.5M493.75 994h2.5M559.75 1010h2.5M291.75 1038h2.5M473.75 988h2.5M343.75 1064h2.5M275.75 954h2.5M429.75 950h2.5M403.75 980h2.5M387.75 994h2.5M259.75 1056h2.5M311.75 928h2.5M505.75 950h2.5M301.75 1056h2.5M435.75 954h2.5M339.75 1014h2.5M383.75 978h2.5M333.75 1074h2.5M447.75 982h2.5M357.75 1048h2.5M423.75 968h2.5M389.75 920h2.5M429.75 1018h2.5M243.75 1048h2.5M371.75 900h2.5M413.75 976h2.5M323.75 1056h2.5M485.75 950h2.5M273.75 1058h2.5M489.75 1010h2.5M277.75 1050h2.5M483.75 984h2.5M469.75 960h2.5M519.75 984h2.5M385.75 994h2.5M333.75 940h2.5M525.75 954h2.5M287.75 1100h2.5M385.75 974h2.5M187.75 1110h2.5M393.75 1014h2.5M409.75 990h2.5M519.75 962h2.5M439.75 964h2.5M473.75 942h2.5M453.75 1000h2.5M489.75 1014h2.5M389.75 878h2.5M295.75 1066h2.5M329.75 910h2.5M465.75 938h2.5M475.75 970h2.5M365.75 998h2.5M421.75 976h2.5M373.75 982h2.5M427.75 942h2.5M335.75 1020h2.5M343.75 1042h2.5M491.75 990h2.5M513.75 968h2.5M353.75 1076h2.5M271.75 1082h2.5M421.75 940h2.5M575.75 940h2.5M401.75 960h2.5M353.75 932h2.5M413.75 1046h2.5M327.75 1078h2.5M387.75 1032h2.5M437.75 1020h2.5M319.75 1078h2.5M407.75 1044h2.5M467.75 1022h2.5M369.75 1022h2.5M449.75 1010h2.5M499.75 968h2.5M363.75 980h2.5M269.75 1124h2.5M301.75 1064h2.5M375.75 996h2.5M303.75 1040h2.5M397.75 1050h2.5M187.75 1014h2.5M401.75 1022h2.5M295.75 1056h2.5M299.75 1002h2.5M179.75 1066h2.5M287.75 1072h2.5M397.75 996h2.5M213.75 1094h2.5M349.75 1066h2.5M281.75 1032h2.5M215.75 952h2.5M141.75 1114h2.5M347.75 1028h2.5M383.75 940h2.5M397.75 958h2.5M289.75 1086h2.5M303.75 1054h2.5M383.75 958h2.5M355.75 902h2.5M327.75 1088h2.5M313.75 1072h2.5M387.75 902h2.5M343.75 1038h2.5M389.75 1068h2.5M285.75 1038h2.5M379.75 990h2.5M327.75 990h2.5M317.75 1042h2.5M219.75 1144h2.5M271.75 978h2.5M277.75 1066h2.5M355.75 992h2.5M391.75 1040h2.5M309.75 1048h2.5M351.75 1042h2.5M303.75 1042h2.5M303.75 1066h2.5M307.75 1014h2.5M351.75 1016h2.5M341.75 934h2.5M287.75 976h2.5M375.75 892h2.5M345.75 874h2.5M387.75 908h2.5M391.75 916h2.5M341.75 1080h2.5M271.75 1058h2.5M387.75 978h2.5M307.75 1056h2.5M347.75 1060h2.5M311.75 1060h2.5M313.75 1062h2.5M305.75 1112h2.5M143.75 1056h2.5M353.75 912h2.5M329.75 1004h2.5M347.75 1062h2.5M339.75 998h2.5M293.75 1070h2.5M251.75 914h2.5M313.75 1012h2.5M357.75 1072h2.5M311.75 1040h2.5M365.75 1072h2.5M351.75 1080h2.5M341.75 942h2.5M325.75 1064h2.5M291.75 950h2.5M199.75 1130h2.5M221.75 1082h2.5M323.75 1070h2.5M345.75 1006h2.5M305.75 1074h2.5M395.75 1056h2.5M319.75 1068h2.5M357.75 1000h2.5M335.75 996h2.5M323.75 1012h2.5M253.75 1026h2.5M291.75 1080h2.5M363.75 1050h2.5M245.75 1088h2.5M347.75 944h2.5M375.75 984h2.5M401.75 1028h2.5M387.75 976h2.5M383.75 948h2.5M303.75 1026h2.5M231.75 1040h2.5M217.75 1080h2.5M349.75 1056h2.5M363.75 1062h2.5M329.75 1068h2.5M285.75 1054h2.5M301.75 1110h2.5M287.75 1062h2.5M293.75 1092h2.5M319.75 950h2.5M375.75 1054h2.5M249.75 954h2.5M313.75 1114h2.5M399.75 978h2.5M401.75 1050h2.5M375.75 1032h2.5M317.75 1014h2.5M401.75 1002h2.5M371.75 978h2.5M289.75 952h2.5M289.75 1050h2.5M235.75 952h2.5M185.75 1046h2.5M369.75 978h2.5M263.75 1006h2.5M279.75 1060h2.5M279.75 1080h2.5M243.75 1076h2.5M375.75 1074h2.5M239.75 1070h2.5M269.75 948h2.5M263.75 1056h2.5M235.75 1062h2.5M337.75 1056h2.5M329.75 1014h2.5M299.75 1036h2.5M359.75 1058h2.5M361.75 1054h2.5M225.75 1132h2.5M355.75 1072h2.5M391.75 1050h2.5M331.75 1010h2.5M287.75 1048h2.5M399.75 1058h2.5M351.75 1062h2.5M321.75 1082h2.5M293.75 1066h2.5M371.75 1052h2.5M273.75 1038h2.5" stroke="#0000ff" stroke-width="2.5" transform="translate(0,1.25)"/>
<path d="M457.75 968h2.5M321.75 1066h2.5M493.75 962h2.5M379.75 1008h2.5M323.75 1048h2.5M437.75 994h2.5M487.75 960h2.5M467.75 1012h2.5M415.75 986h2.5M465.75 962h2.5M327.75 1050h2.5M441.75 984h2.5M463.75 972h2.5M411.75 1012h2.5M363.75 998h2.5M477.75 966h2.5M343.75 1008h2.5M361.75 1046h2.5M439.75 972h2.5M393.75 1006h2.5M473.75 980h2.5M367.75 1042h2.5M423.75 1022h2.5M357.75 1020h2.5M357.75 1026h2.5M347.75 1002h2.5M353.75 1036h2.5M457.75 988h2.5M331.75 1032h2.5M407.75 992h2.5M321.75 1068h2.5M409.75 972h2.5M411.75 1020h2.5M509.75 970h2.5M303.75 1046h2.5M447.75 992h2.5M393.75 994h2.5M449.75 972h2.5M357.75 1010h2.5M437.75 966h2.5M385.75 990h2.5M421.75 1014h2.5M495.75 976h2.5M465.75 978h2.5M391.75 996h2.5M455.75 960h2.5M345.75 1034h2.5M359.75 1008h2.5M411.75 1002h2.5M379.75 1040h2.5M499.75 972h2.5M393.75 1002h2.5M411.75 988h2.5M315.75 1066h2.5M429.75 1004h2.5M351.75 1050h2.5M403.75 1008h2.5M397.75 1016h2.5M463.75 980h2.5M373.75 1018h2.5M369.75 1042h2.5M391.75 1008h2.5M399.75 1016h2.5M443.75 986h2.5M441.75 990h2.5M457.75 980h2.5M391.75 1016h2.5M349.75 1048h2.5M371.75 994h2.5M437.75 978h2.5M467.75 992h2.5M401.75 990h2.5M309.75 1062h2.5M381.75 1016h2.5M395.75 1024h2.5M457.75 960h2.5M389.75 1014h2.5M469.75 982h2.5M397.75 992h2.5M365.75 996h2.5M377.75 1014h2.5M387.75 980h2.5M467.75 966h2.5M361.75 1034h2.5M461.75 968h2.5M315.75 1056h2.5M453.75 994h2.5M351.75 1002h2.5M463.75 982h2.5M347.75 1046h2.5M399.75 1008h2.5M429.75 970h2.5M481.75 966h2.5M449.75 990h2.5M333.75 1040h2.5M403.75 996h2.5M377.75 1044h2.5M391.75 1012h2.5M431.75 972h2.5M401.75 1014h2.5M461.75 970h2.5M347.75 1004h2.5M397.75 1020h2.5M397.75 1026h2.5M405.75 984h2.5M473.75 970h2.5M451.75 990h2.5M391.75 1000h2.5M427.75 1010h2.5M423.75 1026h2.5M381.75 1006h2.5M437.75 974h2.5M331.75 1004h2.5M317.75 1046h2.5M385.75 1042h2.5M425.75 1016h2.5M437.75 980h2.5M329.75 1028h2.5M407.75 982h2.5M401.75 1024h2.5M317.75 1052h2.5M505.75 984h2.5M329.75 1064h2.5M451.75 998h2.5M349.75 1034h2.5M441.75 986h2.5M399.75 992h2.5M417.75 980h2.5M363.75 1008h2.5M431.75 980h2.5M311.75 1034h2.5M367.75 1034h2.5M333.75 1008h2.5M375.75 1008h2.5M387.75 1020h2.5M363.75 1014h2.5M309.75 1060h2.5M323.75 1066h2.5M345.75 998h2.5M491.75 960h2.5M387.75 1018h2.5M449.75 1002h2.5M407.75 1006h2.5M503.75 968h2.5M443.75 1010h2.5M345.75 1060h2.5M467.75 980h2.5M333.75 1070h2.5M439.75 1008h2.5M403.75 1050h2.5M385.75 1028h2.5M415.75 990h2.5M387.75 996h2.5M365.75 1032h2.5M503.75 976h2.5M367.75 1032h2.5M419.75 1016h2.5M437.75 1004h2.5M487.75 946h2.5M421.75 1026h2.5M427.75 994h2.5M483.75 968h2.5M333.75 1048h2.5M327.75 1032h2.5M437.75 1012h2.5M349.75 1038h2.5M371.75 1040h2.5M427.75 1020h2.5M421.75 998h2.5M441.75 998h2.5M339.75 1022h2.5M427.75 970h2.5M385.75 1006h2.5M365.75 1012h2.5M363.75 1012h2.5M331.75 1064h2.5M415.75 1010h2.5M327.75 1020h2.5M425.75 1034h2.5M371.75 1008h2.5M423.75 990h2.5M427.75 1002h2.5M343.75 1044h2.5M377.75 998h2.5M397.75 1034h2.5M387.75 988h2.5M435.75 970h2.5M329.75 1050h2.5M387.75 1000h2.5M365.75 1002h2.5M353.75 1024h2.5M443.75 978h2.5M423.75 1004h2.5M351.75 1018h2.5M399.75 988h2.5M375.75 1036h2.5M431.75 1004h2.5M463.75 966h2.5M309.75 1042h2.5M377.75 1032h2.5M465.75 986h2.5M369.75 988h2.5M465.75 964h2.5M471.75 970h2.5M383.75 1016h2.5M431.75 984h2.5M417.75 1010h2.5M435.75 996h2.5M445.75 996h2.5M349.75 1036h2.5M431.75 998h2.5M355.75 1028h2.5M463.75 964h2.5M359.75 1018h2.5M405.75 1014h2.5M401.75 1016h2.5M391.75 1036h2.5M343.75 1028h2.5M339.75 1026h2.5M345.75 1036h2.5M483.75 982h2.5M345.75 1038h2.5M485.75 986h2.5M485.75 984h2.5M333.75 1052h2.5M337.75 1022h2.5M441.75 996h2.5M463.75 1002h2.5M359.75 1012h2.5M421.75 984h2.5M491.75 962h2.5M405.75 998h2.5M425.75 1030h2.5M411.75 1010h2.5M329.75 1036h2.5M409.75 1020h2.5M459.75 960h2.5M333.75 1042h2.5M333.75 1034h2.5M455.75 958h2.5M469.75 966h2.5M393.75 1024h2.5M371.75 1022h2.5M429.75 1016h2.5M423.75 1006h2.5M361.75 1018h2.5M309.75 1038h2.5M331.75 1048h2.5M351.75 1054h2.5M433.75 966h2.5M397.75 1002h2.5M347.75 1042h2.5M401.75 1020h2.5M499.75 974h2.5M487.75 966h2.5M371.75 1016h2.5M485.75 966h2.5M487.75 964h2.5M357.75 1044h2.5M361.75 1032h2.5M337.75 1024h2.5M399.75 1012h2.5M451.75 1002h2.5M441.75 1006h2.5M421.75 1006h2.5M461.75 962h2.5M445.75 988h2.5M335.75 1030h2.5M385.75 1034h2.5M431.75 1000h2.5M445.75 992h2.5M457.75 982h2.5M403.75 1000h2.5M409.75 1018h2.5M445.75 976h2.5M437.75 1018h2.5M395.75 1038h2.5M483.75 980h2.5M415.75 984h2.5M411.75 974h2.5M419.75 976h2.5M381.75 1024h2.5M325.75 1046h2.5M437.75 992h2.5M369.75 1030h2.5M363.75 1022h2.5M475.75 982h2.5M401.75 1006h2.5M389.75 1036h2.5M463.75 974h2.5M459.75 956h2.5M351.75 1008h2.5M331.75 1034h2.5M441.75 966h2.5M417.75 1032h2.5M421.75 1018h2.5M441.75 1018h2.5M391.75 1024h2.5M385.75 1016h2.5M383.75 1014h2.5M427.75 996h2.5M371.75 1030h2.5M401.75 988h2.5M427.75 1016h2.5M327.75 1046h2.5M399.75 1036h2.5M443.75 1000h2.5M357.75 1016h2.5M463.75 1000h2.5M423.75 994h2.5M325.75 1048h2.5M379.75 1000h2.5M407.75 1030h2.5M447.75 996h2.5M331.75 1028h2.5M485.75 960h2.5M461.75 972h2.5M431.75 990h2.5M493.75 974h2.5M419.75 982h2.5M413.75 996h2.5M331.75 1054h2.5M331.75 1072h2.5M433.75 1010h2.5M337.75 1054h2.5M379.75 1014h2.5M373.75 1034h2.5M361.75 1010h2.5M411.75 1004h2.5M373.75 1016h2.5M451.75 982h2.5M381.75 1014h2.5M335.75 1052h2.5M331.75 1044h2.5M337.75 1050h2.5M335.75 1024h2.5M381.75 1028h2.5M419.75 1012h2.5M367.75 1008h2.5M415.75 992h2.5M447.75 974h2.5M361.75 1038h2.5M363.75 1018h2.5M469.75 992h2.5M471.75 982h2.5M441.75 1010h2.5M305.75 1030h2.5M429.75 1002h2.5M375.75 1020h2.5M407.75 1020h2.5M427.75 974h2.5M439.75 1024h2.5M371.75 1058h2.5M347.75 1018h2.5M353.75 1046h2.5M341.75 1050h2.5M385.75 1014h2.5M465.75 960h2.5M493.75 964h2.5M475.75 980h2.5M315.75 1050h2.5M327.75 1056h2.5M377.75 1046h2.5M353.75 1050h2.5M405.75 990h2.5M389.75 1012h2.5M463.75 960h2.5M319.75 1060h2.5M389.75 1000h2.5M327.75 1044h2.5M427.75 1008h2.5M405.75 1026h2.5M509.75 948h2.5M389.75 980h2.5M409.75 1026h2.5M401.75 1012h2.5M451.75 968h2.5M351.75 1028h2.5M453.75 960h2.5M391.75 1018h2.5M443.75 968h2.5M423.75 986h2.5M355.75 1044h2.5M357.75 1040h2.5M389.75 1016h2.5M379.75 1036h2.5M443.75 972h2.5M329.75 1026h2.5M351.75 1020h2.5M431.75 1002h2.5M419.75 1024h2.5M463.75 1012h2.5M355.75 1030h2.5M369.75 990h2.5M445.75 982h2.5M471.75 984h2.5M363.75 1002h2.5M415.75 1012h2.5M425.75 980h2.5M375.75 1010h2.5M475.75 958h2.5M455.75 978h2.5M481.75 982h2.5M373.75 986h2.5M363.75 1016h2.5M417.75 988h2.5M361.75 1024h2.5M423.75 1018h2.5M415.75 1020h2.5M381.75 986h2.5M345.75 1054h2.5M389.75 996h2.5M415.75 994h2.5M377.75 1018h2.5M359.75 1020h2.5M441.75 978h2.5M451.75 974h2.5M429.75 1012h2.5M397.75 1004h2.5M501.75 940h2.5M453.75 996h2.5M373.75 1054h2.5M375.75 1002h2.5M433.75 980h2.5M353.75 1006h2.5M375.75 1044h2.5M303.75 1048h2.5M407.75 1008h2.5M341.75 1034h2.5M365.75 1022h2.5M443.75 970h2.5M395.75 1020h2.5M413.75 1000h2.5M449.75 960h2.5M385.75 1020h2.5M389.75 1006h2.5M315.75 1042h2.5M343.75 1036h2.5M445.75 980h2.5M453.75 1004h2.5M421.75 1030h2.5M327.75 1026h2.5M417.75 994h2.5M449.75 968h2.5M423.75 998h2.5M383.75 1010h2.5M395.75 1022h2.5M391.75 986h2.5M433.75 1008h2.5M333.75 1018h2.5M433.75 996h2.5M375.75 1004h2.5M319.75 1044h2.5M399.75 1000h2.5M479.75 964h2.5M377.75 1008h2.5M463.75 978h2.5M413.75 974h2.5M337.75 1046h2.5M433.75 970h2.5M333.75 1026h2.5M367.75 978h2.5M321.75 1018h2.5M451.75 948h2.5M399.75 1040h2.5M323.75 1038h2.5M391.75 982h2.5M427.75 980h2.5M407.75 978h2.5M381.75 1038h2.5M455.75 974h2.5M483.75 948h2.5M355.75 1024h2.5M427.75 988h2.5M367.75 1004h2.5M413.75 1014h2.5M427.75 1004h2.5M379.75 1032h2.5M371.75 1028h2.5M439.75 966h2.5M397.75 986h2.5M393.75 1004h2.5M461.75 988h2.5M307.75 1030h2.5M385.75 1030h2.5M445.75 978h2.5M461.75 974h2.5M365.75 1038h2.5M487.75 968h2.5M463.75 962h2.5M327.75 1048h2.5M389.75 1022h2.5M375.75 1024h2.5M353.75 1032h2.5M369.75 1004h2.5M381.75 1010h2.5M459.75 980h2.5M441.75 976h2.5M439.75 1006h2.5M323.75 1052h2.5M313.75 1070h2.5M359.75 1044h2.5M359.75 1042h2.5M333.75 1024h2.5M393.75 1008h2.5M417.75 1014h2.5M459.75 990h2.5M501.75 954h2.5M491.75 954h2.5M447.75 972h2.5M339.75 1030h2.5M493.75 934h2.5M365.75 1034h2.5M341.75 1056h2.5M451.75 970h2.5M347.75 1030h2.5M371.75 996h2.5M341.75 1028h2.5M325.75 1050h2.5M431.75 970h2.5M473.75 952h2.5M339.75 1052h2.5M301.75 1058h2.5M359.75 1024h2.5M479.75 978h2.5M417.75 990h2.5M461.75 1000h2.5M325.75 1028h2.5M345.75 1026h2.5M333.75 1032h2.5M421.75 1032h2.5M355.75 1012h2.5M403.75 998h2.5M405.75 980h2.5M351.75 1048h2.5M331.75 1038h2.5M355.75 1032h2.5M373.75 1010h2.5M379.75 1022h2.5M393.75 1022h2.5M333.75 1056h2.5M391.75 990h2.5M421.75 996h2.5M425.75 986h2.5M339.75 1056h2.5M395.75 1002h2.5M427.75 1000h2.5M395.75 1014h2.5M299.75 1074h2.5M495.75 970h2.5M435.75 1010h2.5M423.75 1010h2.5M435.75 992h2.5M403.75 1014h2.5M365.75 1004h2.5M427.75 986h2.5M353.75 1026h2.5M329.75 1040h2.5M435.75 1012h2.5M443.75 1004h2.5M339.75 1028h2.5M395.75 1030h2.5M447.75 986h2.5M367.75 1002h2.5M321.75 1052h2.5M403.75 992h2.5M389.75 1034h2.5M369.75 1012h2.5M363.75 1042h2.5M417.75 1028h2.5M345.75 1052h2.5M447.75 994h2.5M497.75 974h2.5M447.75 1014h2.5M467.75 952h2.5M511.75 966h2.5M381.75 1036h2.5M389.75 1032h2.5M389.75 998h2.5M409.75 996h2.5M451.75 976h2.5M421.75 1022h2.5M339.75 1038h2.5M339.75 1024h2.5M367.75 1044h2.5M505.75 952h2.5M491.75 974h2.5M491.75 982h2.5M377.75 1042h2.5M439.75 982h2.5M337.75 1044h2.5M391.75 1034h2.5M347.75 1044h2.5M429.75 1008h2.5M341.75 1038h2.5M329.75 1070h2.5M421.75 1012h2.5M365.75 1008h2.5M427.75 992h2.5M363.75 1010h2.5M335.75 1038h2.5M425.75 1014h2.5M313.75 1066h2.5M453.75 990h2.5M409.75 1014h2.5M363.75 988h2.5M411.75 976h2.5M393.75 1000h2.5M323.75 1040h2.5M445.75 970h2.5M419.75 1026h2.5M355.75 1040h2.5M343.75 1014h2.5M317.75 1030h2.5M413.75 1028h2.5M423.75 992h2.5M385.75 1022h2.5M379.75 1034h2.5M335.75 1056h2.5M455.75 1002h2.5M451.75 992h2.5M403.75 1006h2.5M365.75 1030h2.5M475.75 986h2.5M435.75 972h2.5M369.75 1040h2.5M375.75 1040h2.5M417.75 972h2.5M339.75 1006h2.5M353.75 1038h2.5M503.75 954h2.5M377.75 1024h2.5M439.75 994h2.5M353.75 1030h2.5M393.75 990h2.5M435.75 966h2.5M329.75 1038h2.5M343.75 1022h2.5M461.75 992h2.5M347.75 1052h2.5M389.75 1040h2.5M469.75 976h2.5M431.75 986h2.5M435.75 980h2.5M371.75 1012h2.5M353.75 1034h2.5M329.75 1062h2.5M433.75 1016h2.5M331.75 1026h2.5M335.75 1042h2.5M355.75 1006h2.5M465.75 988h2.5M433.75 994h2.5M459.75 972h2.5M397.75 998h2.5M475.75 966h2.5M369.75 1026h2.5M407.75 986h2.5M431.75 1010h2.5M419.75 978h2.5M327.75 1022h2.5M419.75 1002h2.5M467.75 958h2.5M373.75 1030h2.5M375.75 988h2.5M407.75 1018h2.5M467.75 976h2.5M441.75 1000h2.5M327.75 1036h2.5M435.75 988h2.5M419.75 992h2.5M387.75 990h2.5M425.75 1010h2.5M469.75 1000h2.5M463.75 1006h2.5M389.75 1018h2.5M391.75 1006h2.5M509.75 966h2.5M361.75 992h2.5M323.75 1030h2.5M485.75 968h2.5M321.75 1036h2.5M421.75 994h2.5M481.75 970h2.5M413.75 1026h2.5M407.75 1022h2.5M451.75 966h2.5M455.75 992h2.5M351.75 1010h2.5M407.75 994h2.5M463.75 976h2.5M481.75 978h2.5M349.75 1028h2.5M357.75 1036h2.5M331.75 1020h2.5M315.75 1060h2.5M357.75 1018h2.5M391.75 1020h2.5M483.75 978h2.5M369.75 1024h2.5M489.75 976h2.5M455.75 964h2.5M363.75 1036h2.5M343.75 1050h2.5M449.75 962h2.5M353.75 1014h2.5M361.75 1050h2.5M365.75 1050h2.5M411.75 1006h2.5M321.75 1030h2.5M327.75 1028h2.5M409.75 1028h2.5M387.75 1002h2.5M315.75 1052h2.5M369.75 1008h2.5M377.75 1010h2.5M409.75 1008h2.5M357.75 1012h2.5M425.75 988h2.5M443.75 988h2.5M327.75 1024h2.5M345.75 1022h2.5M469.75 954h2.5M383.75 982h2.5M361.75 1026h2.5M473.75 972h2.5M445.75 974h2.5M401.75 982h2.5M327.75 1030h2.5M409.75 998h2.5M373.75 1026h2.5M395.75 998h2.5M301.75 1066h2.5M489.75 978h2.5M375.75 994h2.5M383.75 1004h2.5M457.75 976h2.5M341.75 1014h2.5M345.75 1018h2.5M425.75 992h2.5M441.75 970h2.5M389.75 1044h2.5M443.75 980h2.5M333.75 1006h2.5M305.75 1058h2.5M383.75 990h2.5M439.75 968h2.5M321.75 1016h2.5M439.75 976h2.5M345.75 1024h2.5M373.75 1056h2.5M397.75 990h2.5M423.75 1030h2.5M401.75 1036h2.5M469.75 980h2.5M329.75 1044h2.5M375.75 1056h2.5M365.75 1010h2.5M349.75 1012h2.5M473.75 994h2.5M369.75 982h2.5M319.75 1032h2.5M371.75 1026h2.5M429.75 972h2.5M487.75 976h2.5M341.75 1048h2.5M379.75 1030h2.5M301.75 1062h2.5M433.75 1006h2.5M401.75 974h2.5M383.75 1044h2.5M371.75 1000h2.5M399.75 980h2.5M347.75 1034h2.5M411.75 986h2.5M411.75 968h2.5M331.75 1030h2.5M433.75 976h2.5M363.75 996h2.5M427.75 1014h2.5M489.75 970h2.5M405.75 1028h2.5M335.75 1048h2.5M407.75 1014h2.5M301.75 1076h2.5M401.75 992h2.5M385.75 1024h2.5M461.75 984h2.5M421.75 1000h2.5M373.75 1008h2.5M341.75 1044h2.5M407.75 996h2.5M433.75 1020h2.5M405.75 986h2.5M365.75 1018h2.5M367.75 1026h2.5M393.75 1016h2.5M345.75 1004h2.5M317.75 1054h2.5M343.75 1032h2.5M437.75 990h2.5M467.75 986h2.5M435.75 998h2.5M367.75 990h2.5M455.75 998h2.5M357.75 1042h2.5M349.75 1042h2.5M443.75 996h2.5M337.75 1036h2.5M459.75 970h2.5M347.75 1066h2.5M311.75 1064h2.5M439.75 992h2.5M405.75 1002h2.5M321.75 1046h2.5M373.75 998h2.5M423.75 996h2.5M497.75 970h2.5M347.75 1054h2.5M425.75 1020h2.5M365.75 1016h2.5M347.75 1026h2.5M425.75 1012h2.5M491.75 976h2.5M315.75 1064h2.5M451.75 1000h2.5M385.75 1036h2.5M403.75 1024h2.5M383.75 992h2.5M447.75 968h2.5M381.75 992h2.5M313.75 1056h2.5M309.75 1032h2.5M347.75 1038h2.5M371.75 1036h2.5M385.75 992h2.5M361.75 1042h2.5M507.75 956h2.5M379.75 1048h2.5M381.75 1034h2.5M415.75 988h2.5M333.75 1028h2.5M403.75 978h2.5M389.75 1002h2.5M369.75 1034h2.5M337.75 1052h2.5M459.75 962h2.5M397.75 1000h2.5M455.75 962h2.5M341.75 1026h2.5M435.75 982h2.5M431.75 976h2.5M329.75 1020h2.5M389.75 1038h2.5M423.75 1016h2.5M325.75 1022h2.5M355.75 1054h2.5M433.75 1014h2.5M397.75 1038h2.5M423.75 1028h2.5M323.75 1050h2.5M345.75 1058h2.5M319.75 1052h2.5M319.75 1028h2.5M417.75 1026h2.5M381.75 1040h2.5M311.75 1066h2.5M393.75 1040h2.5M353.75 1028h2.5M359.75 1038h2.5M375.75 1022h2.5M389.75 986h2.5M373.75 1004h2.5M357.75 1032h2.5M321.75 1044h2.5M371.75 1002h2.5M313.75 1026h2.5M375.75 998h2.5M383.75 1030h2.5M363.75 1020h2.5M375.75 1030h2.5M379.75 1012h2.5M365.75 1036h2.5M371.75 998h2.5M337.75 1032h2.5M357.75 1038h2.5M317.75 1056h2.5M395.75 1000h2.5M365.75 1040h2.5M391.75 988h2.5M365.75 994h2.5M357.75 1060h2.5M315.75 1046h2.5M385.75 1050h2.5M317.75 1038h2.5M327.75 1068h2.5M401.75 1040h2.5M395.75 976h2.5M333.75 1068h2.5M391.75 980h2.5M373.75 1012h2.5M391.75 1038h2.5M381.75 1046h2.5M343.75 1048h2.5M309.75 1056h2.5M401.75 996h2.5M315.75 1054h2.5M307.75 1064h2.5M371.75 990h2.5M369.75 1048h2.5M343.75 1058h2.5M353.75 1042h2.5M333.75 1030h2.5M319.75 1046h2.5M385.75 1038h2.5M377.75 1012h2.5M387.75 1022h2.5M339.75 1064h2.5" stroke="#8cf064" stroke-width="2.5" transform="translate(0,1.25)"/>
<path d="M363.75 1026h2.5M429.75 1006h2.5M399.75 994h2.5M415.75 996h2.5M403.75 1004h2.5M359.75 1030h2.5M373.75 1022h2.5M331.75 1050h2.5M425.75 1000h2.5M361.75 1014h2.5M401.75 1018h2.5M387.75 1010h2.5M399.75 1026h2.5M419.75 998h2.5M411.75 998h2.5M317.75 1044h2.5M363.75 1032h2.5M341.75 1032h2.5M409.75 1000h2.5M363.75 1044h2.5M387.75 1028h2.5M389.75 992h2.5M379.75 1028h2.5M349.75 1024h2.5M341.75 1020h2.5M359.75 1016h2.5M359.75 1022h2.5M413.75 1004h2.5M317.75 1050h2.5M341.75 1022h2.5M381.75 1030h2.5M393.75 1018h2.5M323.75 1042h2.5M461.75 976h2.5M331.75 1052h2.5M467.75 982h2.5M395.75 1010h2.5M351.75 1034h2.5M379.75 1004h2.5M385.75 1010h2.5M375.75 1026h2.5M337.75 1028h2.5M469.75 974h2.5M437.75 996h2.5M455.75 976h2.5M411.75 1000h2.5M459.75 974h2.5M477.75 968h2.5M403.75 1020h2.5M457.75 966h2.5M405.75 1004h2.5M349.75 1030h2.5M379.75 998h2.5M395.75 1008h2.5M387.75 986h2.5M363.75 1024h2.5M347.75 1056h2.5M369.75 1014h2.5M325.75 1044h2.5M459.75 986h2.5M391.75 998h2.5M325.75 1038h2.5M339.75 1044h2.5M421.75 1002h2.5M467.75 960h2.5M385.75 1026h2.5M401.75 994h2.5M321.75 1042h2.5M361.75 1008h2.5M365.75 1026h2.5M413.75 1010h2.5M403.75 990h2.5M337.75 1048h2.5M391.75 992h2.5M445.75 966h2.5M429.75 998h2.5M373.75 1038h2.5M401.75 998h2.5M383.75 1012h2.5M369.75 1036h2.5M379.75 1006h2.5M445.75 994h2.5M335.75 1046h2.5M363.75 1030h2.5M435.75 1002h2.5M425.75 1006h2.5M389.75 1020h2.5M455.75 970h2.5M337.75 1038h2.5M403.75 1018h2.5M373.75 1032h2.5M465.75 982h2.5M411.75 1014h2.5M391.75 1014h2.5M413.75 1002h2.5M373.75 1024h2.5M437.75 986h2.5M393.75 1026h2.5M441.75 994h2.5M321.75 1038h2.5M457.75 974h2.5M353.75 1018h2.5M411.75 1008h2.5M347.75 1040h2.5M323.75 1036h2.5M387.75 1016h2.5M423.75 1002h2.5M373.75 1040h2.5M375.75 1038h2.5M467.75 974h2.5M367.75 1016h2.5M333.75 1020h2.5M407.75 1024h2.5M373.75 994h2.5M341.75 1036h2.5M415.75 1000h2.5M483.75 962h2.5M439.75 1000h2.5M365.75 1020h2.5M339.75 1032h2.5M333.75 1050h2.5M385.75 1002h2.5M395.75 994h2.5M341.75 1024h2.5M387.75 1024h2.5M335.75 1050h2.5" stroke="#ffff20" stroke-width="2.5" transform="translate(0,1.25)"/>
<path d="M443.75 976h2.5M377.75 1020h2.5M367.75 1010h2.5M323.75 1044h2.5M365.75 1046h2.5M447.75 978h2.5M439.75 998h2.5M399.75 998h2.5M393.75 1012h2.5M437.75 1000h2.5M409.75 1012h2.5M367.75 1024h2.5M379.75 1020h2.5M397.75 1012h2.5M397.75 1006h2.5M433.75 988h2.5M377.75 1038h2.5M379.75 1024h2.5M339.75 1040h2.5M383.75 1006h2.5M433.75 998h2.5M409.75 1010h2.5M457.75 984h2.5M359.75 1034h2.5M385.75 1008h2.5M405.75 1000h2.5M437.75 972h2.5M441.75 980h2.5M447.75 998h2.5M351.75 1044h2.5M377.75 1016h2.5M351.75 1030h2.5M399.75 990h2.5M335.75 1040h2.5M399.75 1014h2.5M433.75 1002h2.5M453.75 980h2.5M389.75 1010h2.5M345.75 1048h2.5M375.75 1006h2.5M349.75 1032h2.5M331.75 1070h2.5M447.75 990h2.5M427.75 990h2.5M461.75 990h2.5M383.75 1028h2.5M445.75 990h2.5M349.75 1050h2.5M377.75 1036h2.5M333.75 1036h2.5M411.75 1016h2.5M335.75 1026h2.5M465.75 980h2.5M339.75 1042h2.5M381.75 1032h2.5M399.75 1004h2.5M327.75 1038h2.5M393.75 992h2.5M463.75 986h2.5M359.75 1014h2.5M383.75 1008h2.5M403.75 1022h2.5M423.75 1012h2.5M447.75 976h2.5M355.75 1010h2.5M375.75 1012h2.5M429.75 986h2.5M377.75 1000h2.5M371.75 1010h2.5M389.75 994h2.5M391.75 994h2.5M345.75 1028h2.5M363.75 1040h2.5M441.75 974h2.5M355.75 1016h2.5M399.75 1002h2.5M373.75 1000h2.5M453.75 978h2.5M393.75 996h2.5M385.75 998h2.5M369.75 1032h2.5M389.75 990h2.5M363.75 1038h2.5M355.75 1020h2.5M367.75 1036h2.5M331.75 1036h2.5M397.75 1024h2.5M377.75 1030h2.5M357.75 1024h2.5M365.75 1014h2.5M351.75 1032h2.5M367.75 1028h2.5" stroke="#f06018" stroke-width="2.5" transform="translate(0,1.25)"/>
<path d="M150.6 1166.7h2M165.5 1166.7h2M173.5 1166.7h2M185.8 1166.7h2M190.3 1166.7h2M214.2 1166.7h2M214.3 1166.7h2M222.4 1166.7h2M256.6 1166.7h2M264.1 1166.7h2M271.5 1166.7h2M293.8 1166.7h2M294.3 1166.7h2M313.3 1166.7h2" stroke="#0000ff" stroke-width="1.8"/>
<path d="M125.9 1132.7H127.9M166.5 1168.3V1173.8M125.9 1111.8H127.9M189.0 1168.3V1173.8M125.9 1097.0H127.9M205.0 1168.3V1173.8M125.9 1076.2H127.9M227.6 1168.3V1173.8M125.9 1068.3H127.9M236.2 1168.3V1173.8M125.9 1061.4H127.9M243.6 1168.3V1173.8M125.9 1055.4H127.9M250.1 1168.3V1173.8M125.9 1014.3H127.9M294.6 1168.3V1173.8M125.9 993.5H127.9M317.1 1168.3V1173.8M125.9 978.7H127.9M333.1 1168.3V1173.8M125.9 957.9H127.9M355.7 1168.3V1173.8M125.9 949.9H127.9M364.3 1168.3V1173.8M125.9 943.1H127.9M371.7 1168.3V1173.8M125.9 937.0H127.9M378.2 1168.3V1173.8M125.9 896.0H127.9M422.7 1168.3V1173.8M125.9 875.1H127.9M445.2 1168.3V1173.8M125.9 860.3H127.9M461.2 1168.3V1173.8M125.9 839.5H127.9M483.8 1168.3V1173.8M125.9 831.6H127.9M492.4 1168.3V1173.8M125.9 824.7H127.9M499.8 1168.3V1173.8M125.9 818.7H127.9M506.3 1168.3V1173.8M125.9 777.6H127.9M550.8 1168.3V1173.8M125.9 756.8H127.9M573.3 1168.3V1173.8M125.9 742.0H127.9M589.3 1168.3V1173.8M125.9 721.2H127.9M611.9 1168.3V1173.8M125.9 713.2H127.9M620.5 1168.3V1173.8M125.9 706.4H127.9M627.9 1168.3V1173.8M125.9 700.3H127.9M634.4 1168.3V1173.8" stroke="#222" stroke-width="1.8" fill="none"/><path d="M125.4 1168.3H127.9M127.9 1168.3V1178.3M125.9 1085.6H127.9M217.4 1168.3V1175.3M125.4 1050.0H127.9M256.0 1168.3V1178.3M125.9 967.2H127.9M345.5 1168.3V1175.3M125.4 931.6H127.9M384.1 1168.3V1178.3M125.9 848.9H127.9M473.6 1168.3V1175.3M125.4 813.2H127.9M512.2 1168.3V1178.3M125.9 730.5H127.9M601.7 1168.3V1175.3M125.4 694.9H127.9M640.3 1168.3V1178.3" stroke="#222" stroke-width="2.6" fill="none"/><path d="M127.9 935.5H640.3M404.1 694.9V1168.3" stroke="#000" stroke-width="2.5" fill="none"/>
<rect x="767.3" y="695.0" width="5.50" height="494.30" fill="#efefef"/>
<rect x="767.3" y="1176.6" width="534.70" height="12.70" fill="#efefef"/>
<rect x="767.3" y="695.0" width="534.70" height="3.70" fill="#efefef"/>
<rect x="1291.3" y="695.0" width="10.70" height="494.30" fill="#efefef"/>
<rect x="772.8" y="698.7" width="518.50" height="477.90" fill="#fff" stroke="#222" stroke-width="1.7"/>
<path d="M1141.75 984h2.5M1139.75 958h2.5M1089.75 978h2.5M1141.75 960h2.5M1051.75 996h2.5M1021.75 984h2.5M961.75 972h2.5M1113.75 942h2.5M1107.75 1016h2.5M1121.75 980h2.5M1021.75 1042h2.5M907.75 990h2.5M1055.75 1020h2.5M1067.75 1004h2.5M1143.75 990h2.5M1039.75 988h2.5M1015.75 1056h2.5M927.75 970h2.5M1145.75 960h2.5M1091.75 1006h2.5M1183.75 928h2.5M1109.75 1020h2.5M1151.75 968h2.5M1055.75 1000h2.5M1167.75 954h2.5M925.75 1050h2.5M889.75 1052h2.5M1049.75 1000h2.5M1111.75 966h2.5M1107.75 1012h2.5M1095.75 1006h2.5M1125.75 980h2.5M865.75 978h2.5M1049.75 1024h2.5M1063.75 1048h2.5M945.75 992h2.5M1059.75 978h2.5M1077.75 946h2.5M1045.75 988h2.5M1071.75 982h2.5M997.75 1020h2.5M1163.75 948h2.5M1067.75 1024h2.5M1141.75 978h2.5M1105.75 954h2.5M1065.75 952h2.5M1061.75 1020h2.5M1003.75 922h2.5M1109.75 952h2.5M1015.75 1066h2.5M1131.75 962h2.5M1141.75 970h2.5M859.75 980h2.5M855.75 1108h2.5M1045.75 990h2.5M967.75 1032h2.5M1071.75 1014h2.5M1063.75 968h2.5M1147.75 948h2.5M913.75 1088h2.5M1059.75 1036h2.5M1119.75 968h2.5M1121.75 948h2.5M1131.75 972h2.5M1205.75 928h2.5M1047.75 990h2.5M1053.75 1030h2.5M1075.75 1034h2.5M1001.75 1048h2.5M1161.75 952h2.5M1163.75 944h2.5M1187.75 952h2.5M1183.75 964h2.5M1131.75 982h2.5M1143.75 996h2.5M963.75 1052h2.5M1059.75 970h2.5M1043.75 1006h2.5M1091.75 1016h2.5M1043.75 966h2.5M1139.75 972h2.5M1025.75 1044h2.5M1011.75 1062h2.5M1045.75 1058h2.5M1141.75 992h2.5M1101.75 962h2.5M1175.75 986h2.5M1087.75 990h2.5M1143.75 972h2.5M1041.75 1030h2.5M1145.75 880h2.5M1063.75 1030h2.5M967.75 974h2.5M963.75 1058h2.5M891.75 1070h2.5M1183.75 980h2.5M983.75 1062h2.5M935.75 1020h2.5M961.75 1014h2.5M1153.75 984h2.5M1103.75 934h2.5M1055.75 976h2.5M1093.75 928h2.5M969.75 1046h2.5M1107.75 998h2.5M1057.75 1002h2.5M1105.75 988h2.5M1039.75 1058h2.5M1115.75 960h2.5M1115.75 998h2.5M1117.75 958h2.5M1113.75 1004h2.5M1061.75 994h2.5M1057.75 970h2.5M1083.75 1020h2.5M977.75 1004h2.5M949.75 1022h2.5M1053.75 1024h2.5M1085.75 980h2.5M987.75 966h2.5M1095.75 1034h2.5M1117.75 980h2.5M939.75 1070h2.5M1075.75 1002h2.5M1053.75 998h2.5M1187.75 944h2.5M1057.75 1020h2.5M1025.75 886h2.5M1173.75 962h2.5M1091.75 944h2.5M1081.75 1020h2.5M1105.75 968h2.5M1041.75 1044h2.5M989.75 1004h2.5M1149.75 982h2.5M1029.75 958h2.5M1101.75 924h2.5M1165.75 942h2.5M1159.75 964h2.5M1089.75 966h2.5M1087.75 1002h2.5M1089.75 1028h2.5M1055.75 926h2.5M1009.75 1042h2.5M1103.75 964h2.5M933.75 1070h2.5M1143.75 942h2.5M911.75 1034h2.5M1055.75 1048h2.5M1015.75 1064h2.5M1043.75 1020h2.5M1119.75 954h2.5M889.75 956h2.5M1191.75 934h2.5M977.75 1110h2.5M1107.75 954h2.5M963.75 1060h2.5M949.75 1016h2.5M1193.75 934h2.5M1075.75 978h2.5M1177.75 936h2.5M1063.75 1014h2.5M867.75 956h2.5M1125.75 1012h2.5M967.75 1058h2.5M919.75 1066h2.5M933.75 1078h2.5M1021.75 928h2.5M925.75 944h2.5M981.75 1022h2.5M1039.75 1014h2.5M1023.75 1008h2.5M1113.75 1044h2.5M1137.75 970h2.5M1019.75 1018h2.5M1115.75 982h2.5M1147.75 966h2.5M1109.75 994h2.5M1113.75 974h2.5M1057.75 982h2.5M1101.75 1032h2.5M1111.75 1014h2.5M1185.75 964h2.5M1161.75 992h2.5M1071.75 988h2.5M1091.75 964h2.5M1119.75 1006h2.5M1043.75 972h2.5M1131.75 960h2.5M1195.75 980h2.5M1081.75 992h2.5M1031.75 970h2.5M1149.75 940h2.5M1169.75 952h2.5M1007.75 1040h2.5M1039.75 1024h2.5M1167.75 946h2.5M859.75 1020h2.5M1093.75 1040h2.5M1039.75 922h2.5M1001.75 1000h2.5M1113.75 1000h2.5M945.75 1026h2.5M1081.75 976h2.5M1111.75 960h2.5M1109.75 892h2.5M1213.75 910h2.5M1087.75 1020h2.5M1089.75 984h2.5M1165.75 962h2.5M1041.75 964h2.5M985.75 1046h2.5M1039.75 994h2.5M961.75 1050h2.5M1161.75 974h2.5M1215.75 932h2.5M1029.75 1038h2.5M981.75 928h2.5M943.75 1052h2.5M1025.75 988h2.5M955.75 1070h2.5M1081.75 938h2.5M1083.75 894h2.5M1109.75 960h2.5M993.75 946h2.5M1099.75 956h2.5M1013.75 1052h2.5M1097.75 968h2.5M1091.75 950h2.5M1099.75 1030h2.5M1105.75 974h2.5M1087.75 972h2.5M935.75 1078h2.5M1069.75 992h2.5M1097.75 958h2.5M893.75 1016h2.5M1061.75 1006h2.5M961.75 1038h2.5M1057.75 1018h2.5M1009.75 1064h2.5M1033.75 1026h2.5M1093.75 988h2.5M1135.75 962h2.5M987.75 1050h2.5M1019.75 1070h2.5M995.75 994h2.5M963.75 1030h2.5M993.75 1024h2.5M969.75 1004h2.5M951.75 1030h2.5M1089.75 956h2.5M897.75 1080h2.5M1051.75 972h2.5M1149.75 1054h2.5M1137.75 982h2.5M1001.75 1058h2.5M943.75 1058h2.5M1045.75 1002h2.5M963.75 1040h2.5M1073.75 964h2.5M967.75 1034h2.5M1075.75 1030h2.5M931.75 1004h2.5M1105.75 1016h2.5M1103.75 972h2.5M1133.75 958h2.5M1133.75 980h2.5M913.75 1066h2.5M1009.75 1028h2.5M947.75 1090h2.5M945.75 1036h2.5M1093.75 1000h2.5M1083.75 944h2.5M1043.75 1038h2.5M1077.75 980h2.5M1137.75 966h2.5M989.75 1048h2.5M1117.75 1002h2.5M1093.75 940h2.5M1179.75 880h2.5M1119.75 992h2.5M1155.75 868h2.5M1151.75 930h2.5M997.75 1016h2.5M1125.75 920h2.5M1099.75 950h2.5M1131.75 1000h2.5M1107.75 972h2.5M929.75 1066h2.5M983.75 1080h2.5M1067.75 1012h2.5M967.75 988h2.5M1103.75 1000h2.5M1015.75 968h2.5M1005.75 1062h2.5M1111.75 970h2.5M1165.75 884h2.5M1215.75 918h2.5M1085.75 996h2.5M1011.75 1054h2.5M1065.75 1010h2.5M1087.75 1012h2.5M1075.75 1000h2.5M1151.75 964h2.5M1109.75 950h2.5M1047.75 1028h2.5M987.75 1030h2.5M1099.75 954h2.5M1073.75 1016h2.5M1075.75 1016h2.5M957.75 1006h2.5M1045.75 912h2.5M925.75 1070h2.5M1105.75 944h2.5M993.75 1036h2.5M967.75 1004h2.5M1051.75 1032h2.5M965.75 1062h2.5M965.75 1068h2.5M963.75 946h2.5M1109.75 942h2.5M973.75 986h2.5M1045.75 1032h2.5M921.75 1068h2.5M1035.75 982h2.5M997.75 1002h2.5M955.75 1010h2.5M1045.75 1006h2.5M1059.75 1002h2.5M1143.75 982h2.5M975.75 1068h2.5M1149.75 964h2.5M1167.75 984h2.5M1037.75 1030h2.5M943.75 1088h2.5M965.75 1024h2.5M1103.75 878h2.5M985.75 1040h2.5M885.75 1040h2.5M1059.75 950h2.5M1061.75 1008h2.5M1015.75 1076h2.5M1071.75 966h2.5M1129.75 918h2.5M1049.75 1002h2.5M1013.75 1064h2.5M1055.75 1046h2.5M1021.75 1046h2.5M1071.75 1034h2.5M1009.75 1032h2.5M989.75 1058h2.5M1159.75 968h2.5M1137.75 990h2.5M1049.75 980h2.5M989.75 1084h2.5M1203.75 930h2.5M1051.75 1004h2.5M1151.75 966h2.5M947.75 1048h2.5M1049.75 1022h2.5M1149.75 978h2.5M1045.75 1038h2.5M905.75 972h2.5M939.75 1068h2.5M1095.75 958h2.5M953.75 1030h2.5M995.75 1064h2.5M1117.75 874h2.5M1049.75 1006h2.5M1097.75 970h2.5M1045.75 1030h2.5M1053.75 996h2.5M933.75 1144h2.5M1091.75 952h2.5M1119.75 1056h2.5M1111.75 1004h2.5M1115.75 954h2.5M1147.75 954h2.5M929.75 1032h2.5M1043.75 974h2.5M1159.75 996h2.5M1001.75 1080h2.5M1027.75 1020h2.5M1149.75 966h2.5M1017.75 976h2.5M901.75 1002h2.5M901.75 1098h2.5M951.75 1046h2.5M1059.75 1004h2.5M957.75 1022h2.5M1031.75 982h2.5M1167.75 960h2.5M951.75 1072h2.5M1039.75 1012h2.5M935.75 1106h2.5M1083.75 926h2.5M1179.75 980h2.5M919.75 978h2.5M1013.75 1018h2.5M975.75 1074h2.5M1001.75 1008h2.5M1063.75 1024h2.5M1057.75 1010h2.5M951.75 1054h2.5M1087.75 964h2.5M1103.75 908h2.5M1061.75 984h2.5M949.75 1046h2.5M1053.75 902h2.5M925.75 1080h2.5M787.75 1010h2.5M1157.75 986h2.5M939.75 1046h2.5M1097.75 988h2.5M1009.75 1034h2.5M1047.75 984h2.5M1167.75 956h2.5M1099.75 960h2.5M969.75 1040h2.5M1087.75 982h2.5M1059.75 974h2.5M1057.75 958h2.5M841.75 1014h2.5M1113.75 956h2.5M1117.75 996h2.5M1045.75 906h2.5M981.75 1020h2.5M937.75 1024h2.5M1061.75 1024h2.5M1247.75 922h2.5M973.75 1058h2.5M1069.75 1022h2.5M983.75 966h2.5M963.75 1022h2.5M997.75 1056h2.5M1051.75 1014h2.5M1149.75 908h2.5M1095.75 972h2.5M1001.75 1036h2.5M1069.75 882h2.5M831.75 1048h2.5M1101.75 886h2.5M1097.75 1010h2.5M1019.75 1016h2.5M1089.75 1002h2.5M1169.75 956h2.5M983.75 1012h2.5M897.75 972h2.5M927.75 1044h2.5M1073.75 968h2.5M1003.75 1016h2.5M905.75 1012h2.5M1087.75 962h2.5M1147.75 986h2.5M961.75 1056h2.5M965.75 1030h2.5M1109.75 940h2.5M1051.75 942h2.5M1081.75 962h2.5M955.75 1066h2.5M1013.75 1006h2.5M1107.75 1022h2.5M939.75 1082h2.5M879.75 984h2.5M1001.75 1070h2.5M1053.75 1020h2.5M1059.75 1008h2.5M1135.75 1000h2.5M993.75 1016h2.5M1171.75 946h2.5M1055.75 1022h2.5M1185.75 912h2.5M1153.75 934h2.5M1011.75 976h2.5M971.75 1032h2.5M939.75 982h2.5M813.75 1062h2.5M1027.75 1014h2.5M977.75 1052h2.5M1109.75 972h2.5M1011.75 1046h2.5M1125.75 974h2.5M1177.75 950h2.5M1089.75 1034h2.5M1139.75 1016h2.5M951.75 1048h2.5M951.75 1070h2.5M1163.75 890h2.5M1069.75 1034h2.5M969.75 1066h2.5M965.75 1042h2.5M1057.75 984h2.5M1065.75 1018h2.5M917.75 1058h2.5M1139.75 888h2.5M1181.75 942h2.5M1121.75 992h2.5M1225.75 916h2.5M1141.75 990h2.5M975.75 968h2.5M1037.75 990h2.5M957.75 1002h2.5M1145.75 918h2.5M1171.75 958h2.5M1039.75 1034h2.5M1067.75 984h2.5M927.75 1056h2.5M1023.75 1074h2.5M1049.75 972h2.5M1107.75 984h2.5M1089.75 1030h2.5M1181.75 876h2.5M989.75 1014h2.5M999.75 1012h2.5M1125.75 1028h2.5M1121.75 890h2.5M1155.75 1016h2.5M933.75 1054h2.5M1131.75 936h2.5M1055.75 1040h2.5M1061.75 992h2.5M967.75 1048h2.5M1019.75 918h2.5M1099.75 1054h2.5M1111.75 978h2.5M1153.75 910h2.5M1179.75 938h2.5M1179.75 940h2.5M1037.75 984h2.5M1063.75 986h2.5M963.75 1064h2.5M1177.75 964h2.5M973.75 1030h2.5M1069.75 1056h2.5M1071.75 972h2.5M1131.75 956h2.5M1125.75 976h2.5M1131.75 974h2.5M1057.75 1056h2.5M1099.75 944h2.5M1035.75 1052h2.5M943.75 1060h2.5M1159.75 938h2.5M1045.75 1050h2.5M957.75 1074h2.5M1115.75 978h2.5M1069.75 1016h2.5M1061.75 1030h2.5M959.75 956h2.5M1119.75 976h2.5M879.75 1084h2.5M1073.75 1006h2.5M965.75 1050h2.5M1165.75 960h2.5M1159.75 926h2.5M963.75 1062h2.5M1063.75 1036h2.5M851.75 1086h2.5M1205.75 958h2.5M1127.75 958h2.5M1097.75 952h2.5M1105.75 976h2.5M999.75 1080h2.5M1075.75 932h2.5M1191.75 900h2.5M1183.75 952h2.5M1103.75 998h2.5M1117.75 1000h2.5M1039.75 900h2.5M1207.75 960h2.5M1033.75 976h2.5M1089.75 908h2.5M979.75 1016h2.5M875.75 1126h2.5M977.75 1076h2.5M1085.75 1002h2.5M1043.75 984h2.5M1021.75 930h2.5M1123.75 982h2.5M1187.75 948h2.5M1025.75 1056h2.5M1075.75 1028h2.5M1099.75 1006h2.5M1099.75 1016h2.5M1141.75 996h2.5M933.75 1052h2.5M997.75 1040h2.5M1087.75 1018h2.5M1111.75 992h2.5M971.75 1004h2.5M1181.75 970h2.5M1063.75 1042h2.5M959.75 1076h2.5M1133.75 946h2.5M1041.75 954h2.5M1053.75 956h2.5M1105.75 956h2.5M1189.75 998h2.5M1041.75 996h2.5M935.75 1056h2.5M961.75 1010h2.5M957.75 1104h2.5M1157.75 972h2.5M1129.75 938h2.5M1077.75 974h2.5M1119.75 972h2.5M1001.75 1040h2.5M1063.75 1002h2.5M1135.75 998h2.5M1103.75 992h2.5M1117.75 992h2.5M991.75 1030h2.5M1191.75 978h2.5M1013.75 990h2.5M909.75 1044h2.5M1131.75 944h2.5M1057.75 944h2.5M1063.75 878h2.5M1109.75 1008h2.5M959.75 1084h2.5M1107.75 1052h2.5M1193.75 944h2.5M1077.75 1010h2.5M963.75 1086h2.5M1145.75 946h2.5M1107.75 970h2.5M1131.75 932h2.5M1109.75 936h2.5M1161.75 956h2.5M1163.75 952h2.5M1085.75 1022h2.5M951.75 1058h2.5M1083.75 978h2.5M1275.75 864h2.5M955.75 1080h2.5M977.75 1048h2.5M931.75 1044h2.5M1147.75 952h2.5M1135.75 950h2.5M963.75 1004h2.5M1101.75 1000h2.5M947.75 1080h2.5M989.75 1044h2.5M1067.75 1036h2.5M1019.75 1048h2.5M1079.75 1026h2.5M975.75 1018h2.5M971.75 1008h2.5M931.75 976h2.5M975.75 1022h2.5M1023.75 990h2.5M1105.75 1002h2.5M1139.75 978h2.5M1089.75 992h2.5M1063.75 964h2.5M1033.75 1004h2.5M1083.75 938h2.5M979.75 1032h2.5M1039.75 1032h2.5M947.75 970h2.5M1041.75 1050h2.5M939.75 1060h2.5M1087.75 952h2.5M1101.75 988h2.5M969.75 1026h2.5M1193.75 902h2.5M1119.75 964h2.5M967.75 1014h2.5M919.75 1010h2.5M945.75 1044h2.5M1051.75 1040h2.5M973.75 926h2.5M1117.75 972h2.5M1099.75 1010h2.5M1023.75 1026h2.5M933.75 1082h2.5M1079.75 968h2.5M1055.75 1064h2.5M945.75 1074h2.5M1109.75 980h2.5M1109.75 976h2.5M1161.75 980h2.5M1111.75 982h2.5M1089.75 960h2.5M1051.75 998h2.5M937.75 1054h2.5M1201.75 938h2.5M1143.75 1006h2.5M1169.75 982h2.5M1077.75 944h2.5M971.75 1062h2.5M1113.75 1010h2.5M1095.75 1020h2.5M1113.75 902h2.5M1141.75 962h2.5M1101.75 1016h2.5M943.75 1084h2.5M1093.75 1006h2.5M1171.75 978h2.5M901.75 1078h2.5M1165.75 952h2.5M1117.75 962h2.5M957.75 1032h2.5M1033.75 982h2.5M929.75 1096h2.5M1139.75 984h2.5M1193.75 918h2.5M1025.75 1024h2.5M1089.75 1050h2.5M1093.75 952h2.5M1103.75 974h2.5M961.75 1074h2.5M1019.75 1014h2.5M1061.75 964h2.5M1087.75 920h2.5M1049.75 990h2.5M1079.75 908h2.5M995.75 1018h2.5M1087.75 980h2.5M1165.75 898h2.5M1089.75 942h2.5M1037.75 1078h2.5M1179.75 962h2.5M1003.75 1008h2.5M1113.75 972h2.5M1013.75 984h2.5M937.75 952h2.5M957.75 1088h2.5M1065.75 984h2.5M963.75 1028h2.5M1069.75 994h2.5M999.75 1056h2.5M1131.75 958h2.5M979.75 978h2.5M1209.75 960h2.5M1133.75 1030h2.5M1113.75 872h2.5M1023.75 970h2.5M1071.75 886h2.5M969.75 1072h2.5M953.75 1038h2.5M1115.75 906h2.5M1079.75 974h2.5M1069.75 1010h2.5M1071.75 994h2.5M1027.75 990h2.5M1059.75 1042h2.5M1045.75 974h2.5M1007.75 934h2.5M927.75 1066h2.5M1009.75 1002h2.5M1093.75 986h2.5M1071.75 1006h2.5M1133.75 934h2.5M1121.75 990h2.5M1097.75 966h2.5M915.75 996h2.5M1085.75 962h2.5M971.75 1058h2.5M1125.75 992h2.5M1001.75 1046h2.5M1153.75 950h2.5M1083.75 970h2.5M1209.75 878h2.5M951.75 1034h2.5M1217.75 884h2.5M1069.75 918h2.5M1037.75 928h2.5M869.75 988h2.5M1199.75 868h2.5M1047.75 1012h2.5M889.75 980h2.5M1023.75 892h2.5M1039.75 1066h2.5M1105.75 1004h2.5M915.75 1110h2.5M1005.75 896h2.5M1029.75 1034h2.5M1155.75 830h2.5M951.75 1066h2.5M1011.75 998h2.5M1051.75 1054h2.5M987.75 1016h2.5M1161.75 934h2.5M1141.75 954h2.5M1155.75 964h2.5M879.75 1060h2.5M1083.75 986h2.5M1035.75 952h2.5M995.75 1022h2.5M1035.75 1050h2.5M1145.75 886h2.5M1131.75 922h2.5M1075.75 1010h2.5M953.75 1018h2.5M1179.75 952h2.5M1009.75 940h2.5M1175.75 952h2.5M1175.75 944h2.5M1069.75 1000h2.5M899.75 1058h2.5M1035.75 1028h2.5M1277.75 912h2.5M1191.75 940h2.5M1103.75 926h2.5M1059.75 980h2.5M1173.75 868h2.5M1173.75 942h2.5M963.75 1014h2.5M1127.75 988h2.5M1069.75 1002h2.5M1089.75 1014h2.5M1057.75 1030h2.5M1083.75 962h2.5M919.75 1054h2.5M1107.75 944h2.5M955.75 1088h2.5M1105.75 1026h2.5M1131.75 996h2.5M1161.75 970h2.5M1141.75 932h2.5M1121.75 938h2.5M1065.75 1016h2.5M1077.75 1002h2.5M1117.75 986h2.5M1111.75 954h2.5M1127.75 952h2.5M945.75 1070h2.5M1061.75 976h2.5M1053.75 990h2.5M977.75 1064h2.5M1119.75 960h2.5M1037.75 998h2.5M1153.75 982h2.5M1123.75 984h2.5M1021.75 1052h2.5M1049.75 1010h2.5M1055.75 1006h2.5M1101.75 994h2.5M1099.75 938h2.5M997.75 1048h2.5M1177.75 980h2.5M1089.75 1010h2.5M1143.75 872h2.5M1155.75 966h2.5M1063.75 988h2.5M1027.75 1078h2.5M995.75 1052h2.5M1137.75 978h2.5M907.75 1112h2.5M1015.75 1068h2.5M1009.75 998h2.5M1189.75 984h2.5M967.75 1080h2.5M905.75 978h2.5M1039.75 894h2.5M955.75 1024h2.5M1129.75 1010h2.5M1087.75 946h2.5M985.75 1030h2.5M1085.75 1006h2.5M1055.75 1016h2.5M1137.75 960h2.5M1109.75 964h2.5M961.75 1046h2.5M1121.75 988h2.5M833.75 1042h2.5M1157.75 960h2.5M967.75 952h2.5M1037.75 1018h2.5M1013.75 1022h2.5M1177.75 972h2.5M1173.75 898h2.5M1081.75 1022h2.5M1177.75 894h2.5M957.75 1026h2.5M967.75 1050h2.5M1169.75 906h2.5M961.75 1076h2.5M975.75 962h2.5M1187.75 966h2.5M1103.75 1006h2.5M1101.75 996h2.5M883.75 1004h2.5M1079.75 1010h2.5M1019.75 1032h2.5M1053.75 1008h2.5M993.75 894h2.5M1075.75 974h2.5M1091.75 956h2.5M937.75 1088h2.5M1105.75 928h2.5M1027.75 1034h2.5M1111.75 940h2.5M1205.75 920h2.5M847.75 1006h2.5M1129.75 964h2.5M1103.75 912h2.5M1041.75 948h2.5M1169.75 966h2.5M887.75 1146h2.5M1121.75 986h2.5M1179.75 956h2.5M949.75 1052h2.5M1041.75 1028h2.5M993.75 996h2.5M969.75 1028h2.5M1095.75 974h2.5M989.75 1068h2.5M1079.75 992h2.5M1055.75 996h2.5M879.75 1080h2.5M983.75 940h2.5M995.75 1006h2.5M1123.75 966h2.5M1051.75 1010h2.5M1087.75 968h2.5M1051.75 978h2.5M1063.75 886h2.5M991.75 998h2.5M1109.75 992h2.5M937.75 1070h2.5M1059.75 986h2.5M1119.75 956h2.5M1037.75 1042h2.5M1051.75 1006h2.5M1055.75 1014h2.5M893.75 980h2.5M1139.75 970h2.5M1081.75 1004h2.5M995.75 1008h2.5M1069.75 894h2.5M1027.75 1052h2.5M1057.75 990h2.5M1047.75 1032h2.5M1055.75 1024h2.5M987.75 1002h2.5M1211.75 890h2.5M1071.75 980h2.5M1141.75 956h2.5M1069.75 972h2.5M1097.75 904h2.5M965.75 1034h2.5M1027.75 986h2.5M1079.75 998h2.5M1097.75 990h2.5M1169.75 984h2.5M975.75 1030h2.5M1067.75 1000h2.5M889.75 984h2.5M1147.75 928h2.5M1081.75 978h2.5M995.75 884h2.5M1085.75 964h2.5M1055.75 978h2.5M1079.75 990h2.5M919.75 1052h2.5M1095.75 996h2.5M1169.75 986h2.5M895.75 1078h2.5M1115.75 1038h2.5M1129.75 982h2.5M1089.75 1052h2.5M923.75 1056h2.5M909.75 1116h2.5M1097.75 1038h2.5M981.75 1026h2.5M1057.75 1006h2.5M1031.75 994h2.5M1107.75 946h2.5M1051.75 948h2.5M1119.75 934h2.5M929.75 1092h2.5M1077.75 1024h2.5M1081.75 1038h2.5M1151.75 1008h2.5M957.75 1056h2.5M1021.75 916h2.5M1069.75 998h2.5M1087.75 1032h2.5M1089.75 922h2.5M1139.75 996h2.5M1129.75 980h2.5M1091.75 990h2.5M965.75 1022h2.5M1091.75 930h2.5M1103.75 906h2.5M1141.75 1018h2.5M1093.75 944h2.5M1045.75 1036h2.5M993.75 954h2.5M903.75 1048h2.5M1099.75 972h2.5M1193.75 852h2.5M947.75 1030h2.5M877.75 980h2.5M985.75 1072h2.5M1141.75 982h2.5M1179.75 932h2.5M1107.75 920h2.5M1091.75 1022h2.5M1103.75 1062h2.5M1043.75 958h2.5M1075.75 970h2.5M1009.75 990h2.5M933.75 1050h2.5M1127.75 992h2.5M1047.75 978h2.5M1047.75 1004h2.5M1053.75 976h2.5M961.75 930h2.5M1051.75 980h2.5M1007.75 992h2.5M979.75 1076h2.5M1025.75 1016h2.5M1093.75 950h2.5M1079.75 1002h2.5M1153.75 974h2.5M1105.75 978h2.5M1071.75 1000h2.5M1253.75 890h2.5M1117.75 994h2.5M945.75 1030h2.5M1067.75 1028h2.5M999.75 908h2.5M1169.75 954h2.5M1039.75 960h2.5M1125.75 940h2.5M1123.75 1022h2.5M1133.75 960h2.5M1075.75 994h2.5M1031.75 1082h2.5M1077.75 962h2.5M1089.75 1008h2.5M1025.75 1064h2.5M1083.75 996h2.5M1145.75 996h2.5M943.75 1034h2.5M1189.75 904h2.5M1117.75 1010h2.5M979.75 1002h2.5M1131.75 892h2.5M1095.75 904h2.5M1049.75 1026h2.5M1089.75 952h2.5M1063.75 994h2.5M1111.75 950h2.5M1155.75 882h2.5M1005.75 986h2.5M1149.75 974h2.5M1221.75 906h2.5M923.75 960h2.5M1061.75 1010h2.5M1061.75 1014h2.5M1159.75 888h2.5M1117.75 894h2.5M1121.75 966h2.5M1091.75 1028h2.5M1143.75 926h2.5M1093.75 946h2.5M1153.75 954h2.5M1019.75 980h2.5M1165.75 914h2.5M1149.75 946h2.5M985.75 1006h2.5M1125.75 1016h2.5M1151.75 914h2.5M835.75 1060h2.5M1073.75 1052h2.5M1047.75 964h2.5M1073.75 938h2.5M947.75 1028h2.5M1137.75 992h2.5M1121.75 974h2.5M1079.75 950h2.5M913.75 1076h2.5M1163.75 898h2.5M961.75 1066h2.5M827.75 1056h2.5M1073.75 946h2.5M1013.75 1060h2.5M979.75 1080h2.5M1099.75 1014h2.5M1213.75 968h2.5M925.75 1036h2.5M983.75 1024h2.5M965.75 974h2.5M1057.75 1054h2.5M1149.75 944h2.5M1173.75 984h2.5M1083.75 960h2.5M1125.75 1000h2.5M1177.75 962h2.5M885.75 1096h2.5M1163.75 936h2.5M1117.75 1020h2.5M1019.75 890h2.5M1025.75 998h2.5M1003.75 988h2.5M1105.75 1018h2.5M1047.75 1022h2.5M971.75 1064h2.5M1119.75 1004h2.5M1049.75 1028h2.5M1041.75 966h2.5M953.75 1086h2.5M1093.75 942h2.5M1133.75 962h2.5M1069.75 1004h2.5M1119.75 952h2.5M1083.75 994h2.5M1065.75 994h2.5M1025.75 972h2.5M1137.75 962h2.5M1101.75 992h2.5M1077.75 992h2.5M947.75 1066h2.5M1091.75 962h2.5M1065.75 1060h2.5M1011.75 1058h2.5M1013.75 1000h2.5M1125.75 1006h2.5M1019.75 982h2.5M1063.75 1020h2.5M1155.75 962h2.5M1073.75 996h2.5M1029.75 974h2.5M879.75 988h2.5M969.75 1078h2.5M943.75 1050h2.5M1125.75 946h2.5M1149.75 976h2.5M1113.75 954h2.5M1073.75 944h2.5M1065.75 986h2.5M849.75 1032h2.5M1115.75 996h2.5M999.75 1076h2.5M985.75 1086h2.5M1073.75 998h2.5M889.75 1046h2.5M1015.75 1018h2.5M1027.75 992h2.5M1015.75 1054h2.5M1005.75 988h2.5M1049.75 974h2.5M981.75 1002h2.5M1075.75 1006h2.5M1085.75 950h2.5M1015.75 1000h2.5M1135.75 968h2.5M1107.75 948h2.5M871.75 1030h2.5M1139.75 944h2.5M1083.75 1052h2.5M1089.75 958h2.5M1047.75 944h2.5M1063.75 1040h2.5M1121.75 1010h2.5M1125.75 1004h2.5M957.75 1034h2.5M935.75 1048h2.5M1189.75 976h2.5M899.75 1100h2.5M1133.75 986h2.5M1025.75 970h2.5M947.75 920h2.5M1083.75 1038h2.5M1099.75 1008h2.5M1197.75 978h2.5M1123.75 946h2.5M1121.75 1000h2.5M1063.75 996h2.5M1087.75 1036h2.5M1169.75 978h2.5M1103.75 984h2.5M917.75 1054h2.5M1045.75 1024h2.5M983.75 976h2.5M861.75 1080h2.5M1099.75 1018h2.5M1015.75 1046h2.5M989.75 1052h2.5M987.75 1064h2.5M941.75 1056h2.5M911.75 1062h2.5M1175.75 956h2.5M1153.75 1020h2.5M1155.75 980h2.5M969.75 1022h2.5M1011.75 1068h2.5M1127.75 948h2.5M1179.75 970h2.5M1095.75 994h2.5M1029.75 1044h2.5M1123.75 950h2.5M1031.75 1078h2.5M931.75 1084h2.5M1089.75 976h2.5M1105.75 994h2.5M1079.75 970h2.5M1009.75 1040h2.5M1115.75 1012h2.5M953.75 996h2.5M965.75 962h2.5M1103.75 1032h2.5M1225.75 946h2.5M1077.75 984h2.5M1077.75 972h2.5M1137.75 1002h2.5M959.75 1046h2.5M977.75 1014h2.5M1129.75 954h2.5M1161.75 994h2.5M1177.75 976h2.5M937.75 1082h2.5M1065.75 1002h2.5M973.75 1080h2.5M945.75 958h2.5M1119.75 984h2.5M935.75 1024h2.5M931.75 1082h2.5M961.75 1024h2.5M1085.75 970h2.5M1167.75 950h2.5M1077.75 1004h2.5M1051.75 952h2.5M1069.75 988h2.5M883.75 1100h2.5M1063.75 980h2.5M1077.75 998h2.5M1095.75 1014h2.5M1003.75 1066h2.5M1137.75 1000h2.5M979.75 1052h2.5M1139.75 952h2.5M1069.75 1012h2.5M955.75 966h2.5M1053.75 980h2.5M1095.75 950h2.5M1077.75 1030h2.5M955.75 1036h2.5M941.75 944h2.5M897.75 1016h2.5M937.75 1078h2.5M1137.75 986h2.5M895.75 962h2.5M831.75 1070h2.5M1031.75 1042h2.5M1149.75 994h2.5M1125.75 956h2.5M989.75 1036h2.5M1071.75 978h2.5M967.75 966h2.5M1029.75 990h2.5M927.75 1078h2.5M1095.75 970h2.5M1063.75 990h2.5M1081.75 1044h2.5M1123.75 952h2.5M1009.75 1000h2.5M951.75 1042h2.5M999.75 1078h2.5M1069.75 976h2.5M961.75 1044h2.5M1133.75 982h2.5M1059.75 1028h2.5M985.75 1060h2.5M925.75 1074h2.5M1071.75 1026h2.5M999.75 974h2.5M1145.75 1004h2.5M1091.75 1026h2.5M1057.75 1004h2.5M1187.75 978h2.5M907.75 1040h2.5M1151.75 946h2.5M993.75 998h2.5M1181.75 1002h2.5M1023.75 916h2.5M1039.75 916h2.5M1093.75 972h2.5M1139.75 946h2.5M973.75 1022h2.5M1019.75 972h2.5M1085.75 994h2.5M951.75 1032h2.5M1095.75 1064h2.5M995.75 1080h2.5M931.75 1026h2.5M1109.75 1024h2.5M1135.75 960h2.5M1145.75 956h2.5M1185.75 956h2.5M937.75 1028h2.5M1155.75 986h2.5M1111.75 1006h2.5M1125.75 962h2.5M1077.75 1012h2.5M1055.75 998h2.5M1089.75 950h2.5M1105.75 972h2.5M1173.75 976h2.5M1125.75 1008h2.5M1155.75 970h2.5M1061.75 1046h2.5M991.75 992h2.5M1055.75 1050h2.5M1037.75 1022h2.5M985.75 1004h2.5M1167.75 972h2.5M1121.75 994h2.5M1155.75 948h2.5M1029.75 972h2.5M1039.75 1004h2.5M1147.75 944h2.5M989.75 1034h2.5M1057.75 1012h2.5M963.75 1032h2.5M1059.75 1030h2.5M825.75 992h2.5M973.75 1012h2.5M1065.75 962h2.5M1029.75 988h2.5M967.75 996h2.5M1153.75 968h2.5M953.75 1096h2.5M1055.75 966h2.5M929.75 1068h2.5M1105.75 990h2.5M1061.75 1036h2.5M1055.75 1042h2.5M1047.75 1038h2.5M1159.75 988h2.5M1073.75 1030h2.5M1035.75 1012h2.5M1011.75 984h2.5M1019.75 906h2.5M911.75 1092h2.5M1039.75 982h2.5M1051.75 1002h2.5M951.75 998h2.5M917.75 1064h2.5M1041.75 1026h2.5M959.75 1064h2.5M997.75 942h2.5M1033.75 980h2.5M1109.75 1014h2.5M1145.75 952h2.5M1005.75 1014h2.5M951.75 1062h2.5M1127.75 976h2.5M1011.75 1006h2.5M1107.75 964h2.5M1025.75 1046h2.5M965.75 1016h2.5M1151.75 988h2.5M959.75 1056h2.5M1109.75 966h2.5M1135.75 972h2.5M919.75 1078h2.5M1059.75 1018h2.5M909.75 1084h2.5M929.75 1060h2.5M1019.75 1010h2.5M1147.75 1002h2.5M1141.75 1020h2.5M1083.75 1034h2.5M959.75 1072h2.5M1063.75 1012h2.5M1177.75 956h2.5M1067.75 972h2.5M1129.75 974h2.5M1111.75 996h2.5M1091.75 968h2.5M989.75 1076h2.5M1133.75 974h2.5M925.75 1062h2.5M997.75 994h2.5M1113.75 992h2.5M1041.75 960h2.5M1099.75 992h2.5M987.75 930h2.5M1161.75 962h2.5M1033.75 952h2.5M1091.75 1020h2.5M1081.75 966h2.5M1161.75 976h2.5M1063.75 972h2.5M1103.75 1012h2.5M1055.75 984h2.5M903.75 1052h2.5M1075.75 1056h2.5M875.75 946h2.5M1145.75 964h2.5M1073.75 956h2.5M1003.75 1060h2.5M1111.75 952h2.5M1073.75 966h2.5M989.75 992h2.5M913.75 1072h2.5M1115.75 984h2.5M983.75 1010h2.5M875.75 1082h2.5M971.75 1078h2.5M1077.75 966h2.5M941.75 1054h2.5M907.75 1072h2.5M885.75 1106h2.5M1069.75 966h2.5M1037.75 1034h2.5M1079.75 1036h2.5M1159.75 994h2.5M977.75 1078h2.5M1097.75 956h2.5M1029.75 1060h2.5M1043.75 976h2.5M999.75 884h2.5M929.75 1076h2.5M1139.75 964h2.5M1047.75 968h2.5M1067.75 1022h2.5M1035.75 1046h2.5M967.75 930h2.5M1097.75 942h2.5M1019.75 1022h2.5M1067.75 962h2.5M1001.75 1060h2.5M1081.75 1046h2.5M869.75 1004h2.5M1113.75 996h2.5M1063.75 976h2.5M877.75 1064h2.5M929.75 1078h2.5M1081.75 960h2.5M999.75 994h2.5M1151.75 972h2.5M1057.75 978h2.5M1059.75 1016h2.5M1131.75 954h2.5M1039.75 1078h2.5M1071.75 984h2.5M1173.75 964h2.5M1133.75 1010h2.5M1003.75 1068h2.5M975.75 998h2.5M1199.75 946h2.5M1085.75 948h2.5M1039.75 1048h2.5M909.75 1056h2.5M949.75 1040h2.5M1049.75 986h2.5M1019.75 954h2.5M963.75 1082h2.5M867.75 976h2.5M1069.75 950h2.5M1173.75 952h2.5M941.75 1086h2.5M1097.75 1028h2.5M983.75 998h2.5M1111.75 1024h2.5M1079.75 1028h2.5M1145.75 982h2.5M1003.75 1000h2.5M1115.75 970h2.5M1067.75 1002h2.5M1083.75 1002h2.5M949.75 1060h2.5M1115.75 1008h2.5M1107.75 996h2.5M985.75 974h2.5M1093.75 974h2.5M965.75 1064h2.5M923.75 966h2.5M1077.75 1034h2.5M1109.75 1004h2.5M1109.75 1028h2.5M1029.75 920h2.5M1101.75 1002h2.5M1043.75 960h2.5M1139.75 966h2.5M889.75 1102h2.5M1137.75 1014h2.5M1115.75 950h2.5M1089.75 974h2.5M1177.75 944h2.5M1079.75 954h2.5M969.75 1080h2.5M947.75 1038h2.5M1015.75 990h2.5M1081.75 990h2.5M1017.75 1068h2.5M883.75 1070h2.5M1083.75 1018h2.5M1011.75 934h2.5M1099.75 996h2.5M889.75 1084h2.5M1025.75 984h2.5M947.75 1076h2.5M967.75 1078h2.5M991.75 1010h2.5M1127.75 984h2.5M1121.75 964h2.5M1053.75 950h2.5M953.75 1004h2.5M1123.75 994h2.5M1023.75 1050h2.5M1013.75 1032h2.5M1093.75 990h2.5M1059.75 998h2.5M1183.75 982h2.5M1135.75 984h2.5M891.75 976h2.5M979.75 1096h2.5M947.75 932h2.5M1051.75 1028h2.5M923.75 1026h2.5M975.75 1034h2.5M1069.75 1018h2.5M853.75 970h2.5M987.75 990h2.5M1163.75 962h2.5M991.75 1008h2.5M1033.75 1068h2.5M949.75 1082h2.5M1129.75 986h2.5M1001.75 1054h2.5M1065.75 966h2.5M947.75 1060h2.5M1065.75 990h2.5M1141.75 980h2.5M1025.75 934h2.5M939.75 1066h2.5M1029.75 1074h2.5M1009.75 1060h2.5M1099.75 970h2.5M907.75 984h2.5M1127.75 966h2.5M889.75 1062h2.5M1131.75 964h2.5M1035.75 852h2.5M1103.75 980h2.5M1079.75 1024h2.5M953.75 1070h2.5M975.75 1076h2.5M1039.75 954h2.5M975.75 1046h2.5M1063.75 970h2.5M1047.75 992h2.5M1169.75 962h2.5M975.75 1020h2.5M1053.75 1028h2.5M907.75 1078h2.5M1181.75 948h2.5M1045.75 980h2.5M1051.75 990h2.5M1039.75 1042h2.5M1125.75 1018h2.5M947.75 1026h2.5M1109.75 1010h2.5M1111.75 948h2.5M1175.75 980h2.5M937.75 944h2.5M1103.75 996h2.5M969.75 958h2.5M1167.75 948h2.5M1069.75 1032h2.5M975.75 926h2.5M1137.75 968h2.5M1093.75 984h2.5M1041.75 1046h2.5M1051.75 1042h2.5M1077.75 1014h2.5M993.75 1058h2.5M1065.75 974h2.5M1035.75 988h2.5M1093.75 962h2.5M913.75 1062h2.5M1059.75 1038h2.5M1057.75 964h2.5M1121.75 954h2.5M1035.75 1040h2.5M1019.75 988h2.5M987.75 1020h2.5M919.75 1106h2.5M1027.75 984h2.5M1005.75 1006h2.5M1021.75 978h2.5M1141.75 1000h2.5M953.75 1054h2.5M1133.75 976h2.5M1147.75 1004h2.5M893.75 1074h2.5M993.75 1070h2.5M1071.75 1016h2.5M1161.75 1002h2.5M863.75 1042h2.5M807.75 1058h2.5M1077.75 1056h2.5M1085.75 1008h2.5M1141.75 966h2.5M959.75 1062h2.5M1057.75 976h2.5M995.75 1058h2.5M1037.75 964h2.5M879.75 1048h2.5M1067.75 960h2.5M1029.75 922h2.5M1019.75 1056h2.5M955.75 1012h2.5M1037.75 1052h2.5M991.75 1040h2.5M1189.75 978h2.5M967.75 1030h2.5M1147.75 946h2.5M979.75 1066h2.5M1027.75 1064h2.5M1117.75 948h2.5M1155.75 982h2.5M1061.75 1022h2.5M1043.75 1036h2.5M1179.75 972h2.5M981.75 1008h2.5M1035.75 1022h2.5M963.75 1068h2.5M1067.75 990h2.5M1037.75 924h2.5M977.75 1026h2.5M1137.75 1004h2.5M1125.75 1002h2.5M1011.75 1074h2.5M921.75 1046h2.5M973.75 1040h2.5M1031.75 1022h2.5M983.75 872h2.5M951.75 924h2.5M983.75 1046h2.5M973.75 1032h2.5M1103.75 946h2.5M859.75 1066h2.5M1117.75 960h2.5M1045.75 986h2.5M997.75 1000h2.5M1159.75 958h2.5M1021.75 876h2.5M1157.75 958h2.5M975.75 1012h2.5M931.75 1042h2.5M961.75 1084h2.5M989.75 994h2.5M933.75 972h2.5M1125.75 996h2.5M941.75 1088h2.5M985.75 1074h2.5M933.75 1072h2.5M1099.75 964h2.5M1115.75 1006h2.5M1005.75 998h2.5M1127.75 998h2.5M987.75 1072h2.5M1045.75 1000h2.5M1083.75 1032h2.5M1229.75 954h2.5M997.75 992h2.5M1073.75 948h2.5M1133.75 990h2.5M1079.75 946h2.5M937.75 938h2.5M991.75 1056h2.5M891.75 1010h2.5M1037.75 996h2.5M1067.75 1040h2.5M1033.75 1030h2.5M1067.75 958h2.5M931.75 1056h2.5M961.75 1062h2.5M969.75 1024h2.5M997.75 1024h2.5M917.75 996h2.5M1089.75 980h2.5M1113.75 1018h2.5M1031.75 1056h2.5M981.75 1082h2.5M905.75 1082h2.5M1073.75 988h2.5M989.75 1080h2.5M849.75 1128h2.5M1147.75 1028h2.5M935.75 1098h2.5M1069.75 960h2.5M1087.75 998h2.5M1113.75 950h2.5M1115.75 946h2.5M1007.75 1054h2.5M1087.75 1030h2.5M1147.75 960h2.5M1015.75 1032h2.5M1113.75 970h2.5M941.75 1060h2.5M957.75 1062h2.5M1033.75 974h2.5M983.75 1074h2.5M1023.75 986h2.5M1113.75 966h2.5M1031.75 906h2.5M1105.75 998h2.5M1133.75 1004h2.5M1061.75 944h2.5M1059.75 944h2.5M1137.75 946h2.5M1197.75 968h2.5M881.75 1026h2.5M1081.75 964h2.5M1089.75 982h2.5M1035.75 978h2.5M1147.75 950h2.5M1093.75 1016h2.5M1075.75 956h2.5M1149.75 950h2.5M1065.75 978h2.5M965.75 1012h2.5M1183.75 970h2.5M1135.75 1022h2.5M1075.75 1012h2.5M1049.75 1046h2.5M1125.75 958h2.5M1025.75 1012h2.5M1033.75 954h2.5M1119.75 978h2.5M1081.75 970h2.5M1025.75 974h2.5M1015.75 994h2.5M1005.75 1070h2.5M1113.75 1022h2.5M1095.75 960h2.5M931.75 1080h2.5M1181.75 986h2.5M959.75 1070h2.5M1221.75 978h2.5M1075.75 988h2.5M1017.75 988h2.5M1059.75 958h2.5M1119.75 958h2.5M1089.75 1020h2.5M1127.75 960h2.5M961.75 904h2.5M1117.75 974h2.5M1143.75 988h2.5M1159.75 946h2.5M969.75 930h2.5M1141.75 1002h2.5M1081.75 1016h2.5M895.75 1082h2.5M1079.75 1030h2.5M879.75 1124h2.5M1011.75 1064h2.5M933.75 1058h2.5M1209.75 958h2.5M1107.75 1002h2.5M1101.75 1036h2.5M1007.75 1068h2.5M1043.75 1004h2.5M1139.75 950h2.5M965.75 1070h2.5M1075.75 1004h2.5M969.75 922h2.5M1119.75 996h2.5M1093.75 1042h2.5M1137.75 1006h2.5M1041.75 976h2.5M799.75 1114h2.5M995.75 974h2.5M1041.75 980h2.5M995.75 1054h2.5M1037.75 1058h2.5M877.75 1048h2.5M989.75 1010h2.5M951.75 982h2.5M845.75 1152h2.5M977.75 1036h2.5M1037.75 922h2.5M1011.75 1056h2.5M1009.75 994h2.5M917.75 1072h2.5M921.75 1040h2.5M949.75 1024h2.5M959.75 970h2.5M935.75 1070h2.5M1005.75 1044h2.5M1035.75 1036h2.5M947.75 1046h2.5M1013.75 1004h2.5M941.75 1070h2.5M855.75 1100h2.5M1007.75 1056h2.5M997.75 914h2.5M893.75 1004h2.5M927.75 1082h2.5M917.75 1048h2.5M957.75 1082h2.5M927.75 956h2.5M1019.75 978h2.5M979.75 1006h2.5M1041.75 1012h2.5M935.75 1074h2.5M985.75 1020h2.5M951.75 1088h2.5M931.75 1046h2.5M943.75 1044h2.5M937.75 1062h2.5M967.75 934h2.5M891.75 1042h2.5M843.75 1098h2.5M977.75 1028h2.5M943.75 1100h2.5M1025.75 1026h2.5M915.75 1090h2.5M981.75 1064h2.5M955.75 924h2.5M967.75 932h2.5M927.75 1080h2.5M947.75 1082h2.5M867.75 1062h2.5M939.75 960h2.5M1037.75 904h2.5M895.75 946h2.5M1035.75 984h2.5M931.75 994h2.5M1029.75 1068h2.5M955.75 956h2.5M985.75 1056h2.5M987.75 1074h2.5M1031.75 978h2.5M915.75 1056h2.5M981.75 1078h2.5M939.75 1052h2.5M919.75 1060h2.5M937.75 1076h2.5M1009.75 1074h2.5M953.75 1072h2.5M1007.75 984h2.5M949.75 1106h2.5M941.75 978h2.5M851.75 992h2.5M929.75 1106h2.5M949.75 1074h2.5M919.75 1104h2.5M1023.75 1054h2.5M1041.75 1020h2.5M1005.75 1040h2.5M913.75 992h2.5M1033.75 986h2.5M1033.75 1044h2.5M1023.75 982h2.5M921.75 986h2.5M1025.75 1050h2.5M995.75 1070h2.5M1039.75 1050h2.5M1013.75 1036h2.5M1021.75 990h2.5M963.75 1066h2.5M911.75 1086h2.5M1013.75 1058h2.5M925.75 1090h2.5M945.75 1056h2.5M961.75 1070h2.5M895.75 1006h2.5M1037.75 910h2.5M951.75 1050h2.5M981.75 1062h2.5M913.75 962h2.5M943.75 1024h2.5M983.75 960h2.5M1003.75 974h2.5M997.75 1062h2.5M1033.75 924h2.5M1039.75 1038h2.5M973.75 1074h2.5M1021.75 992h2.5M1033.75 964h2.5M873.75 1068h2.5M967.75 1044h2.5M947.75 1042h2.5M1001.75 1024h2.5M845.75 982h2.5M915.75 1108h2.5M1017.75 1040h2.5M1037.75 1064h2.5M969.75 1050h2.5M965.75 1000h2.5M1037.75 1000h2.5M971.75 984h2.5M1029.75 970h2.5M911.75 1088h2.5M955.75 992h2.5M981.75 1016h2.5M827.75 1092h2.5M985.75 930h2.5M909.75 1022h2.5M1009.75 976h2.5M955.75 1018h2.5M999.75 984h2.5M977.75 1080h2.5M1013.75 948h2.5M1017.75 1030h2.5M1011.75 1060h2.5M1021.75 932h2.5M891.75 1018h2.5M1033.75 1000h2.5M957.75 1066h2.5M1021.75 988h2.5M959.75 1018h2.5M843.75 1076h2.5M989.75 1006h2.5M957.75 1040h2.5M1031.75 1016h2.5M945.75 1068h2.5M957.75 940h2.5M945.75 1008h2.5M1013.75 1062h2.5M1021.75 1032h2.5M929.75 1054h2.5M953.75 1008h2.5M899.75 944h2.5M911.75 1084h2.5M987.75 1018h2.5M1033.75 1002h2.5M1013.75 1056h2.5M961.75 1016h2.5M1035.75 986h2.5M969.75 1084h2.5M873.75 1114h2.5M945.75 1040h2.5M1029.75 1046h2.5M969.75 1036h2.5M857.75 1072h2.5M1007.75 1076h2.5M1019.75 1054h2.5M965.75 1082h2.5M945.75 1054h2.5M987.75 988h2.5M945.75 1060h2.5M1035.75 1048h2.5M943.75 1064h2.5M961.75 1030h2.5M955.75 1026h2.5M949.75 1058h2.5M953.75 1020h2.5M939.75 1012h2.5M949.75 1084h2.5M963.75 1044h2.5M999.75 938h2.5M1009.75 1012h2.5M919.75 984h2.5M945.75 1020h2.5M917.75 1026h2.5M967.75 1026h2.5M957.75 1036h2.5M995.75 1108h2.5M917.75 968h2.5M981.75 1024h2.5M1037.75 982h2.5M1021.75 1040h2.5M977.75 1072h2.5M923.75 986h2.5M1005.75 1060h2.5M931.75 1060h2.5M1013.75 994h2.5M979.75 1024h2.5M981.75 1070h2.5M1033.75 1042h2.5M957.75 1030h2.5M953.75 1040h2.5M881.75 1006h2.5M935.75 1068h2.5M909.75 1094h2.5M1007.75 986h2.5M1039.75 978h2.5M907.75 1126h2.5M971.75 1068h2.5M1021.75 996h2.5M995.75 1030h2.5M961.75 952h2.5M1039.75 974h2.5M909.75 1058h2.5M985.75 1058h2.5M1041.75 956h2.5M1009.75 970h2.5M991.75 1072h2.5M925.75 1066h2.5M935.75 992h2.5M979.75 980h2.5M1035.75 1038h2.5M901.75 1120h2.5M1021.75 1064h2.5M909.75 1060h2.5" stroke="#0000ff" stroke-width="2.5" transform="translate(0,1.25)"/>
<path d="M1079.75 986h2.5M1047.75 998h2.5M1029.75 1010h2.5M1003.75 1032h2.5M1093.75 1002h2.5M1023.75 1038h2.5M1113.75 964h2.5M989.75 1026h2.5M1085.75 968h2.5M1043.75 1034h2.5M987.75 1032h2.5M1131.75 950h2.5M1141.75 946h2.5M987.75 1044h2.5M1095.75 982h2.5M1019.75 1036h2.5M1101.75 968h2.5M1029.75 1026h2.5M1043.75 1000h2.5M1021.75 1022h2.5M1033.75 1036h2.5M1109.75 982h2.5M1095.75 990h2.5M1031.75 992h2.5M1013.75 1012h2.5M1027.75 1040h2.5M1111.75 974h2.5M1125.75 970h2.5M1129.75 968h2.5M1021.75 1028h2.5M1041.75 1000h2.5M1009.75 1026h2.5M1007.75 1042h2.5M1017.75 1006h2.5M1035.75 1008h2.5M999.75 1030h2.5M1021.75 1004h2.5M1105.75 970h2.5M1015.75 1040h2.5M1079.75 994h2.5M1081.75 998h2.5M1049.75 1016h2.5M971.75 1044h2.5M1167.75 964h2.5M963.75 1056h2.5M1117.75 966h2.5M1121.75 972h2.5M1083.75 984h2.5M1129.75 978h2.5M979.75 1034h2.5M1049.75 1008h2.5M989.75 1032h2.5M999.75 1028h2.5M1039.75 1000h2.5M961.75 1026h2.5M1055.75 1008h2.5M959.75 1050h2.5M1107.75 974h2.5M999.75 1042h2.5M983.75 1048h2.5M953.75 1060h2.5M1009.75 1038h2.5M979.75 1038h2.5M987.75 1052h2.5M1009.75 1052h2.5M993.75 1034h2.5M1093.75 1004h2.5M1003.75 1004h2.5M1015.75 1050h2.5M999.75 1054h2.5M1025.75 1000h2.5M1059.75 1006h2.5M1097.75 978h2.5M977.75 1038h2.5M1083.75 1006h2.5M1009.75 1036h2.5M1129.75 996h2.5M955.75 1048h2.5M1019.75 1004h2.5M1011.75 1030h2.5M1029.75 1018h2.5M1015.75 1002h2.5M1011.75 1042h2.5M1005.75 1056h2.5M991.75 1054h2.5M1113.75 968h2.5M1089.75 972h2.5M961.75 1042h2.5M1083.75 990h2.5M1123.75 972h2.5M973.75 1050h2.5M977.75 1030h2.5M1007.75 1028h2.5M1037.75 1024h2.5M1061.75 996h2.5M1139.75 976h2.5M1067.75 994h2.5M1079.75 978h2.5M1089.75 996h2.5M1089.75 970h2.5M1031.75 1038h2.5M1017.75 1020h2.5M1065.75 1006h2.5M1077.75 996h2.5M1089.75 998h2.5M993.75 1062h2.5M1061.75 1026h2.5M1139.75 992h2.5M1009.75 1022h2.5M1047.75 1036h2.5M1021.75 1048h2.5M973.75 1026h2.5M1073.75 990h2.5M1113.75 978h2.5M995.75 1034h2.5M1019.75 1040h2.5M1013.75 1042h2.5M993.75 1032h2.5M1111.75 980h2.5M1111.75 998h2.5M1027.75 1012h2.5M1023.75 1040h2.5M1109.75 996h2.5M949.75 1042h2.5M1075.75 1018h2.5M1095.75 1004h2.5M1049.75 984h2.5M969.75 1034h2.5M1121.75 984h2.5M1093.75 982h2.5M1125.75 982h2.5M979.75 1048h2.5M1073.75 986h2.5M1123.75 1000h2.5M1091.75 970h2.5M1039.75 998h2.5M1043.75 1026h2.5M955.75 1054h2.5M1133.75 996h2.5M1117.75 970h2.5M1023.75 1014h2.5M1015.75 1052h2.5M997.75 1018h2.5M1075.75 968h2.5M1029.75 1014h2.5M977.75 1058h2.5M997.75 1028h2.5M1115.75 994h2.5M1015.75 1014h2.5M1007.75 1020h2.5M1031.75 1028h2.5M1157.75 976h2.5M1037.75 988h2.5M991.75 1028h2.5M1019.75 1024h2.5M969.75 1038h2.5M1117.75 978h2.5M1069.75 978h2.5M1035.75 1018h2.5M1103.75 982h2.5M963.75 1036h2.5M1127.75 982h2.5M987.75 1006h2.5M1111.75 984h2.5M1139.75 962h2.5M1109.75 988h2.5M1141.75 964h2.5M993.75 1040h2.5M1019.75 1050h2.5M1085.75 966h2.5M993.75 1056h2.5M1013.75 1034h2.5M1013.75 1020h2.5M991.75 1034h2.5M981.75 1018h2.5M1019.75 1030h2.5M1061.75 990h2.5M1045.75 1014h2.5M1003.75 1018h2.5M1019.75 1012h2.5M1035.75 1004h2.5M999.75 1008h2.5M1103.75 988h2.5M981.75 1046h2.5M1101.75 1014h2.5M1001.75 1028h2.5M1021.75 1000h2.5M995.75 1036h2.5M1001.75 1038h2.5M987.75 1062h2.5M1035.75 1024h2.5M981.75 1060h2.5M975.75 1040h2.5M1101.75 966h2.5M1097.75 976h2.5M965.75 1074h2.5M1029.75 1008h2.5M1047.75 1014h2.5M1005.75 1048h2.5M965.75 1072h2.5M1007.75 1038h2.5M973.75 1048h2.5M1099.75 980h2.5M1143.75 968h2.5M1009.75 1006h2.5M1081.75 982h2.5M1133.75 954h2.5M973.75 1064h2.5M1007.75 1010h2.5M997.75 1036h2.5M1071.75 1008h2.5M969.75 1044h2.5M973.75 1062h2.5M1001.75 1020h2.5M1001.75 1026h2.5M963.75 1054h2.5M1131.75 952h2.5M975.75 1028h2.5M1017.75 992h2.5M1079.75 984h2.5M997.75 998h2.5M993.75 1018h2.5M1037.75 1026h2.5M999.75 1022h2.5M1107.75 968h2.5M1033.75 1040h2.5M1097.75 974h2.5M1147.75 968h2.5M1001.75 1010h2.5M989.75 1016h2.5M1053.75 1018h2.5M1039.75 1046h2.5M997.75 1032h2.5M1067.75 968h2.5M993.75 1042h2.5M1081.75 986h2.5M1081.75 988h2.5M993.75 1022h2.5M1097.75 964h2.5M1019.75 996h2.5M1019.75 1020h2.5M1025.75 1034h2.5M1041.75 1006h2.5M1009.75 1044h2.5M1003.75 1052h2.5M1045.75 1026h2.5M1003.75 1028h2.5M963.75 1042h2.5M957.75 1060h2.5M1007.75 1060h2.5M1143.75 976h2.5M1057.75 992h2.5M1003.75 1002h2.5M1103.75 986h2.5M979.75 1044h2.5M1023.75 1024h2.5M1027.75 1018h2.5M977.75 1060h2.5M1007.75 1044h2.5M1037.75 1010h2.5M1141.75 976h2.5M1101.75 974h2.5M989.75 1050h2.5M1051.75 1018h2.5M1003.75 1040h2.5M955.75 1046h2.5M989.75 1060h2.5M1123.75 980h2.5M1125.75 968h2.5M1013.75 1024h2.5M1023.75 1012h2.5M987.75 1040h2.5M1027.75 1016h2.5M949.75 1066h2.5M1139.75 954h2.5M1035.75 1026h2.5M1037.75 1016h2.5M1029.75 1012h2.5M991.75 1038h2.5M1003.75 1036h2.5M1099.75 998h2.5M1097.75 1016h2.5M941.75 1052h2.5M1075.75 980h2.5M1055.75 988h2.5M973.75 1056h2.5M1011.75 1038h2.5M1087.75 1016h2.5M1055.75 986h2.5M971.75 1040h2.5M985.75 1054h2.5M985.75 1028h2.5M1099.75 982h2.5M1125.75 966h2.5M1043.75 996h2.5M1055.75 1018h2.5M1125.75 978h2.5M1065.75 1014h2.5M1029.75 1022h2.5M1105.75 984h2.5M991.75 1018h2.5M991.75 1022h2.5M961.75 1036h2.5M1107.75 1008h2.5M1165.75 954h2.5M991.75 1044h2.5M1011.75 1022h2.5M963.75 1046h2.5M1089.75 1000h2.5M1103.75 1004h2.5M1053.75 1014h2.5M1109.75 1002h2.5M993.75 1028h2.5M1025.75 1042h2.5M1085.75 984h2.5M1029.75 1020h2.5M1011.75 1036h2.5M1125.75 972h2.5M1103.75 1010h2.5M967.75 1062h2.5M953.75 1062h2.5M1143.75 978h2.5M1023.75 1016h2.5M1123.75 986h2.5M977.75 1044h2.5M1041.75 1018h2.5M995.75 1026h2.5M1051.75 988h2.5M1003.75 1044h2.5M1035.75 1042h2.5M993.75 1054h2.5M1027.75 1038h2.5M989.75 1042h2.5M1127.75 974h2.5M973.75 1060h2.5M959.75 1048h2.5M1011.75 1032h2.5M1071.75 1002h2.5M1097.75 972h2.5M1021.75 1006h2.5M997.75 1044h2.5M1045.75 996h2.5M977.75 1034h2.5M1133.75 966h2.5M1003.75 1012h2.5M1041.75 1036h2.5M1091.75 996h2.5M1027.75 1024h2.5M999.75 1048h2.5M1101.75 1012h2.5M1041.75 1032h2.5M995.75 1044h2.5M991.75 1062h2.5M1033.75 990h2.5M1005.75 1022h2.5M989.75 1024h2.5M987.75 1060h2.5M983.75 1038h2.5M1119.75 994h2.5M977.75 1054h2.5M1035.75 1020h2.5M1057.75 1000h2.5M1077.75 1006h2.5M1085.75 990h2.5M1007.75 1018h2.5M1079.75 972h2.5M1073.75 1026h2.5M1099.75 986h2.5M1007.75 1006h2.5M1011.75 1012h2.5M1079.75 980h2.5M995.75 1002h2.5M1077.75 982h2.5M1053.75 986h2.5M1139.75 956h2.5M1153.75 964h2.5M995.75 1050h2.5M1041.75 1016h2.5M1087.75 996h2.5M1067.75 992h2.5M1077.75 970h2.5M1049.75 996h2.5M1005.75 1012h2.5M1033.75 1014h2.5M1007.75 1022h2.5M1133.75 998h2.5M1049.75 994h2.5M955.75 1058h2.5M1021.75 1034h2.5M975.75 1058h2.5M1097.75 992h2.5M1077.75 988h2.5M955.75 1040h2.5M1027.75 1022h2.5M1027.75 996h2.5M1033.75 1028h2.5M1097.75 962h2.5M995.75 1046h2.5M1137.75 984h2.5M1033.75 994h2.5M1053.75 1006h2.5M1145.75 948h2.5M1037.75 1032h2.5M991.75 1052h2.5M1021.75 1018h2.5M1003.75 1034h2.5M979.75 1046h2.5M957.75 1048h2.5M1091.75 986h2.5M1001.75 1034h2.5M1115.75 992h2.5M1085.75 998h2.5M975.75 1016h2.5M1027.75 1042h2.5M1031.75 996h2.5M977.75 1050h2.5M1123.75 996h2.5M1095.75 968h2.5M1043.75 1008h2.5M1031.75 1036h2.5M1005.75 1000h2.5M963.75 1024h2.5M1035.75 994h2.5M1083.75 992h2.5M1101.75 970h2.5M1127.75 956h2.5M977.75 1042h2.5M1033.75 1012h2.5M1015.75 1010h2.5M1099.75 990h2.5M1031.75 1002h2.5M1053.75 994h2.5M1165.75 968h2.5M1069.75 1008h2.5M1115.75 988h2.5M1071.75 996h2.5M1101.75 1010h2.5M969.75 1030h2.5M1053.75 1012h2.5M983.75 1034h2.5M1035.75 1016h2.5M1037.75 1002h2.5M1017.75 998h2.5M973.75 1066h2.5M1101.75 980h2.5M1123.75 956h2.5M1039.75 1026h2.5M1005.75 1036h2.5M971.75 1056h2.5M1025.75 1004h2.5M987.75 1056h2.5M985.75 1032h2.5M1021.75 1012h2.5M1109.75 956h2.5M1117.75 988h2.5M1073.75 984h2.5M1013.75 1010h2.5M1013.75 1014h2.5M1013.75 1008h2.5M977.75 1040h2.5M1005.75 1018h2.5M999.75 1050h2.5M1075.75 984h2.5M1123.75 968h2.5M1017.75 1018h2.5M1025.75 1006h2.5M1097.75 980h2.5M1033.75 1008h2.5M985.75 1044h2.5M967.75 1042h2.5M1039.75 1006h2.5M1119.75 990h2.5M1027.75 1000h2.5M989.75 1040h2.5M1091.75 960h2.5M967.75 1040h2.5M1021.75 1036h2.5M1017.75 1014h2.5M1085.75 972h2.5M1089.75 1004h2.5M1075.75 1014h2.5M1033.75 984h2.5M999.75 1004h2.5M993.75 1046h2.5M1037.75 980h2.5M1117.75 956h2.5M969.75 1048h2.5M1067.75 986h2.5M987.75 1026h2.5M1023.75 1000h2.5M991.75 1020h2.5M971.75 1066h2.5M1127.75 994h2.5M1079.75 1006h2.5M991.75 1050h2.5M1059.75 996h2.5M1061.75 972h2.5M999.75 1032h2.5M1089.75 968h2.5M993.75 1006h2.5M1077.75 994h2.5M1001.75 1044h2.5M947.75 1062h2.5M943.75 1054h2.5M1075.75 986h2.5M1037.75 992h2.5M1129.75 972h2.5M1017.75 1022h2.5M1051.75 984h2.5M1015.75 996h2.5M965.75 1052h2.5M1067.75 1010h2.5M1011.75 1040h2.5M1133.75 972h2.5M963.75 1026h2.5M1027.75 1028h2.5M1097.75 986h2.5M1011.75 1024h2.5M1001.75 1022h2.5M1057.75 998h2.5M1027.75 1002h2.5M1003.75 1010h2.5M953.75 1056h2.5M1123.75 962h2.5M1133.75 948h2.5M1091.75 966h2.5M961.75 1052h2.5M1037.75 1020h2.5M971.75 1048h2.5M1017.75 1042h2.5M1049.75 1018h2.5M959.75 1040h2.5M961.75 1040h2.5M1063.75 1008h2.5M1019.75 1002h2.5M965.75 1054h2.5M1027.75 1004h2.5M1043.75 1002h2.5M1113.75 962h2.5M983.75 1040h2.5M999.75 1038h2.5M981.75 1042h2.5M1007.75 1026h2.5M1007.75 1004h2.5M983.75 1020h2.5M1021.75 1002h2.5M1055.75 992h2.5M1091.75 1000h2.5M1019.75 994h2.5M971.75 1060h2.5M1081.75 996h2.5M1135.75 1004h2.5M1029.75 1002h2.5M1135.75 970h2.5M1045.75 998h2.5M1013.75 1026h2.5M1027.75 1044h2.5M1121.75 970h2.5M1133.75 994h2.5M1029.75 1032h2.5M1153.75 976h2.5M1017.75 1016h2.5M1039.75 1008h2.5M1087.75 1000h2.5M983.75 1032h2.5M1029.75 1024h2.5M1081.75 984h2.5M1083.75 964h2.5M1079.75 1004h2.5M985.75 1036h2.5M1123.75 978h2.5M1065.75 980h2.5M1105.75 966h2.5M1121.75 956h2.5M1035.75 1006h2.5M989.75 1046h2.5M1127.75 980h2.5M1075.75 990h2.5M1093.75 966h2.5M999.75 1034h2.5M1003.75 1050h2.5M1017.75 1054h2.5M1009.75 1008h2.5M1021.75 1038h2.5M1049.75 1014h2.5M1109.75 954h2.5M955.75 1050h2.5M1051.75 994h2.5M1003.75 1042h2.5M1039.75 1030h2.5M967.75 1052h2.5M991.75 1006h2.5M1023.75 1030h2.5M1077.75 976h2.5M991.75 1026h2.5M1085.75 986h2.5M1073.75 976h2.5M963.75 1020h2.5M1141.75 968h2.5M989.75 1028h2.5M953.75 1046h2.5M1009.75 1046h2.5M1091.75 1002h2.5M959.75 1044h2.5M1067.75 980h2.5M951.75 1052h2.5M1131.75 968h2.5M1113.75 980h2.5M1047.75 1026h2.5M1085.75 992h2.5M1017.75 1026h2.5M963.75 1048h2.5M1087.75 974h2.5M1027.75 1010h2.5M957.75 1042h2.5M1041.75 1014h2.5M1047.75 1008h2.5M1047.75 994h2.5M997.75 1050h2.5M971.75 1034h2.5M1079.75 988h2.5M1065.75 1012h2.5M1011.75 1018h2.5M1089.75 1018h2.5M1029.75 996h2.5M1135.75 966h2.5M995.75 1066h2.5M1053.75 1010h2.5M1081.75 974h2.5M1041.75 1034h2.5M1059.75 990h2.5M1103.75 990h2.5M1047.75 1002h2.5M1127.75 972h2.5M1045.75 1008h2.5M1041.75 990h2.5M1003.75 1048h2.5M1163.75 966h2.5M1151.75 982h2.5M1007.75 1030h2.5M1003.75 1054h2.5M965.75 1056h2.5M975.75 1054h2.5M1033.75 998h2.5M985.75 1052h2.5M1091.75 1004h2.5M1041.75 1002h2.5M977.75 1062h2.5M1009.75 1030h2.5M1087.75 966h2.5M1087.75 960h2.5M1007.75 1024h2.5M1005.75 1020h2.5M1041.75 1010h2.5M1085.75 1020h2.5M1009.75 1020h2.5M1021.75 1016h2.5M1101.75 964h2.5M1087.75 984h2.5M1043.75 1010h2.5M1031.75 1012h2.5M1107.75 1006h2.5M1049.75 998h2.5M1153.75 962h2.5M1025.75 1036h2.5M1095.75 964h2.5M1055.75 1002h2.5M999.75 1002h2.5M1083.75 998h2.5M1095.75 976h2.5M1019.75 1042h2.5M1083.75 1024h2.5M1013.75 1030h2.5M969.75 1060h2.5M1023.75 1018h2.5M1045.75 1020h2.5M1127.75 996h2.5M983.75 1066h2.5M979.75 1054h2.5M967.75 1060h2.5M981.75 1058h2.5M975.75 1032h2.5M1047.75 1010h2.5M999.75 998h2.5M991.75 1036h2.5M1105.75 982h2.5M999.75 1006h2.5M1107.75 980h2.5M1083.75 1022h2.5M1011.75 1016h2.5M1013.75 1046h2.5M1043.75 1028h2.5M985.75 1050h2.5M951.75 1038h2.5M1105.75 980h2.5M1125.75 954h2.5M979.75 1020h2.5M987.75 1054h2.5M1085.75 1024h2.5M991.75 1046h2.5M1127.75 968h2.5M1003.75 1046h2.5M1103.75 976h2.5M1107.75 986h2.5M949.75 1054h2.5M965.75 1048h2.5M1095.75 1002h2.5M1027.75 998h2.5M1049.75 1012h2.5M1027.75 1008h2.5M993.75 1004h2.5M1123.75 960h2.5M1035.75 1032h2.5M1115.75 986h2.5M1119.75 998h2.5M1001.75 1062h2.5M989.75 1002h2.5M1059.75 994h2.5M1069.75 984h2.5M993.75 1048h2.5M999.75 1064h2.5M1015.75 1004h2.5M1021.75 1024h2.5M1013.75 996h2.5M991.75 1032h2.5M1061.75 986h2.5M1115.75 976h2.5M1043.75 1014h2.5M1071.75 1018h2.5M1087.75 992h2.5M1109.75 986h2.5M1033.75 1020h2.5M1103.75 1002h2.5M1023.75 1002h2.5M1001.75 1052h2.5M1031.75 1044h2.5M997.75 1046h2.5M993.75 1020h2.5M1003.75 1026h2.5M1043.75 990h2.5M1037.75 1038h2.5M959.75 1066h2.5M1025.75 1048h2.5M1003.75 998h2.5M955.75 1044h2.5M981.75 1048h2.5M1037.75 994h2.5M1035.75 1034h2.5M993.75 1044h2.5M1009.75 1050h2.5M965.75 1046h2.5M1023.75 1034h2.5M979.75 1040h2.5M1027.75 1026h2.5M971.75 1038h2.5M999.75 1016h2.5M951.75 1056h2.5M989.75 1062h2.5M1025.75 1032h2.5M985.75 1042h2.5M1039.75 1018h2.5M1039.75 1016h2.5M991.75 1016h2.5M1037.75 1012h2.5M977.75 1046h2.5M999.75 1026h2.5M953.75 1044h2.5M983.75 1052h2.5M973.75 1038h2.5M1003.75 1024h2.5M959.75 1052h2.5M991.75 1058h2.5M989.75 1030h2.5M1005.75 1024h2.5M1013.75 1028h2.5M1037.75 1036h2.5M1009.75 1010h2.5M987.75 1022h2.5M957.75 1046h2.5M1015.75 1036h2.5M1007.75 1008h2.5M985.75 1026h2.5M995.75 1060h2.5M967.75 1054h2.5M1039.75 990h2.5M1011.75 1014h2.5M963.75 1050h2.5M989.75 1018h2.5M1017.75 994h2.5M1005.75 1034h2.5M967.75 1066h2.5M1017.75 986h2.5M973.75 1042h2.5M981.75 1036h2.5M1003.75 1030h2.5M1033.75 988h2.5M1007.75 1048h2.5M949.75 1036h2.5M965.75 1014h2.5M1003.75 1020h2.5M1001.75 1032h2.5M1041.75 994h2.5M1035.75 996h2.5M1009.75 1048h2.5M995.75 1000h2.5M983.75 1054h2.5M1001.75 1030h2.5M975.75 1064h2.5M1015.75 1020h2.5M995.75 1014h2.5M1005.75 1042h2.5M991.75 1002h2.5M975.75 1066h2.5M1025.75 1010h2.5" stroke="#8cf064" stroke-width="2.5" transform="translate(0,1.25)"/>
<path d="M1009.75 1004h2.5M1013.75 1038h2.5M1047.75 1018h2.5M985.75 1024h2.5M1019.75 998h2.5M1031.75 1032h2.5M1019.75 1026h2.5M1045.75 1004h2.5M1045.75 1016h2.5M1027.75 1006h2.5M979.75 1062h2.5M1095.75 986h2.5M1009.75 1024h2.5M997.75 1034h2.5M1017.75 1038h2.5M1087.75 988h2.5M997.75 1042h2.5M1017.75 1012h2.5M1089.75 988h2.5M1031.75 1034h2.5M1101.75 990h2.5M1041.75 1024h2.5M999.75 1052h2.5M981.75 1056h2.5M1045.75 992h2.5M1031.75 1024h2.5M1039.75 996h2.5M983.75 1028h2.5M981.75 1054h2.5M1005.75 1004h2.5M1099.75 984h2.5M1019.75 1000h2.5M973.75 1052h2.5M1029.75 1006h2.5M987.75 1058h2.5M1031.75 1030h2.5M957.75 1050h2.5M1031.75 1008h2.5M993.75 1030h2.5M979.75 1056h2.5M1011.75 1028h2.5M1021.75 1008h2.5M1027.75 1032h2.5M1023.75 1028h2.5M1033.75 1010h2.5M975.75 1042h2.5M1029.75 1030h2.5M957.75 1052h2.5M1089.75 994h2.5M975.75 1050h2.5M965.75 1026h2.5M987.75 1042h2.5M969.75 1058h2.5M1061.75 1004h2.5M991.75 1024h2.5M1027.75 1030h2.5M995.75 1040h2.5M983.75 1044h2.5M1017.75 1010h2.5M1087.75 986h2.5M997.75 1038h2.5M1035.75 998h2.5M1021.75 1014h2.5M1109.75 998h2.5M1045.75 994h2.5M979.75 1050h2.5M975.75 1062h2.5M1029.75 1016h2.5M1035.75 1030h2.5M1063.75 1004h2.5M1099.75 976h2.5M985.75 1034h2.5M1021.75 1030h2.5M1105.75 986h2.5M1023.75 1020h2.5M1039.75 1002h2.5M975.75 1038h2.5M981.75 1028h2.5M1023.75 1004h2.5M1009.75 1016h2.5M983.75 1042h2.5M1043.75 998h2.5M973.75 1044h2.5M1035.75 1000h2.5M957.75 1044h2.5M983.75 1030h2.5M1017.75 1032h2.5M1019.75 1034h2.5M987.75 1036h2.5M1035.75 1014h2.5M1025.75 1018h2.5M1041.75 1008h2.5M1009.75 1018h2.5M1057.75 994h2.5M987.75 1038h2.5M1015.75 1022h2.5M1015.75 1044h2.5M1005.75 1028h2.5M975.75 1052h2.5M991.75 1042h2.5M1017.75 1034h2.5M1005.75 1046h2.5M1031.75 1004h2.5M1023.75 1022h2.5M1015.75 1016h2.5M955.75 1052h2.5M1007.75 1036h2.5" stroke="#ffff20" stroke-width="2.5" transform="translate(0,1.25)"/>
<path d="M1025.75 1030h2.5M995.75 1020h2.5M1009.75 1014h2.5M1005.75 1026h2.5M999.75 1044h2.5M975.75 1048h2.5M993.75 1038h2.5M979.75 1060h2.5M993.75 1026h2.5M999.75 1020h2.5M1101.75 986h2.5M1033.75 1024h2.5M1077.75 990h2.5M1015.75 1042h2.5M989.75 1022h2.5M1095.75 984h2.5M999.75 1024h2.5M973.75 1046h2.5M1101.75 984h2.5M981.75 1052h2.5M977.75 1056h2.5M1025.75 1020h2.5M979.75 1030h2.5M1011.75 1026h2.5M1039.75 1020h2.5M997.75 1026h2.5M975.75 1060h2.5M995.75 1024h2.5M1015.75 1028h2.5M1035.75 1010h2.5M1017.75 1024h2.5M1017.75 1028h2.5M1013.75 1016h2.5M1007.75 1046h2.5M1029.75 1036h2.5M1033.75 1018h2.5M999.75 1036h2.5M975.75 1044h2.5M995.75 1038h2.5M971.75 1046h2.5M1015.75 1024h2.5M1043.75 1016h2.5M985.75 1048h2.5M1031.75 1014h2.5M989.75 1038h2.5M1027.75 1036h2.5M987.75 1024h2.5" stroke="#f06018" stroke-width="2.5" transform="translate(0,1.25)"/>
<path d="M788.4 1175.0h2M799.6 1175.0h2M816.9 1175.0h2M847.1 1175.0h2M854.2 1175.0h2M878.1 1175.0h2M898.3 1175.0h2M907.3 1175.0h2M915.5 1175.0h2M919.0 1175.0h2M919.4 1175.0h2M932.4 1175.0h2M932.6 1175.0h2M935.1 1175.0h2" stroke="#0000ff" stroke-width="1.8"/>
<path d="M768.3 1140.6H772.8M811.8 1176.6V1182.1M768.3 1119.6H772.8M834.6 1176.6V1182.1M768.3 1104.7H772.8M850.8 1176.6V1182.1M768.3 1083.6H772.8M873.7 1176.6V1182.1M768.3 1075.6H772.8M882.3 1176.6V1182.1M768.3 1068.7H772.8M889.9 1176.6V1182.1M768.3 1062.6H772.8M896.5 1176.6V1182.1M768.3 1021.2H772.8M941.4 1176.6V1182.1M768.3 1000.1H772.8M964.3 1176.6V1182.1M768.3 985.2H772.8M980.5 1176.6V1182.1M768.3 964.2H772.8M1003.3 1176.6V1182.1M768.3 956.2H772.8M1012.0 1176.6V1182.1M768.3 949.2H772.8M1019.5 1176.6V1182.1M768.3 943.1H772.8M1026.1 1176.6V1182.1M768.3 901.7H772.8M1071.1 1176.6V1182.1M768.3 880.6H772.8M1093.9 1176.6V1182.1M768.3 865.7H772.8M1110.1 1176.6V1182.1M768.3 844.7H772.8M1132.9 1176.6V1182.1M768.3 836.7H772.8M1141.6 1176.6V1182.1M768.3 829.8H772.8M1149.1 1176.6V1182.1M768.3 823.6H772.8M1155.7 1176.6V1182.1M768.3 782.2H772.8M1200.7 1176.6V1182.1M768.3 761.2H772.8M1223.5 1176.6V1182.1M768.3 746.2H772.8M1239.7 1176.6V1182.1M768.3 725.2H772.8M1262.5 1176.6V1182.1M768.3 717.2H772.8M1271.2 1176.6V1182.1M768.3 710.3H772.8M1278.7 1176.6V1182.1M768.3 704.2H772.8M1285.4 1176.6V1182.1" stroke="#222" stroke-width="1.8" fill="none"/><path d="M767.3 1176.6H772.8M772.8 1176.6V1186.6M768.3 1093.1H772.8M863.4 1176.6V1183.6M767.3 1057.1H772.8M902.4 1176.6V1186.6M768.3 973.6H772.8M993.0 1176.6V1183.6M767.3 937.6H772.8M1032.0 1176.6V1186.6M768.3 854.1H772.8M1122.7 1176.6V1183.6M767.3 818.2H772.8M1161.7 1176.6V1186.6M768.3 734.7H772.8M1252.3 1176.6V1183.6M767.3 698.7H772.8M1291.3 1176.6V1186.6" stroke="#222" stroke-width="2.6" fill="none"/><path d="M772.8 943.8H1291.3M1044.3 698.7V1176.6" stroke="#000" stroke-width="2.5" fill="none"/>
<text transform="translate(5.00,40.70) scale(1.0649,1)" font-size="52.91" fill="#000" font-weight="bold">A</text>
<text transform="translate(219.09,45.57) scale(1.0287,1)" font-size="43.57" fill="#000">untreated cells</text>
<text transform="translate(1033.74,45.07) scale(0.8853,1)" font-size="43.93" fill="#000">2a</text>
<text transform="translate(379.40,682.67) scale(0.9941,1)" font-size="43.98" fill="#000">2b</text>
<text transform="translate(1030.54,683.68) scale(0.9535,1)" font-size="42.94" fill="#000">2c</text>
<text transform="translate(-1.33,632.10) scale(0.9767,1)" font-size="47.24" fill="#000">PI</text>
<text transform="translate(568.84,1286.57) scale(0.9128,1)" font-size="34.18" fill="#000">Annexin V - FITC</text>
<text transform="translate(63.33,91.23) scale(0.8886,1)" font-size="48.30" fill="#000">10</text><text transform="translate(112.15,75.00) scale(0.875,1)" font-size="32.12">4</text>
<text transform="translate(63.33,204.33) scale(0.8886,1)" font-size="48.30" fill="#000">10</text><text transform="translate(111.73,187.80) scale(0.9,1)" font-size="31.21">3</text>
<text transform="translate(63.33,317.93) scale(0.8886,1)" font-size="48.30" fill="#000">10</text><text transform="translate(111.29,301.70) scale(0.95,1)" font-size="31.65">2</text>
<text transform="translate(63.33,430.73) scale(0.8886,1)" font-size="48.30" fill="#000">10</text><text transform="translate(110.96,414.50) scale(0.75,1)" font-size="32.12">1</text>
<text transform="translate(63.33,543.63) scale(0.8886,1)" font-size="48.30" fill="#000">10</text><text transform="translate(111.64,527.10) scale(0.95,1)" font-size="31.21">0</text>
<text transform="translate(113.38,574.08) scale(0.9468,1)" font-size="43.22" fill="#000">10</text><text transform="translate(159.40,558.94) scale(0.95,1)" font-size="26.98">0</text>
<text transform="translate(232.88,574.08) scale(0.9468,1)" font-size="43.22" fill="#000">10</text><text transform="translate(278.31,559.20) scale(0.75,1)" font-size="27.76">1</text>
<text transform="translate(338.98,574.08) scale(0.9468,1)" font-size="43.22" fill="#000">10</text><text transform="translate(384.69,559.20) scale(0.95,1)" font-size="27.35">2</text>
<text transform="translate(458.38,574.08) scale(0.9468,1)" font-size="43.22" fill="#000">10</text><text transform="translate(504.48,558.94) scale(0.9,1)" font-size="26.98">3</text>
<text transform="translate(562.88,574.08) scale(0.9468,1)" font-size="43.22" fill="#000">10</text><text transform="translate(609.34,559.20) scale(0.875,1)" font-size="27.76">4</text>
<text transform="translate(697.79,84.84) scale(0.9037,1)" font-size="46.61" fill="#000">10</text><text transform="translate(745.48,69.20) scale(0.875,1)" font-size="30.81">4</text>
<text transform="translate(697.79,195.04) scale(0.9037,1)" font-size="46.61" fill="#000">10</text><text transform="translate(745.07,179.11) scale(0.9,1)" font-size="29.94">3</text>
<text transform="translate(697.79,305.44) scale(0.9037,1)" font-size="46.61" fill="#000">10</text><text transform="translate(744.65,289.80) scale(0.95,1)" font-size="30.36">2</text>
<text transform="translate(697.79,415.94) scale(0.9037,1)" font-size="46.61" fill="#000">10</text><text transform="translate(744.34,400.30) scale(0.75,1)" font-size="30.81">1</text>
<text transform="translate(697.79,525.94) scale(0.9037,1)" font-size="46.61" fill="#000">10</text><text transform="translate(744.99,510.01) scale(0.95,1)" font-size="29.94">0</text>
<text transform="translate(753.31,575.95) scale(0.9417,1)" font-size="45.90" fill="#000">10</text><text transform="translate(801.73,560.32) scale(0.95,1)" font-size="28.95">0</text>
<text transform="translate(880.91,575.95) scale(0.9417,1)" font-size="45.90" fill="#000">10</text><text transform="translate(928.70,560.60) scale(0.75,1)" font-size="29.80">1</text>
<text transform="translate(992.91,575.95) scale(0.9417,1)" font-size="45.90" fill="#000">10</text><text transform="translate(1041.00,560.60) scale(0.95,1)" font-size="29.36">2</text>
<text transform="translate(1120.31,575.95) scale(0.9417,1)" font-size="45.90" fill="#000">10</text><text transform="translate(1168.81,560.32) scale(0.9,1)" font-size="28.95">3</text>
<text transform="translate(1229.11,575.95) scale(0.9417,1)" font-size="45.90" fill="#000">10</text><text transform="translate(1278.00,560.60) scale(0.875,1)" font-size="29.80">4</text>
<text transform="translate(58.22,717.86) scale(0.8816,1)" font-size="50.28" fill="#000">10</text><text transform="translate(108.95,700.75) scale(0.875,1)" font-size="32.56">4</text>
<text transform="translate(58.22,835.61) scale(0.8816,1)" font-size="50.28" fill="#000">10</text><text transform="translate(108.52,818.19) scale(0.9,1)" font-size="31.64">3</text>
<text transform="translate(58.22,954.16) scale(0.8816,1)" font-size="50.28" fill="#000">10</text><text transform="translate(108.07,937.05) scale(0.95,1)" font-size="32.08">2</text>
<text transform="translate(58.22,1072.36) scale(0.8816,1)" font-size="50.28" fill="#000">10</text><text transform="translate(107.74,1055.25) scale(0.75,1)" font-size="32.56">1</text>
<text transform="translate(58.22,1189.26) scale(0.8816,1)" font-size="50.28" fill="#000">10</text><text transform="translate(108.43,1171.84) scale(0.95,1)" font-size="31.64">0</text>
<text transform="translate(113.03,1239.05) scale(0.9380,1)" font-size="45.76" fill="#000">10</text><text transform="translate(160.92,1223.12) scale(0.95,1)" font-size="29.10">0</text>
<text transform="translate(239.93,1239.05) scale(0.9380,1)" font-size="45.76" fill="#000">10</text><text transform="translate(287.19,1223.40) scale(0.75,1)" font-size="29.94">1</text>
<text transform="translate(350.93,1239.05) scale(0.9380,1)" font-size="45.76" fill="#000">10</text><text transform="translate(398.49,1223.40) scale(0.95,1)" font-size="29.50">2</text>
<text transform="translate(477.63,1239.05) scale(0.9380,1)" font-size="45.76" fill="#000">10</text><text transform="translate(525.60,1223.12) scale(0.9,1)" font-size="29.10">3</text>
<text transform="translate(587.13,1239.05) scale(0.9380,1)" font-size="45.76" fill="#000">10</text><text transform="translate(635.50,1223.40) scale(0.875,1)" font-size="29.94">4</text>
<text transform="translate(695.25,726.67) scale(0.8881,1)" font-size="49.58" fill="#000">10</text><text transform="translate(745.35,709.85) scale(0.875,1)" font-size="32.12">4</text>
<text transform="translate(695.25,842.62) scale(0.8881,1)" font-size="49.58" fill="#000">10</text><text transform="translate(744.93,825.50) scale(0.9,1)" font-size="31.21">3</text>
<text transform="translate(695.25,959.12) scale(0.8881,1)" font-size="49.58" fill="#000">10</text><text transform="translate(744.49,942.30) scale(0.95,1)" font-size="31.65">2</text>
<text transform="translate(695.25,1073.42) scale(0.8881,1)" font-size="49.58" fill="#000">10</text><text transform="translate(744.16,1056.60) scale(0.75,1)" font-size="32.12">1</text>
<text transform="translate(695.25,1187.72) scale(0.8881,1)" font-size="49.58" fill="#000">10</text><text transform="translate(744.84,1170.60) scale(0.95,1)" font-size="31.21">0</text>
<text transform="translate(754.96,1239.35) scale(0.9490,1)" font-size="46.19" fill="#000">10</text><text transform="translate(803.72,1223.41) scale(0.95,1)" font-size="29.24">0</text>
<text transform="translate(883.26,1239.35) scale(0.9490,1)" font-size="46.19" fill="#000">10</text><text transform="translate(931.38,1223.70) scale(0.75,1)" font-size="30.09">1</text>
<text transform="translate(996.86,1239.35) scale(0.9490,1)" font-size="46.19" fill="#000">10</text><text transform="translate(1045.28,1223.70) scale(0.95,1)" font-size="29.65">2</text>
<text transform="translate(1124.76,1239.35) scale(0.9490,1)" font-size="46.19" fill="#000">10</text><text transform="translate(1173.60,1223.41) scale(0.9,1)" font-size="29.24">3</text>
<text transform="translate(1236.26,1239.35) scale(0.9490,1)" font-size="46.19" fill="#000">10</text><text transform="translate(1285.50,1223.70) scale(0.875,1)" font-size="30.09">4</text>
<text transform="translate(138.33,95.90) scale(0.8235,1)" font-size="19.62" fill="#333">Q1</text>
<text transform="translate(138.15,120.10) scale(0.9461,1)" font-size="19.62" fill="#333">7.09</text>
<text transform="translate(558.56,95.90) scale(0.9069,1)" font-size="19.62" fill="#333">Q2</text>
<text transform="translate(545.66,120.10) scale(0.9606,1)" font-size="19.62" fill="#333">1.22</text>
<text transform="translate(138.27,481.00) scale(0.8918,1)" font-size="19.62" fill="#333">Q4</text>
<text transform="translate(138.30,505.00) scale(0.9331,1)" font-size="19.62" fill="#333">87.4</text>
<text transform="translate(558.56,481.00) scale(0.9023,1)" font-size="19.62" fill="#333">Q3</text>
<text transform="translate(546.68,505.00) scale(0.9333,1)" font-size="19.62" fill="#333">4.27</text>
<text transform="translate(785.23,87.70) scale(0.8235,1)" font-size="19.62" fill="#333">Q1</text>
<text transform="translate(784.58,111.90) scale(0.9497,1)" font-size="19.62" fill="#333">1.64</text>
<text transform="translate(1230.66,87.70) scale(0.9069,1)" font-size="19.62" fill="#333">Q2</text>
<text transform="translate(1218.27,111.90) scale(0.9414,1)" font-size="19.62" fill="#333">2.10</text>
<text transform="translate(785.17,482.80) scale(0.8918,1)" font-size="19.62" fill="#333">Q4</text>
<text transform="translate(785.26,506.80) scale(0.9387,1)" font-size="19.62" fill="#333">58.3</text>
<text transform="translate(1230.66,482.80) scale(0.9023,1)" font-size="19.62" fill="#333">Q3</text>
<text transform="translate(1218.50,506.80) scale(0.9394,1)" font-size="19.62" fill="#333">37.9</text>
<text transform="translate(136.83,728.00) scale(0.8235,1)" font-size="19.62" fill="#333">Q1</text>
<text transform="translate(136.17,752.20) scale(0.9570,1)" font-size="19.62" fill="#333">1.78</text>
<text transform="translate(584.16,728.00) scale(0.9069,1)" font-size="19.62" fill="#333">Q2</text>
<text transform="translate(572.00,752.20) scale(0.9304,1)" font-size="19.62" fill="#333">3.24</text>
<text transform="translate(136.77,1124.80) scale(0.8918,1)" font-size="19.62" fill="#333">Q4</text>
<text transform="translate(136.87,1148.80) scale(0.9177,1)" font-size="19.91" fill="#333">55.4</text>
<text transform="translate(584.16,1124.80) scale(0.9023,1)" font-size="19.62" fill="#333">Q3</text>
<text transform="translate(572.00,1148.80) scale(0.9377,1)" font-size="19.62" fill="#333">39.6</text>
<text transform="translate(781.53,731.80) scale(0.8235,1)" font-size="19.62" fill="#333">Q1</text>
<text transform="translate(780.87,756.00) scale(0.9547,1)" font-size="19.62" fill="#333">1.40</text>
<text transform="translate(1234.66,731.80) scale(0.9069,1)" font-size="19.62" fill="#333">Q2</text>
<text transform="translate(1222.50,756.00) scale(0.9304,1)" font-size="19.62" fill="#333">3.04</text>
<text transform="translate(781.47,1133.10) scale(0.8918,1)" font-size="19.62" fill="#333">Q4</text>
<text transform="translate(781.56,1157.10) scale(0.9281,1)" font-size="19.91" fill="#333">55.7</text>
<text transform="translate(1234.66,1133.10) scale(0.9023,1)" font-size="19.62" fill="#333">Q3</text>
<text transform="translate(1222.50,1157.10) scale(0.9375,1)" font-size="19.62" fill="#333">39.8</text>
<path d="M47.9 60V1191.3" stroke="#000" stroke-width="2.2"/>
<path d="M47.9 57.6L38.6 248.8L56.7 249.6Z" fill="#000"/>
<path d="M79 1297.6H1190" stroke="#000" stroke-width="3"/>
<path d="M1273 1297.5L1182.5 1288.8L1182.5 1306.4Z" fill="#000"/>
<rect x="70.4" y="1214" width="5.8" height="13.8" fill="#efefef"/>
<text transform="translate(6.05,1387.80) scale(0.9932,1)" font-size="53.49" fill="#000" font-weight="bold">B</text>
<rect x="76.3" y="1355.3" width="1160.4" height="681" fill="none" stroke="#d0d0d0" stroke-width="1.6"/>
<text transform="translate(521.34,1425.33) scale(0.9727,1)" font-size="48.34" fill="#595959">DU-145 cells</text>
<path d="M228.8 1823.4H1201.3" stroke="#d9d9d9" stroke-width="2"/>
<path d="M228.8 1754.0H1201.3" stroke="#d9d9d9" stroke-width="2"/>
<path d="M228.8 1684.6H1201.3" stroke="#d9d9d9" stroke-width="2"/>
<path d="M228.8 1615.2H1201.3" stroke="#d9d9d9" stroke-width="2"/>
<path d="M228.8 1545.8H1201.3" stroke="#d9d9d9" stroke-width="2"/>
<path d="M228.8 1476.4H1201.3" stroke="#d9d9d9" stroke-width="2"/>
<rect x="301.9" y="1476.70" width="97.60" height="24.10" fill="#344c7e"/>
<rect x="301.9" y="1500.80" width="97.60" height="3.20" fill="#dd0000"/>
<rect x="301.9" y="1504.00" width="97.60" height="14.10" fill="#ffff3b"/>
<rect x="301.9" y="1518.10" width="97.60" height="304.20" fill="#64ae58"/>
<rect x="545.3" y="1476.70" width="97.40" height="6.70" fill="#344c7e"/>
<rect x="545.3" y="1483.40" width="97.40" height="6.70" fill="#dd0000"/>
<rect x="545.3" y="1490.10" width="97.40" height="132.20" fill="#ffff3b"/>
<rect x="545.3" y="1622.30" width="97.40" height="200.00" fill="#64ae58"/>
<rect x="788.8" y="1476.70" width="96.70" height="6.60" fill="#344c7e"/>
<rect x="788.8" y="1483.30" width="96.70" height="10.80" fill="#dd0000"/>
<rect x="788.8" y="1494.10" width="96.70" height="138.70" fill="#ffff3b"/>
<rect x="788.8" y="1632.80" width="96.70" height="189.50" fill="#64ae58"/>
<rect x="1031.6" y="1476.70" width="97.30" height="10.10" fill="#344c7e"/>
<rect x="1031.6" y="1486.80" width="97.30" height="10.50" fill="#dd0000"/>
<rect x="1031.6" y="1497.30" width="97.30" height="135.50" fill="#ffff3b"/>
<rect x="1031.6" y="1632.80" width="97.30" height="189.50" fill="#64ae58"/>
<text x="138.32" y="1837.20" font-size="39.5" fill="#595959">0%</text>
<text x="116.35" y="1767.80" font-size="39.5" fill="#595959">20%</text>
<text x="116.35" y="1698.40" font-size="39.5" fill="#595959">40%</text>
<text x="116.35" y="1629.00" font-size="39.5" fill="#595959">60%</text>
<text x="116.35" y="1559.60" font-size="39.5" fill="#595959">80%</text>
<text x="94.38" y="1490.20" font-size="39.5" fill="#595959">100%</text>
<text transform="translate(267.85,1882.54) scale(1.0724,1)" font-size="36.63" fill="#595959">untreated</text>
<text transform="translate(311.24,1925.84) scale(1.0696,1)" font-size="36.63" fill="#595959">cells</text>
<text transform="translate(570.41,1892.60) scale(1.0034,1)" font-size="41.38" fill="#595959">2a</text>
<text transform="translate(821.50,1892.59) scale(1.0348,1)" font-size="42.35" fill="#595959">2b</text>
<text transform="translate(1056.19,1892.60) scale(1.0115,1)" font-size="41.38" fill="#595959">2c</text>
<rect x="496" y="1977.6" width="19.3" height="19" fill="#64ae58"/>
<text transform="translate(524.03,2000.00) scale(0.9537,1)" font-size="39.83" fill="#595959">V</text>
<rect x="573.1" y="1977.6" width="19.3" height="19" fill="#ffff3b"/>
<text transform="translate(600.50,2000.00) scale(0.9803,1)" font-size="39.83" fill="#595959">EA</text>
<rect x="675.8" y="1977.6" width="19.3" height="19" fill="#dd0000"/>
<text transform="translate(703.17,2000.00) scale(0.9875,1)" font-size="39.83" fill="#595959">LA</text>
<rect x="774.7" y="1977.6" width="19.3" height="19" fill="#344c7e"/>
<text transform="translate(800.85,2000.00) scale(1.0878,1)" font-size="39.83" fill="#595959">N</text>
</svg></body></html>
